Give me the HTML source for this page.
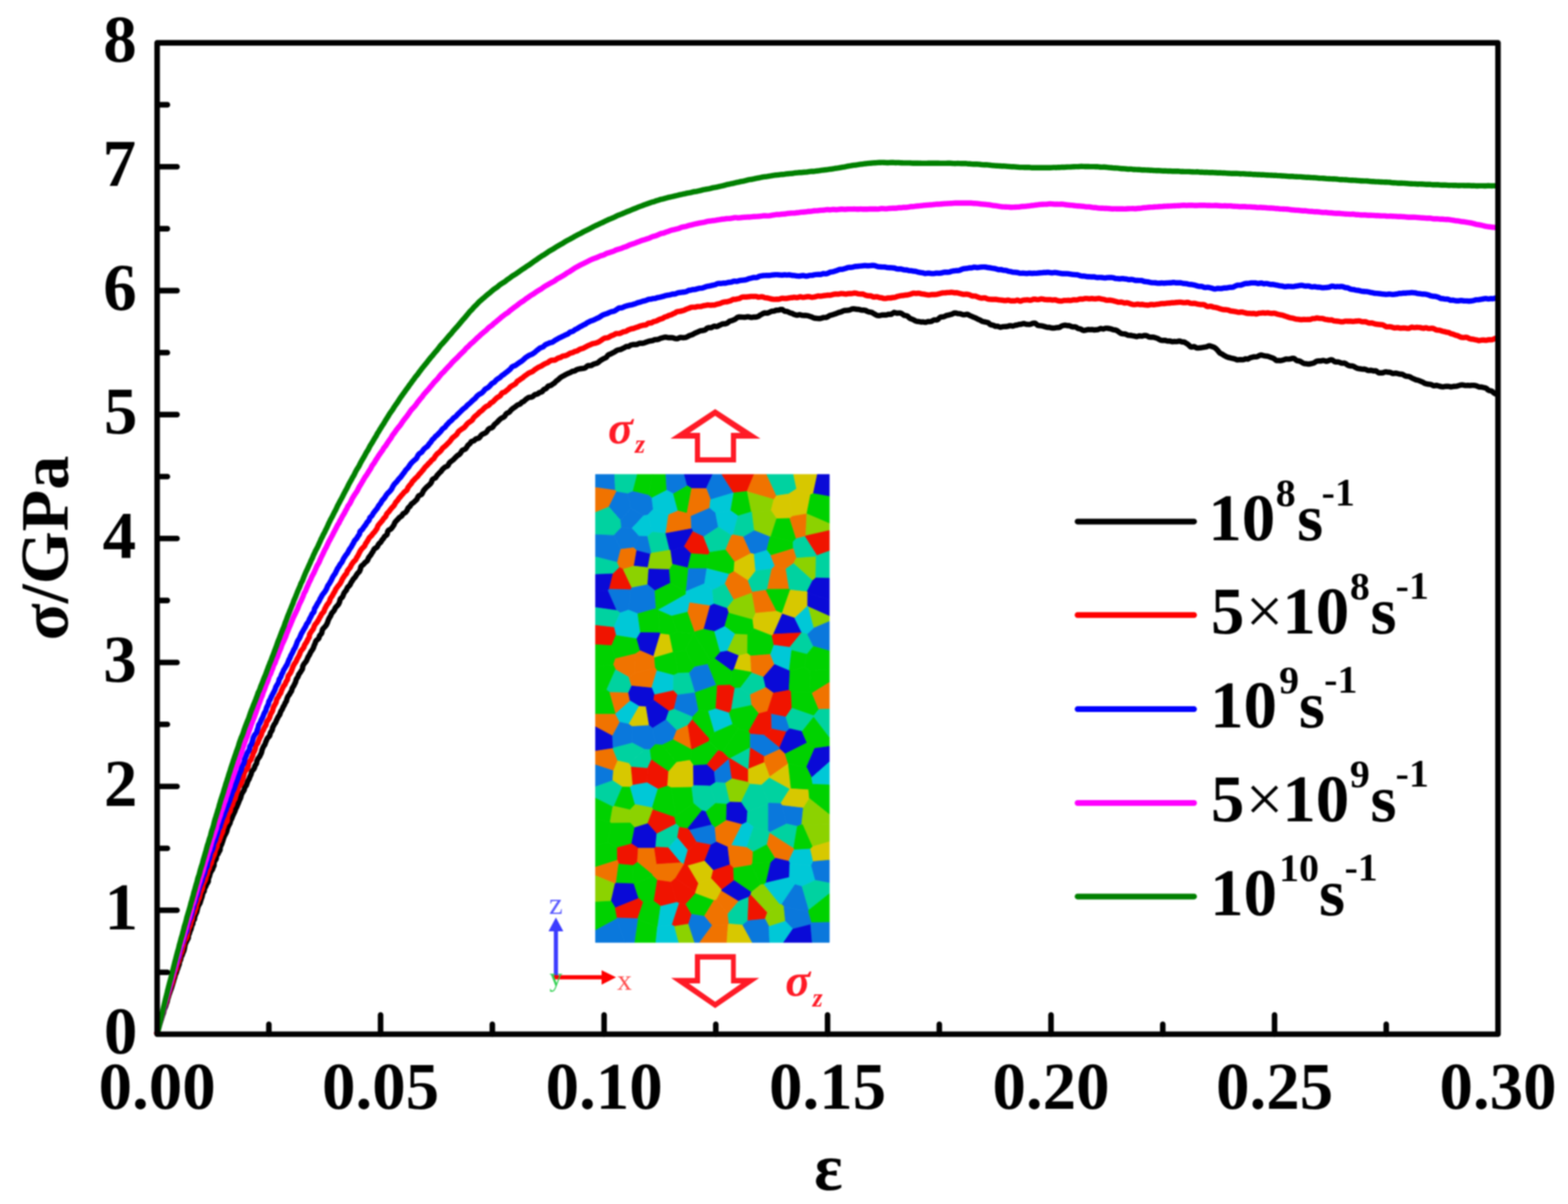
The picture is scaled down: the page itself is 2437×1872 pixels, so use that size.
<!DOCTYPE html>
<html><head><meta charset="utf-8"><title>Stress-strain curves</title>
<style>html,body{margin:0;padding:0;background:#fff;overflow:hidden}svg{display:block;filter:blur(0.9px)}</style>
</head><body>
<svg width="2437" height="1872" viewBox="0 0 2437 1872" font-family="'Liberation Serif', 'Times New Roman', serif">
<rect width="2437" height="1872" fill="#ffffff"/>
<g id="inset">
<polygon points="925.5,737.7 955.2,737.7 956.4,762.4 925.5,757.9" fill="#0a78dc" stroke="#0a78dc" stroke-width="0.8"/>
<polygon points="955.2,737.7 990.5,737.7 983.7,764.0 975.6,767.6 958.0,764.5 956.4,762.4" fill="#00d2a0" stroke="#00d2a0" stroke-width="0.8"/>
<polygon points="990.5,737.7 1014.0,737.7 1008.0,769.9 983.7,764.0" fill="#00d200" stroke="#00d200" stroke-width="0.8"/>
<polygon points="1014.0,737.7 1034.8,737.7 1036.3,762.2 1013.2,774.2 1008.0,769.9" fill="#00d200" stroke="#00d200" stroke-width="0.8"/>
<polygon points="1034.8,737.7 1063.6,737.7 1068.3,755.2 1046.6,767.8 1036.3,762.2" fill="#0a78dc" stroke="#0a78dc" stroke-width="0.8"/>
<polygon points="1063.6,737.7 1107.6,737.7 1097.6,759.6 1075.0,759.4 1068.3,755.2" fill="#0a0ad7" stroke="#0a0ad7" stroke-width="0.8"/>
<polygon points="1107.6,737.7 1122.0,737.7 1140.1,766.2 1104.3,776.9 1097.6,759.6" fill="#0a78dc" stroke="#0a78dc" stroke-width="0.8"/>
<polygon points="1122.0,737.7 1171.9,737.7 1161.1,763.9 1140.5,766.3 1140.1,766.2" fill="#f01400" stroke="#f01400" stroke-width="0.8"/>
<polygon points="1171.9,737.7 1191.7,737.7 1206.9,770.7 1202.8,776.5 1161.5,764.5 1161.1,763.9" fill="#f07300" stroke="#f07300" stroke-width="0.8"/>
<polygon points="1191.7,737.7 1233.3,737.7 1238.1,760.1 1225.6,768.1 1206.9,770.7" fill="#00d2a0" stroke="#00d2a0" stroke-width="0.8"/>
<polygon points="1233.3,737.7 1270.3,737.7 1264.0,767.4 1259.8,769.0 1238.1,760.1" fill="#d7c800" stroke="#d7c800" stroke-width="0.8"/>
<polygon points="1270.3,737.7 1289.0,737.7 1289.0,771.9 1264.0,767.4" fill="#0a0ad7" stroke="#0a0ad7" stroke-width="0.8"/>
<polygon points="925.5,796.7 925.5,757.9 956.4,762.4 958.0,764.5 946.3,788.2" fill="#f07300" stroke="#f07300" stroke-width="0.8"/>
<polygon points="946.3,788.2 958.0,764.5 975.6,767.6 980.4,790.3 964.7,809.3" fill="#0a78dc" stroke="#0a78dc" stroke-width="0.8"/>
<polygon points="980.4,790.3 975.6,767.6 983.7,764.0 1008.0,769.9 1013.2,774.2 1015.3,791.8 1006.9,800.7 1000.4,801.8" fill="#0a78dc" stroke="#0a78dc" stroke-width="0.8"/>
<polygon points="1015.3,791.8 1013.2,774.2 1036.3,762.2 1046.6,767.8 1053.7,794.2 1039.2,800.3" fill="#00c8d7" stroke="#00c8d7" stroke-width="0.8"/>
<polygon points="1053.7,794.2 1046.6,767.8 1068.3,755.2 1075.0,759.4 1067.7,798.1" fill="#00d200" stroke="#00d200" stroke-width="0.8"/>
<polygon points="1067.7,798.1 1075.0,759.4 1097.6,759.6 1104.3,776.9 1102.8,790.1 1073.9,802.6" fill="#f07300" stroke="#f07300" stroke-width="0.8"/>
<polygon points="1102.8,790.1 1104.3,776.9 1140.1,766.2 1140.5,766.3 1135.6,794.1 1112.3,798.1" fill="#00c8d7" stroke="#00c8d7" stroke-width="0.8"/>
<polygon points="1135.6,794.1 1140.5,766.3 1161.1,763.9 1161.5,764.5 1167.9,795.9 1147.1,802.2" fill="#00d200" stroke="#00d200" stroke-width="0.8"/>
<polygon points="1167.9,795.9 1161.5,764.5 1202.8,776.5 1198.4,794.0 1169.0,796.7" fill="#8cd200" stroke="#8cd200" stroke-width="0.8"/>
<polygon points="1198.4,794.0 1202.8,776.5 1206.9,770.7 1225.6,768.1 1231.8,802.7 1227.5,805.9 1207.0,806.6" fill="#d7c800" stroke="#d7c800" stroke-width="0.8"/>
<polygon points="1231.8,802.7 1225.6,768.1 1238.1,760.1 1259.8,769.0 1253.9,798.9" fill="#d7c800" stroke="#d7c800" stroke-width="0.8"/>
<polygon points="1289.0,771.9 1289.0,814.0 1253.9,798.9 1253.9,798.9 1259.8,769.0 1264.0,767.4" fill="#00d200" stroke="#00d200" stroke-width="0.8"/>
<polygon points="925.5,831.2 925.5,796.7 946.3,788.2 964.7,809.3 965.9,819.8 954.1,832.4" fill="#00d2a0" stroke="#00d2a0" stroke-width="0.8"/>
<polygon points="965.9,819.8 964.7,809.3 980.4,790.3 1000.4,801.8 982.0,821.6" fill="#0a78dc" stroke="#0a78dc" stroke-width="0.8"/>
<polygon points="982.0,821.6 1000.4,801.8 1006.9,800.7 1014.1,827.3 1006.6,834.0 993.1,833.7" fill="#00c8d7" stroke="#00c8d7" stroke-width="0.8"/>
<polygon points="1014.1,827.3 1006.9,800.7 1015.3,791.8 1039.2,800.3 1034.7,829.3 1034.6,829.4" fill="#00c8d7" stroke="#00c8d7" stroke-width="0.8"/>
<polygon points="1034.7,829.3 1039.2,800.3 1053.7,794.2 1067.7,798.1 1073.9,802.6 1074.8,821.9" fill="#f07300" stroke="#f07300" stroke-width="0.8"/>
<polygon points="1074.8,821.9 1073.9,802.6 1102.8,790.1 1112.3,798.1 1116.4,819.5 1093.7,834.6 1076.8,826.4" fill="#0a78dc" stroke="#0a78dc" stroke-width="0.8"/>
<polygon points="1116.4,819.5 1112.3,798.1 1135.6,794.1 1147.1,802.2 1139.4,831.5 1137.0,832.5" fill="#00c8d7" stroke="#00c8d7" stroke-width="0.8"/>
<polygon points="1139.4,831.5 1147.1,802.2 1167.9,795.9 1169.0,796.7 1172.5,824.9 1155.6,834.7" fill="#00d2a0" stroke="#00d2a0" stroke-width="0.8"/>
<polygon points="1172.5,824.9 1169.0,796.7 1198.4,794.0 1207.0,806.6 1198.2,833.9 1196.9,834.8" fill="#8cd200" stroke="#8cd200" stroke-width="0.8"/>
<polygon points="1198.2,833.9 1207.0,806.6 1227.5,805.9 1237.5,837.4 1232.7,842.3" fill="#00d200" stroke="#00d200" stroke-width="0.8"/>
<polygon points="1237.5,837.4 1227.5,805.9 1231.8,802.7 1253.9,798.9 1253.9,798.9 1252.4,833.1 1251.5,834.0" fill="#f07300" stroke="#f07300" stroke-width="0.8"/>
<polygon points="1289.0,814.0 1289.0,824.8 1252.4,833.1 1253.9,798.9" fill="#8cd200" stroke="#8cd200" stroke-width="0.8"/>
<polygon points="925.5,865.8 925.5,831.2 954.1,832.4 964.9,854.0 959.6,874.4" fill="#0a78dc" stroke="#0a78dc" stroke-width="0.8"/>
<polygon points="954.1,832.4 965.9,819.8 982.0,821.6 993.1,833.7 984.7,851.6 964.9,854.0" fill="#0a78dc" stroke="#0a78dc" stroke-width="0.8"/>
<polygon points="984.7,851.6 993.1,833.7 1006.6,834.0 1012.6,860.0 1011.0,861.6 989.5,856.1" fill="#0a78dc" stroke="#0a78dc" stroke-width="0.8"/>
<polygon points="1012.6,860.0 1006.6,834.0 1014.1,827.3 1034.6,829.4 1041.0,855.3" fill="#00d2a0" stroke="#00d2a0" stroke-width="0.8"/>
<polygon points="1041.0,855.3 1034.6,829.4 1034.7,829.3 1074.8,821.9 1076.8,826.4 1063.2,850.1 1042.5,856.4" fill="#0a0ad7" stroke="#0a0ad7" stroke-width="0.8"/>
<polygon points="1063.2,850.1 1076.8,826.4 1093.7,834.6 1103.2,858.7 1100.7,862.5 1074.2,860.8" fill="#f01400" stroke="#f01400" stroke-width="0.8"/>
<polygon points="1093.7,834.6 1116.4,819.5 1137.0,832.5 1127.7,855.0 1103.2,858.7" fill="#00d2a0" stroke="#00d2a0" stroke-width="0.8"/>
<polygon points="1127.7,855.0 1137.0,832.5 1139.4,831.5 1155.6,834.7 1167.1,860.4 1141.7,873.8" fill="#f07300" stroke="#f07300" stroke-width="0.8"/>
<polygon points="1167.1,860.4 1155.6,834.7 1172.5,824.9 1196.9,834.8 1191.7,855.6 1172.1,861.6" fill="#0a78dc" stroke="#0a78dc" stroke-width="0.8"/>
<polygon points="1191.7,855.6 1196.9,834.8 1198.2,833.9 1232.7,842.3 1232.9,853.1 1197.9,863.7" fill="#00d200" stroke="#00d200" stroke-width="0.8"/>
<polygon points="1237.5,867.8 1232.9,853.1 1232.7,842.3 1237.5,837.4 1251.5,834.0 1270.2,863.5 1268.3,865.7" fill="#00d2a0" stroke="#00d2a0" stroke-width="0.8"/>
<polygon points="1289.0,824.8 1289.0,856.7 1270.2,863.5 1251.5,834.0 1252.4,833.1" fill="#f01400" stroke="#f01400" stroke-width="0.8"/>
<polygon points="925.5,893.2 925.5,865.8 959.6,874.4 962.7,882.2 952.8,892.1" fill="#00d2a0" stroke="#00d2a0" stroke-width="0.8"/>
<polygon points="959.6,874.4 964.9,854.0 984.7,851.6 989.5,856.1 985.4,880.1 968.6,885.2 962.7,882.2" fill="#f07300" stroke="#f07300" stroke-width="0.8"/>
<polygon points="985.4,880.1 989.5,856.1 1011.0,861.6 1007.0,882.4" fill="#0a0ad7" stroke="#0a0ad7" stroke-width="0.8"/>
<polygon points="1007.0,882.4 1011.0,861.6 1012.6,860.0 1041.0,855.3 1042.5,856.4 1045.4,877.3 1040.4,885.4 1008.3,884.6" fill="#8cd200" stroke="#8cd200" stroke-width="0.8"/>
<polygon points="1045.4,877.3 1042.5,856.4 1063.2,850.1 1074.2,860.8 1069.1,882.9" fill="#0a0ad7" stroke="#0a0ad7" stroke-width="0.8"/>
<polygon points="1069.1,882.9 1074.2,860.8 1100.7,862.5 1098.7,884.0 1098.6,884.1 1070.1,884.0" fill="#00d200" stroke="#00d200" stroke-width="0.8"/>
<polygon points="1098.7,884.0 1100.7,862.5 1103.2,858.7 1127.7,855.0 1141.7,873.8 1140.7,888.5 1133.3,892.8" fill="#00d200" stroke="#00d200" stroke-width="0.8"/>
<polygon points="1140.7,888.5 1141.7,873.8 1167.1,860.4 1172.1,861.6 1174.4,887.7 1162.7,902.8" fill="#d7c800" stroke="#d7c800" stroke-width="0.8"/>
<polygon points="1174.4,887.7 1172.1,861.6 1191.7,855.6 1197.9,863.7 1204.3,879.8 1199.6,884.6" fill="#00c8d7" stroke="#00c8d7" stroke-width="0.8"/>
<polygon points="1204.3,879.8 1197.9,863.7 1232.9,853.1 1237.5,867.8 1233.4,876.1 1221.5,884.5" fill="#f07300" stroke="#f07300" stroke-width="0.8"/>
<polygon points="1233.4,876.1 1237.5,867.8 1268.3,865.7 1267.8,898.6 1262.9,902.7" fill="#8cd200" stroke="#8cd200" stroke-width="0.8"/>
<polygon points="1289.0,856.7 1289.0,899.0 1267.8,898.6 1268.3,865.7 1270.2,863.5" fill="#00d2a0" stroke="#00d2a0" stroke-width="0.8"/>
<polygon points="925.5,918.9 925.5,893.2 952.8,892.1 946.9,916.1 945.1,917.8" fill="#0a0ad7" stroke="#0a0ad7" stroke-width="0.8"/>
<polygon points="946.9,916.1 952.8,892.1 962.7,882.2 968.6,885.2 982.1,913.8 980.3,916.9" fill="#f01400" stroke="#f01400" stroke-width="0.8"/>
<polygon points="968.6,885.2 985.4,880.1 1007.0,882.4 1008.3,884.6 1006.6,909.1 982.1,913.8" fill="#8cd200" stroke="#8cd200" stroke-width="0.8"/>
<polygon points="1006.6,909.1 1008.3,884.6 1040.4,885.4 1042.1,906.4 1017.9,918.4" fill="#0a0ad7" stroke="#0a0ad7" stroke-width="0.8"/>
<polygon points="1042.1,906.4 1040.4,885.4 1045.4,877.3 1069.1,882.9 1070.1,884.0 1066.3,919.6 1066.1,919.8" fill="#00d200" stroke="#00d200" stroke-width="0.8"/>
<polygon points="1066.3,919.6 1070.1,884.0 1098.6,884.1 1095.0,907.5" fill="#0a78dc" stroke="#0a78dc" stroke-width="0.8"/>
<polygon points="1095.0,907.5 1098.6,884.1 1098.7,884.0 1133.3,892.8 1126.6,908.1 1107.4,917.4" fill="#00c8d7" stroke="#00c8d7" stroke-width="0.8"/>
<polygon points="1126.6,908.1 1133.3,892.8 1140.7,888.5 1162.7,902.8 1169.6,920.4 1168.8,921.9 1140.1,932.6" fill="#f07300" stroke="#f07300" stroke-width="0.8"/>
<polygon points="1162.7,902.8 1174.4,887.7 1199.6,884.6 1192.5,916.2 1190.5,917.5 1169.6,920.4" fill="#00d2a0" stroke="#00d2a0" stroke-width="0.8"/>
<polygon points="1192.5,916.2 1199.6,884.6 1204.3,879.8 1221.5,884.5 1226.7,916.0" fill="#f07300" stroke="#f07300" stroke-width="0.8"/>
<polygon points="1226.7,916.0 1221.5,884.5 1233.4,876.1 1262.9,902.7 1254.2,920.0 1228.2,917.3" fill="#00d2a0" stroke="#00d2a0" stroke-width="0.8"/>
<polygon points="1289.0,899.0 1289.0,932.2 1255.2,921.8 1254.2,920.0 1262.9,902.7 1267.8,898.6" fill="#0a0ad7" stroke="#0a0ad7" stroke-width="0.8"/>
<polygon points="925.5,944.6 925.5,918.9 945.1,917.8 958.9,949.2" fill="#0a0ad7" stroke="#0a0ad7" stroke-width="0.8"/>
<polygon points="945.1,917.8 946.9,916.1 980.3,916.9 976.8,948.5 964.0,952.9 958.9,949.2" fill="#0a78dc" stroke="#0a78dc" stroke-width="0.8"/>
<polygon points="976.8,948.5 980.3,916.9 982.1,913.8 1006.6,909.1 1017.9,918.4 1019.6,946.2 991.3,954.3" fill="#0a78dc" stroke="#0a78dc" stroke-width="0.8"/>
<polygon points="1019.6,946.2 1017.9,918.4 1042.1,906.4 1066.1,919.8 1066.1,924.2 1023.0,948.4" fill="#00d200" stroke="#00d200" stroke-width="0.8"/>
<polygon points="1023.0,948.4 1066.1,924.2 1072.0,937.1 1069.0,951.5 1043.7,957.8 1023.3,948.9" fill="#00c8d7" stroke="#00c8d7" stroke-width="0.8"/>
<polygon points="1066.1,924.2 1066.1,919.8 1066.3,919.6 1095.0,907.5 1107.4,917.4 1109.5,938.9 1103.8,941.9 1072.0,937.1" fill="#00c8d7" stroke="#00c8d7" stroke-width="0.8"/>
<polygon points="1109.5,938.9 1107.4,917.4 1126.6,908.1 1140.1,932.6 1129.9,945.9" fill="#00d2a0" stroke="#00d2a0" stroke-width="0.8"/>
<polygon points="1129.9,945.9 1140.1,932.6 1168.8,921.9 1174.4,953.4 1170.0,963.6 1132.2,953.1" fill="#8cd200" stroke="#8cd200" stroke-width="0.8"/>
<polygon points="1174.4,953.4 1168.8,921.9 1169.6,920.4 1190.5,917.5 1207.2,950.3" fill="#f07300" stroke="#f07300" stroke-width="0.8"/>
<polygon points="1190.5,917.5 1192.5,916.2 1226.7,916.0 1228.2,917.3 1215.4,953.8 1207.2,950.3" fill="#00d200" stroke="#00d200" stroke-width="0.8"/>
<polygon points="1215.4,953.8 1228.2,917.3 1254.2,920.0 1255.2,921.8 1255.1,942.2 1235.1,960.9 1215.9,954.6" fill="#d7c800" stroke="#d7c800" stroke-width="0.8"/>
<polygon points="1289.0,932.2 1289.0,958.1 1256.4,943.5 1255.1,942.2 1255.2,921.8" fill="#0a0ad7" stroke="#0a0ad7" stroke-width="0.8"/>
<polygon points="925.5,972.3 925.5,944.6 958.9,949.2 964.0,952.9 954.1,975.4" fill="#00d2a0" stroke="#00d2a0" stroke-width="0.8"/>
<polygon points="954.1,975.4 964.0,952.9 976.8,948.5 991.3,954.3 995.4,983.5 989.7,993.1 957.2,987.9" fill="#00c8d7" stroke="#00c8d7" stroke-width="0.8"/>
<polygon points="995.4,983.5 991.3,954.3 1019.6,946.2 1023.0,948.4 1023.3,948.9 1025.2,983.9" fill="#00d200" stroke="#00d200" stroke-width="0.8"/>
<polygon points="1025.2,983.9 1023.3,948.9 1043.7,957.8 1052.0,982.2 1040.7,987.2 1026.4,985.4" fill="#00d200" stroke="#00d200" stroke-width="0.8"/>
<polygon points="1043.7,957.8 1069.0,951.5 1079.9,982.2 1078.0,984.6 1077.6,984.9 1052.0,982.2" fill="#00d200" stroke="#00d200" stroke-width="0.8"/>
<polygon points="1069.0,951.5 1072.0,937.1 1103.8,941.9 1093.9,978.3 1079.9,982.2" fill="#f07300" stroke="#f07300" stroke-width="0.8"/>
<polygon points="1093.9,978.3 1103.8,941.9 1109.5,938.9 1129.9,945.9 1132.2,953.1 1126.3,974.0 1110.6,981.8" fill="#0a0ad7" stroke="#0a0ad7" stroke-width="0.8"/>
<polygon points="1126.3,974.0 1132.2,953.1 1170.0,963.6 1171.8,977.5 1162.0,987.0 1142.5,985.9" fill="#00d200" stroke="#00d200" stroke-width="0.8"/>
<polygon points="1171.8,977.5 1170.0,963.6 1174.4,953.4 1207.2,950.3 1215.4,953.8 1215.9,954.6 1202.0,986.1 1199.8,988.4" fill="#d7c800" stroke="#d7c800" stroke-width="0.8"/>
<polygon points="1202.0,986.1 1215.9,954.6 1235.1,960.9 1246.2,983.5 1245.7,983.8" fill="#0a0ad7" stroke="#0a0ad7" stroke-width="0.8"/>
<polygon points="1246.2,983.5 1235.1,960.9 1255.1,942.2 1256.4,943.5 1265.2,976.3 1255.0,986.2" fill="#00c8d7" stroke="#00c8d7" stroke-width="0.8"/>
<polygon points="1289.0,958.1 1289.0,966.2 1265.2,976.3 1256.4,943.5" fill="#8cd200" stroke="#8cd200" stroke-width="0.8"/>
<polygon points="925.5,1002.3 925.5,972.3 954.1,975.4 957.2,987.9 950.7,1003.8" fill="#f01400" stroke="#f01400" stroke-width="0.8"/>
<polygon points="950.7,1003.8 957.2,987.9 989.7,993.1 995.1,1011.7 987.4,1016.7 956.5,1024.2" fill="#00d200" stroke="#00d200" stroke-width="0.8"/>
<polygon points="995.1,1011.7 989.7,993.1 995.4,983.5 1025.2,983.9 1026.4,985.4 1015.8,1020.6" fill="#0a0ad7" stroke="#0a0ad7" stroke-width="0.8"/>
<polygon points="1015.8,1020.6 1026.4,985.4 1040.7,987.2 1046.2,1014.0 1017.2,1022.6" fill="#d7c800" stroke="#d7c800" stroke-width="0.8"/>
<polygon points="1046.2,1014.0 1040.7,987.2 1052.0,982.2 1077.6,984.9 1065.6,1010.6 1048.3,1014.6" fill="#00d200" stroke="#00d200" stroke-width="0.8"/>
<polygon points="1078.0,984.6 1079.9,982.2 1093.9,978.3 1110.6,981.8 1119.5,1013.9 1110.8,1024.1 1104.5,1027.3" fill="#00d200" stroke="#00d200" stroke-width="0.8"/>
<polygon points="1119.5,1013.9 1110.6,981.8 1126.3,974.0 1142.5,985.9 1130.4,1012.2" fill="#00c8d7" stroke="#00c8d7" stroke-width="0.8"/>
<polygon points="1130.4,1012.2 1142.5,985.9 1162.0,987.0 1161.8,1016.2 1148.2,1019.5" fill="#8cd200" stroke="#8cd200" stroke-width="0.8"/>
<polygon points="1161.8,1016.2 1162.0,987.0 1171.8,977.5 1199.8,988.4 1202.9,1003.1 1197.5,1017.4 1166.5,1019.8" fill="#00d200" stroke="#00d200" stroke-width="0.8"/>
<polygon points="1202.9,1003.1 1199.8,988.4 1202.0,986.1 1245.7,983.8 1227.4,1006.4" fill="#f01400" stroke="#f01400" stroke-width="0.8"/>
<polygon points="1230.4,1011.2 1227.4,1006.4 1245.7,983.8 1246.2,983.5 1255.0,986.2 1264.3,1004.9 1254.2,1017.2" fill="#00d2a0" stroke="#00d2a0" stroke-width="0.8"/>
<polygon points="1289.0,966.2 1289.0,1012.1 1264.3,1004.9 1255.0,986.2 1265.2,976.3" fill="#0a78dc" stroke="#0a78dc" stroke-width="0.8"/>
<polygon points="925.5,1036.3 925.5,1002.3 950.7,1003.8 956.5,1024.2 953.4,1033.9" fill="#00d200" stroke="#00d200" stroke-width="0.8"/>
<polygon points="953.4,1033.9 956.5,1024.2 987.4,1016.7 986.2,1046.4 977.6,1053.1 956.7,1041.2" fill="#f07300" stroke="#f07300" stroke-width="0.8"/>
<polygon points="986.2,1046.4 987.4,1016.7 995.1,1011.7 1015.8,1020.6 1017.2,1022.6 1018.5,1038.8" fill="#f07300" stroke="#f07300" stroke-width="0.8"/>
<polygon points="1018.5,1038.8 1017.2,1022.6 1046.2,1014.0 1048.3,1014.6 1053.9,1046.7 1046.9,1049.9 1020.9,1043.0" fill="#00d200" stroke="#00d200" stroke-width="0.8"/>
<polygon points="1053.9,1046.7 1048.3,1014.6 1065.6,1010.6 1079.3,1037.1 1071.5,1046.0" fill="#00d200" stroke="#00d200" stroke-width="0.8"/>
<polygon points="1065.6,1010.6 1077.6,984.9 1078.0,984.6 1104.5,1027.3 1100.3,1032.7 1079.3,1037.1" fill="#00d200" stroke="#00d200" stroke-width="0.8"/>
<polygon points="1110.8,1024.1 1119.5,1013.9 1130.4,1012.2 1148.2,1019.5 1140.9,1040.3 1137.5,1043.4" fill="#0a0ad7" stroke="#0a0ad7" stroke-width="0.8"/>
<polygon points="1140.9,1040.3 1148.2,1019.5 1161.8,1016.2 1166.5,1019.8 1167.9,1045.0" fill="#d7c800" stroke="#d7c800" stroke-width="0.8"/>
<polygon points="1167.9,1045.0 1166.5,1019.8 1197.5,1017.4 1203.8,1033.0 1186.6,1052.8 1168.4,1046.2" fill="#f07300" stroke="#f07300" stroke-width="0.8"/>
<polygon points="1203.8,1033.0 1197.5,1017.4 1202.9,1003.1 1227.4,1006.4 1230.4,1011.2 1226.6,1042.8" fill="#00c8d7" stroke="#00c8d7" stroke-width="0.8"/>
<polygon points="1226.6,1042.8 1230.4,1011.2 1254.2,1017.2 1249.5,1037.1 1227.8,1043.9" fill="#00d200" stroke="#00d200" stroke-width="0.8"/>
<polygon points="1289.0,1012.1 1289.0,1040.7 1258.7,1042.9 1249.5,1037.1 1254.2,1017.2 1264.3,1004.9" fill="#00d200" stroke="#00d200" stroke-width="0.8"/>
<polygon points="925.5,1076.0 925.5,1036.3 953.4,1033.9 956.7,1041.2 942.8,1072.8" fill="#00d200" stroke="#00d200" stroke-width="0.8"/>
<polygon points="942.8,1072.8 956.7,1041.2 977.6,1053.1 981.7,1066.5 976.8,1077.3 947.8,1076.5" fill="#00d2a0" stroke="#00d2a0" stroke-width="0.8"/>
<polygon points="981.7,1066.5 977.6,1053.1 986.2,1046.4 1018.5,1038.8 1020.9,1043.0 1012.8,1069.6" fill="#f07300" stroke="#f07300" stroke-width="0.8"/>
<polygon points="1012.8,1069.6 1020.9,1043.0 1046.9,1049.9 1046.6,1073.8 1017.1,1080.3" fill="#00c8d7" stroke="#00c8d7" stroke-width="0.8"/>
<polygon points="1046.6,1073.8 1046.9,1049.9 1053.9,1046.7 1071.5,1046.0 1080.5,1076.8 1080.4,1077.0 1052.9,1080.5" fill="#00d2a0" stroke="#00d2a0" stroke-width="0.8"/>
<polygon points="1080.5,1076.8 1071.5,1046.0 1079.3,1037.1 1100.3,1032.7 1113.4,1065.1" fill="#0a78dc" stroke="#0a78dc" stroke-width="0.8"/>
<polygon points="1100.3,1032.7 1104.5,1027.3 1110.8,1024.1 1137.5,1043.4 1134.5,1064.9 1114.9,1065.9 1113.4,1065.1" fill="#00d200" stroke="#00d200" stroke-width="0.8"/>
<polygon points="1134.5,1064.9 1137.5,1043.4 1140.9,1040.3 1167.9,1045.0 1168.4,1046.2 1150.5,1069.7 1142.1,1070.1" fill="#00d200" stroke="#00d200" stroke-width="0.8"/>
<polygon points="1150.5,1069.7 1168.4,1046.2 1186.6,1052.8 1190.3,1068.9 1166.2,1079.9" fill="#00d2a0" stroke="#00d2a0" stroke-width="0.8"/>
<polygon points="1190.3,1068.9 1186.6,1052.8 1203.8,1033.0 1226.6,1042.8 1227.8,1043.9 1226.4,1073.1 1202.0,1077.5" fill="#0a0ad7" stroke="#0a0ad7" stroke-width="0.8"/>
<polygon points="1226.4,1073.1 1227.8,1043.9 1249.5,1037.1 1258.7,1042.9 1260.2,1076.6 1229.7,1076.1" fill="#00d200" stroke="#00d200" stroke-width="0.8"/>
<polygon points="1289.0,1040.7 1289.0,1061.1 1262.2,1077.7 1260.2,1076.6 1258.7,1042.9" fill="#00d200" stroke="#00d200" stroke-width="0.8"/>
<polygon points="925.5,1110.4 925.5,1076.0 942.8,1072.8 947.8,1076.5 957.0,1109.6 956.8,1110.3" fill="#00d200" stroke="#00d200" stroke-width="0.8"/>
<polygon points="957.0,1109.6 947.8,1076.5 976.8,1077.3 979.4,1089.8" fill="#f07300" stroke="#f07300" stroke-width="0.8"/>
<polygon points="979.4,1089.8 976.8,1077.3 981.7,1066.5 1012.8,1069.6 1017.1,1080.3 1016.0,1088.7 1004.3,1099.1 993.4,1098.1" fill="#0a0ad7" stroke="#0a0ad7" stroke-width="0.8"/>
<polygon points="1016.0,1088.7 1017.1,1080.3 1046.6,1073.8 1052.9,1080.5 1047.6,1102.6 1039.7,1105.6" fill="#f01400" stroke="#f01400" stroke-width="0.8"/>
<polygon points="1047.6,1102.6 1052.9,1080.5 1080.4,1077.0 1085.8,1104.5 1076.3,1114.7" fill="#0a78dc" stroke="#0a78dc" stroke-width="0.8"/>
<polygon points="1085.8,1104.5 1080.4,1077.0 1080.5,1076.8 1113.4,1065.1 1114.9,1065.9 1112.5,1102.0 1101.1,1105.7" fill="#00d200" stroke="#00d200" stroke-width="0.8"/>
<polygon points="1112.5,1102.0 1114.9,1065.9 1134.5,1064.9 1142.1,1070.1 1136.7,1103.3 1133.2,1108.5" fill="#f01400" stroke="#f01400" stroke-width="0.8"/>
<polygon points="1136.7,1103.3 1142.1,1070.1 1150.5,1069.7 1166.2,1079.9 1168.4,1096.6" fill="#00d2a0" stroke="#00d2a0" stroke-width="0.8"/>
<polygon points="1168.4,1096.6 1166.2,1079.9 1190.3,1068.9 1202.0,1077.5 1192.8,1106.1 1179.1,1109.6" fill="#f07300" stroke="#f07300" stroke-width="0.8"/>
<polygon points="1192.8,1106.1 1202.0,1077.5 1226.4,1073.1 1229.7,1076.1 1230.8,1101.0 1221.4,1114.8 1198.9,1110.2" fill="#f01400" stroke="#f01400" stroke-width="0.8"/>
<polygon points="1230.8,1101.0 1229.7,1076.1 1260.2,1076.6 1262.2,1077.7 1272.7,1102.9 1264.8,1112.9" fill="#00d200" stroke="#00d200" stroke-width="0.8"/>
<polygon points="1289.0,1061.1 1289.0,1102.5 1272.7,1102.9 1262.2,1077.7" fill="#f07300" stroke="#f07300" stroke-width="0.8"/>
<polygon points="925.5,1130.0 925.5,1110.4 956.8,1110.3 963.4,1122.8 951.9,1144.2" fill="#f07300" stroke="#f07300" stroke-width="0.8"/>
<polygon points="956.8,1110.3 957.0,1109.6 979.4,1089.8 993.4,1098.1 977.4,1125.9 963.4,1122.8" fill="#00c8d7" stroke="#00c8d7" stroke-width="0.8"/>
<polygon points="977.4,1125.9 993.4,1098.1 1004.3,1099.1 1009.1,1127.9 982.3,1129.6" fill="#d7c800" stroke="#d7c800" stroke-width="0.8"/>
<polygon points="1009.1,1127.9 1004.3,1099.1 1016.0,1088.7 1039.7,1105.6 1035.1,1119.0 1014.2,1132.2" fill="#0a0ad7" stroke="#0a0ad7" stroke-width="0.8"/>
<polygon points="1035.1,1119.0 1039.7,1105.6 1047.6,1102.6 1076.3,1114.7 1075.8,1119.0 1069.2,1127.5 1051.8,1135.7" fill="#00d2a0" stroke="#00d2a0" stroke-width="0.8"/>
<polygon points="1075.8,1119.0 1076.3,1114.7 1085.8,1104.5 1101.1,1105.7 1110.7,1138.6 1102.5,1148.9" fill="#00d200" stroke="#00d200" stroke-width="0.8"/>
<polygon points="1110.7,1138.6 1101.1,1105.7 1112.5,1102.0 1133.2,1108.5 1138.9,1126.0" fill="#00c8d7" stroke="#00c8d7" stroke-width="0.8"/>
<polygon points="1138.9,1126.0 1133.2,1108.5 1136.7,1103.3 1168.4,1096.6 1179.1,1109.6 1163.5,1137.4 1147.6,1132.9" fill="#00d200" stroke="#00d200" stroke-width="0.8"/>
<polygon points="1163.5,1137.4 1179.1,1109.6 1192.8,1106.1 1198.9,1110.2 1199.5,1133.3 1188.3,1143.0 1165.9,1141.3" fill="#f01400" stroke="#f01400" stroke-width="0.8"/>
<polygon points="1199.5,1133.3 1198.9,1110.2 1221.4,1114.8 1227.3,1132.9 1222.2,1137.9" fill="#0a78dc" stroke="#0a78dc" stroke-width="0.8"/>
<polygon points="1227.3,1132.9 1221.4,1114.8 1230.8,1101.0 1264.8,1112.9 1264.5,1114.9 1246.6,1137.3" fill="#00d2a0" stroke="#00d2a0" stroke-width="0.8"/>
<polygon points="1289.0,1102.5 1289.0,1147.1 1264.5,1114.9 1264.8,1112.9 1272.7,1102.9" fill="#00d2a0" stroke="#00d2a0" stroke-width="0.8"/>
<polygon points="925.5,1167.8 925.5,1130.0 951.9,1144.2 953.0,1163.0 952.5,1163.7" fill="#0a0ad7" stroke="#0a0ad7" stroke-width="0.8"/>
<polygon points="953.0,1163.0 951.9,1144.2 963.4,1122.8 977.4,1125.9 982.3,1129.6 982.9,1155.2" fill="#0a78dc" stroke="#0a78dc" stroke-width="0.8"/>
<polygon points="982.9,1155.2 982.3,1129.6 1009.1,1127.9 1014.2,1132.2 1018.5,1157.4 1010.4,1165.4 1001.9,1165.2" fill="#0a78dc" stroke="#0a78dc" stroke-width="0.8"/>
<polygon points="1018.5,1157.4 1014.2,1132.2 1035.1,1119.0 1051.8,1135.7 1046.3,1150.0 1029.1,1158.3" fill="#0a78dc" stroke="#0a78dc" stroke-width="0.8"/>
<polygon points="1046.3,1150.0 1051.8,1135.7 1069.2,1127.5 1075.0,1165.4" fill="#f07300" stroke="#f07300" stroke-width="0.8"/>
<polygon points="1075.0,1165.4 1069.2,1127.5 1075.8,1119.0 1102.5,1148.9 1102.2,1152.4 1075.3,1165.8" fill="#f01400" stroke="#f01400" stroke-width="0.8"/>
<polygon points="1102.2,1152.4 1102.5,1148.9 1110.7,1138.6 1138.9,1126.0 1147.6,1132.9 1122.8,1169.0 1116.4,1166.8" fill="#00d200" stroke="#00d200" stroke-width="0.8"/>
<polygon points="1122.8,1169.0 1147.6,1132.9 1163.5,1137.4 1165.9,1141.3 1166.1,1162.6 1134.7,1179.3 1133.2,1179.6" fill="#00d200" stroke="#00d200" stroke-width="0.8"/>
<polygon points="1166.1,1162.6 1165.9,1141.3 1188.3,1143.0 1211.8,1161.9 1212.2,1164.9 1187.9,1176.2 1166.2,1162.7" fill="#0a78dc" stroke="#0a78dc" stroke-width="0.8"/>
<polygon points="1188.3,1143.0 1199.5,1133.3 1222.2,1137.9 1211.8,1161.9" fill="#f01400" stroke="#f01400" stroke-width="0.8"/>
<polygon points="1220.2,1172.3 1212.2,1164.9 1211.8,1161.9 1222.2,1137.9 1227.3,1132.9 1246.6,1137.3 1254.3,1154.9" fill="#0a0ad7" stroke="#0a0ad7" stroke-width="0.8"/>
<polygon points="1289.0,1147.1 1289.0,1160.4 1266.2,1163.6 1254.3,1154.9 1246.6,1137.3 1264.5,1114.9" fill="#00d200" stroke="#00d200" stroke-width="0.8"/>
<polygon points="925.5,1189.2 925.5,1167.8 952.5,1163.7 960.1,1182.8 953.4,1198.4" fill="#f07300" stroke="#f07300" stroke-width="0.8"/>
<polygon points="960.1,1182.8 952.5,1163.7 953.0,1163.0 982.9,1155.2 1001.9,1165.2 977.3,1186.9" fill="#00d2a0" stroke="#00d2a0" stroke-width="0.8"/>
<polygon points="977.3,1186.9 1001.9,1165.2 1010.4,1165.4 1012.5,1181.3 1006.4,1194.6 981.0,1192.5" fill="#00d2a0" stroke="#00d2a0" stroke-width="0.8"/>
<polygon points="1012.5,1181.3 1010.4,1165.4 1018.5,1157.4 1029.1,1158.3 1051.6,1185.2 1039.1,1199.7" fill="#00d200" stroke="#00d200" stroke-width="0.8"/>
<polygon points="1029.1,1158.3 1046.3,1150.0 1075.0,1165.4 1075.3,1165.8 1072.1,1182.1 1051.6,1185.2" fill="#00d200" stroke="#00d200" stroke-width="0.8"/>
<polygon points="1072.1,1182.1 1075.3,1165.8 1102.2,1152.4 1116.4,1166.8 1098.5,1188.9 1077.7,1190.3" fill="#00d200" stroke="#00d200" stroke-width="0.8"/>
<polygon points="1098.5,1188.9 1116.4,1166.8 1122.8,1169.0 1133.2,1179.6 1133.1,1180.0 1110.3,1199.9" fill="#f01400" stroke="#f01400" stroke-width="0.8"/>
<polygon points="1134.7,1179.3 1166.1,1162.6 1166.2,1162.7 1163.6,1195.5 1163.0,1196.7" fill="#00d2a0" stroke="#00d2a0" stroke-width="0.8"/>
<polygon points="1163.6,1195.5 1166.2,1162.7 1187.9,1176.2 1187.8,1185.6" fill="#f01400" stroke="#f01400" stroke-width="0.8"/>
<polygon points="1187.8,1185.6 1187.9,1176.2 1212.2,1164.9 1220.2,1172.3 1225.1,1187.4 1196.2,1207.8" fill="#f07300" stroke="#f07300" stroke-width="0.8"/>
<polygon points="1225.1,1187.4 1220.2,1172.3 1254.3,1154.9 1266.2,1163.6 1253.4,1192.9 1225.3,1187.5" fill="#00d200" stroke="#00d200" stroke-width="0.8"/>
<polygon points="1289.0,1160.4 1289.0,1184.7 1261.4,1209.1 1253.4,1192.9 1266.2,1163.6" fill="#0a0ad7" stroke="#0a0ad7" stroke-width="0.8"/>
<polygon points="925.5,1223.2 925.5,1189.2 953.4,1198.4 952.3,1213.7" fill="#0a78dc" stroke="#0a78dc" stroke-width="0.8"/>
<polygon points="952.3,1213.7 953.4,1198.4 960.1,1182.8 977.3,1186.9 981.0,1192.5 983.6,1220.8 979.5,1223.8 967.2,1223.6" fill="#d7c800" stroke="#d7c800" stroke-width="0.8"/>
<polygon points="983.6,1220.8 981.0,1192.5 1006.4,1194.6 1005.6,1216.9" fill="#f01400" stroke="#f01400" stroke-width="0.8"/>
<polygon points="1005.6,1216.9 1006.4,1194.6 1012.5,1181.3 1039.1,1199.7 1037.5,1222.1 1022.6,1226.8" fill="#f01400" stroke="#f01400" stroke-width="0.8"/>
<polygon points="1037.5,1222.1 1039.1,1199.7 1051.6,1185.2 1072.1,1182.1 1077.7,1190.3 1078.0,1221.2 1075.2,1224.1 1043.2,1224.7" fill="#d7c800" stroke="#d7c800" stroke-width="0.8"/>
<polygon points="1078.0,1221.2 1077.7,1190.3 1098.5,1188.9 1110.3,1199.9 1112.1,1216.4 1103.8,1222.1" fill="#0a0ad7" stroke="#0a0ad7" stroke-width="0.8"/>
<polygon points="1112.1,1216.4 1110.3,1199.9 1133.1,1180.0 1137.6,1210.7 1127.6,1217.4" fill="#0a78dc" stroke="#0a78dc" stroke-width="0.8"/>
<polygon points="1137.6,1210.7 1133.1,1180.0 1133.2,1179.6 1134.7,1179.3 1163.0,1196.7 1163.0,1216.2" fill="#f01400" stroke="#f01400" stroke-width="0.8"/>
<polygon points="1163.0,1216.2 1163.0,1196.7 1163.6,1195.5 1187.8,1185.6 1196.2,1207.8 1195.7,1209.6 1183.5,1220.6 1165.6,1219.0" fill="#d7c800" stroke="#d7c800" stroke-width="0.8"/>
<polygon points="1195.7,1209.6 1196.2,1207.8 1225.1,1187.4 1225.3,1187.5 1229.5,1226.3 1227.3,1227.1" fill="#d7c800" stroke="#d7c800" stroke-width="0.8"/>
<polygon points="1229.5,1226.3 1225.3,1187.5 1253.4,1192.9 1261.4,1209.1 1263.3,1219.3 1256.8,1228.0" fill="#00d200" stroke="#00d200" stroke-width="0.8"/>
<polygon points="1289.0,1184.7 1289.0,1220.3 1263.3,1219.3 1261.4,1209.1" fill="#00c8d7" stroke="#00c8d7" stroke-width="0.8"/>
<polygon points="925.5,1240.9 925.5,1223.2 952.3,1213.7 967.2,1223.6 954.3,1253.4 952.4,1254.5" fill="#00d2a0" stroke="#00d2a0" stroke-width="0.8"/>
<polygon points="954.3,1253.4 967.2,1223.6 979.5,1223.8 987.2,1250.8 979.3,1259.2" fill="#00d200" stroke="#00d200" stroke-width="0.8"/>
<polygon points="987.2,1250.8 979.5,1223.8 983.6,1220.8 1005.6,1216.9 1022.6,1226.8 1013.6,1256.0" fill="#00c8d7" stroke="#00c8d7" stroke-width="0.8"/>
<polygon points="1013.6,1256.0 1022.6,1226.8 1037.5,1222.1 1043.2,1224.7 1050.3,1267.7 1048.7,1270.7 1014.8,1259.0" fill="#00d200" stroke="#00d200" stroke-width="0.8"/>
<polygon points="1050.3,1267.7 1043.2,1224.7 1075.2,1224.1 1078.3,1249.4" fill="#00d200" stroke="#00d200" stroke-width="0.8"/>
<polygon points="1078.3,1249.4 1075.2,1224.1 1078.0,1221.2 1103.8,1222.1 1112.0,1249.0 1097.2,1262.0 1091.0,1260.2" fill="#00d2a0" stroke="#00d2a0" stroke-width="0.8"/>
<polygon points="1112.0,1249.0 1103.8,1222.1 1112.1,1216.4 1127.6,1217.4 1134.7,1246.9 1129.6,1250.3" fill="#00d2a0" stroke="#00d2a0" stroke-width="0.8"/>
<polygon points="1134.7,1246.9 1127.6,1217.4 1137.6,1210.7 1163.0,1216.2 1165.6,1219.0 1151.8,1247.5" fill="#8cd200" stroke="#8cd200" stroke-width="0.8"/>
<polygon points="1151.8,1247.5 1165.6,1219.0 1183.5,1220.6 1194.8,1248.6 1194.2,1249.4 1161.8,1262.3" fill="#00d2a0" stroke="#00d2a0" stroke-width="0.8"/>
<polygon points="1194.8,1248.6 1183.5,1220.6 1195.7,1209.6 1227.3,1227.1 1213.3,1249.3" fill="#00d2a0" stroke="#00d2a0" stroke-width="0.8"/>
<polygon points="1213.3,1249.3 1227.3,1227.1 1229.5,1226.3 1256.8,1228.0 1258.0,1241.6 1248.5,1256.3 1215.8,1252.4" fill="#d7c800" stroke="#d7c800" stroke-width="0.8"/>
<polygon points="1289.0,1220.3 1289.0,1266.4 1258.0,1241.6 1256.8,1228.0 1263.3,1219.3" fill="#00d200" stroke="#00d200" stroke-width="0.8"/>
<polygon points="925.5,1272.9 925.5,1240.9 952.4,1254.5 948.3,1278.2" fill="#00d200" stroke="#00d200" stroke-width="0.8"/>
<polygon points="948.3,1278.2 952.4,1254.5 954.3,1253.4 979.3,1259.2 979.6,1279.5 949.2,1279.9" fill="#8cd200" stroke="#8cd200" stroke-width="0.8"/>
<polygon points="979.6,1279.5 979.3,1259.2 987.2,1250.8 1013.6,1256.0 1014.8,1259.0 1006.6,1280.4 986.5,1286.8" fill="#8cd200" stroke="#8cd200" stroke-width="0.8"/>
<polygon points="1006.6,1280.4 1014.8,1259.0 1048.7,1270.7 1050.9,1281.0 1020.8,1296.5" fill="#f01400" stroke="#f01400" stroke-width="0.8"/>
<polygon points="1050.9,1281.0 1048.7,1270.7 1050.3,1267.7 1078.3,1249.4 1091.0,1260.2 1068.5,1288.3 1055.8,1286.2" fill="#00d200" stroke="#00d200" stroke-width="0.8"/>
<polygon points="1068.5,1288.3 1091.0,1260.2 1097.2,1262.0 1106.6,1282.4 1072.0,1290.7" fill="#0a0ad7" stroke="#0a0ad7" stroke-width="0.8"/>
<polygon points="1106.6,1282.4 1097.2,1262.0 1112.0,1249.0 1129.6,1250.3 1128.9,1275.5 1111.3,1286.9" fill="#00d200" stroke="#00d200" stroke-width="0.8"/>
<polygon points="1128.9,1275.5 1129.6,1250.3 1134.7,1246.9 1151.8,1247.5 1161.8,1262.3 1160.7,1278.3 1153.2,1281.9" fill="#0a0ad7" stroke="#0a0ad7" stroke-width="0.8"/>
<polygon points="1160.7,1278.3 1161.8,1262.3 1194.2,1249.4 1194.1,1292.1 1171.3,1285.9" fill="#00d2a0" stroke="#00d2a0" stroke-width="0.8"/>
<polygon points="1194.1,1292.1 1194.2,1249.4 1194.8,1248.6 1213.3,1249.3 1215.8,1252.4 1222.4,1281.0 1196.3,1294.1" fill="#0a78dc" stroke="#0a78dc" stroke-width="0.8"/>
<polygon points="1222.4,1281.0 1215.8,1252.4 1248.5,1256.3 1245.9,1282.1 1239.2,1284.8" fill="#0a78dc" stroke="#0a78dc" stroke-width="0.8"/>
<polygon points="1289.0,1266.4 1289.0,1281.6 1248.5,1283.0 1245.9,1282.1 1248.5,1256.3 1258.0,1241.6" fill="#8cd200" stroke="#8cd200" stroke-width="0.8"/>
<polygon points="925.5,1314.1 925.5,1272.9 948.3,1278.2 949.2,1279.9 945.0,1309.8" fill="#00d200" stroke="#00d200" stroke-width="0.8"/>
<polygon points="945.0,1309.8 949.2,1279.9 979.6,1279.5 986.5,1286.8 981.6,1311.9 959.4,1317.9" fill="#00d200" stroke="#00d200" stroke-width="0.8"/>
<polygon points="981.6,1311.9 986.5,1286.8 1006.6,1280.4 1020.8,1296.5 1019.0,1317.0 1017.1,1318.8 992.0,1318.8" fill="#0a0ad7" stroke="#0a0ad7" stroke-width="0.8"/>
<polygon points="1019.0,1317.0 1020.8,1296.5 1050.9,1281.0 1055.8,1286.2 1052.8,1302.5 1039.4,1318.1" fill="#00d2a0" stroke="#00d2a0" stroke-width="0.8"/>
<polygon points="1052.8,1302.5 1055.8,1286.2 1068.5,1288.3 1072.0,1290.7 1083.2,1309.3 1069.1,1322.2" fill="#f01400" stroke="#f01400" stroke-width="0.8"/>
<polygon points="1083.2,1309.3 1072.0,1290.7 1106.6,1282.4 1111.3,1286.9 1113.4,1309.0 1104.9,1313.6" fill="#0a78dc" stroke="#0a78dc" stroke-width="0.8"/>
<polygon points="1113.4,1309.0 1111.3,1286.9 1128.9,1275.5 1153.2,1281.9 1136.9,1314.4 1131.3,1317.1" fill="#f07300" stroke="#f07300" stroke-width="0.8"/>
<polygon points="1136.9,1314.4 1153.2,1281.9 1160.7,1278.3 1171.3,1285.9 1160.6,1317.6" fill="#00c8d7" stroke="#00c8d7" stroke-width="0.8"/>
<polygon points="1160.6,1317.6 1171.3,1285.9 1194.1,1292.1 1196.3,1294.1 1196.5,1295.5 1192.2,1313.0 1170.4,1324.5" fill="#00d2a0" stroke="#00d2a0" stroke-width="0.8"/>
<polygon points="1196.5,1295.5 1196.3,1294.1 1222.4,1281.0 1239.2,1284.8 1233.4,1319.2" fill="#00d2a0" stroke="#00d2a0" stroke-width="0.8"/>
<polygon points="1234.0,1321.4 1233.4,1319.2 1239.2,1284.8 1245.9,1282.1 1248.5,1283.0 1263.2,1316.3 1259.6,1320.0" fill="#00d200" stroke="#00d200" stroke-width="0.8"/>
<polygon points="1289.0,1281.6 1289.0,1308.8 1263.2,1316.3 1248.5,1283.0" fill="#8cd200" stroke="#8cd200" stroke-width="0.8"/>
<polygon points="925.5,1348.3 925.5,1314.1 945.0,1309.8 959.4,1317.9 959.5,1337.4" fill="#00d200" stroke="#00d200" stroke-width="0.8"/>
<polygon points="959.5,1337.4 959.4,1317.9 981.6,1311.9 992.0,1318.8 990.6,1340.6 984.0,1345.6 961.6,1343.4" fill="#f01400" stroke="#f01400" stroke-width="0.8"/>
<polygon points="990.6,1340.6 992.0,1318.8 1017.1,1318.8 1020.8,1343.8 1014.2,1360.0" fill="#f07300" stroke="#f07300" stroke-width="0.8"/>
<polygon points="1020.8,1343.8 1017.1,1318.8 1019.0,1317.0 1039.4,1318.1 1058.8,1341.4" fill="#f01400" stroke="#f01400" stroke-width="0.8"/>
<polygon points="1039.4,1318.1 1052.8,1302.5 1069.1,1322.2 1062.9,1343.6 1058.8,1341.4" fill="#00c8d7" stroke="#00c8d7" stroke-width="0.8"/>
<polygon points="1062.9,1343.6 1069.1,1322.2 1083.2,1309.3 1104.9,1313.6 1095.1,1338.8 1069.5,1346.1 1063.1,1343.9" fill="#f01400" stroke="#f01400" stroke-width="0.8"/>
<polygon points="1095.1,1338.8 1104.9,1313.6 1113.4,1309.0 1131.3,1317.1 1134.7,1344.4 1108.5,1353.3" fill="#0a0ad7" stroke="#0a0ad7" stroke-width="0.8"/>
<polygon points="1134.7,1344.4 1131.3,1317.1 1136.9,1314.4 1160.6,1317.6 1170.4,1324.5 1169.7,1341.5 1167.8,1345.1 1140.0,1349.8" fill="#f07300" stroke="#f07300" stroke-width="0.8"/>
<polygon points="1169.7,1341.5 1170.4,1324.5 1192.2,1313.0 1205.1,1334.2 1198.0,1340.8" fill="#00d200" stroke="#00d200" stroke-width="0.8"/>
<polygon points="1192.2,1313.0 1196.5,1295.5 1233.4,1319.2 1234.0,1321.4 1225.7,1338.9 1205.1,1334.2" fill="#f07300" stroke="#f07300" stroke-width="0.8"/>
<polygon points="1227.4,1343.1 1225.7,1338.9 1234.0,1321.4 1259.6,1320.0 1264.0,1339.5 1261.0,1345.4" fill="#00c8d7" stroke="#00c8d7" stroke-width="0.8"/>
<polygon points="1289.0,1308.8 1289.0,1337.3 1264.0,1339.5 1259.6,1320.0 1263.2,1316.3" fill="#d7c800" stroke="#d7c800" stroke-width="0.8"/>
<polygon points="925.5,1361.4 925.5,1348.3 959.5,1337.4 961.6,1343.4 957.5,1373.0 956.0,1374.0" fill="#f07300" stroke="#f07300" stroke-width="0.8"/>
<polygon points="957.5,1373.0 961.6,1343.4 984.0,1345.6 983.3,1374.0" fill="#00d200" stroke="#00d200" stroke-width="0.8"/>
<polygon points="983.3,1374.0 984.0,1345.6 990.6,1340.6 1014.2,1360.0 1014.3,1361.4 985.7,1374.9" fill="#00d200" stroke="#00d200" stroke-width="0.8"/>
<polygon points="1014.3,1361.4 1014.2,1360.0 1020.8,1343.8 1058.8,1341.4 1062.9,1343.6 1063.1,1343.9 1049.9,1365.4 1042.7,1371.5 1021.6,1368.5" fill="#f07300" stroke="#f07300" stroke-width="0.8"/>
<polygon points="1049.9,1365.4 1063.1,1343.9 1069.5,1346.1 1085.7,1373.5 1081.0,1387.1" fill="#f01400" stroke="#f01400" stroke-width="0.8"/>
<polygon points="1085.7,1373.5 1069.5,1346.1 1095.1,1338.8 1108.5,1353.3 1105.4,1366.0" fill="#d7c800" stroke="#d7c800" stroke-width="0.8"/>
<polygon points="1105.4,1366.0 1108.5,1353.3 1134.7,1344.4 1140.0,1349.8 1140.8,1368.9 1121.6,1383.6" fill="#f01400" stroke="#f01400" stroke-width="0.8"/>
<polygon points="1140.8,1368.9 1140.0,1349.8 1167.8,1345.1 1182.4,1375.4 1167.7,1387.3" fill="#00d200" stroke="#00d200" stroke-width="0.8"/>
<polygon points="1182.4,1375.4 1167.8,1345.1 1169.7,1341.5 1198.0,1340.8 1190.5,1372.8 1187.5,1375.0" fill="#00d200" stroke="#00d200" stroke-width="0.8"/>
<polygon points="1190.5,1372.8 1198.0,1340.8 1205.1,1334.2 1225.7,1338.9 1227.4,1343.1 1226.8,1364.2" fill="#0a0ad7" stroke="#0a0ad7" stroke-width="0.8"/>
<polygon points="1226.8,1364.2 1227.4,1343.1 1261.0,1345.4 1267.3,1368.7 1246.6,1378.4 1235.6,1375.3" fill="#00c8d7" stroke="#00c8d7" stroke-width="0.8"/>
<polygon points="1289.0,1337.3 1289.0,1372.9 1267.3,1368.7 1261.0,1345.4 1264.0,1339.5" fill="#0a78dc" stroke="#0a78dc" stroke-width="0.8"/>
<polygon points="925.5,1402.4 925.5,1361.4 956.0,1374.0 949.8,1401.1" fill="#8cd200" stroke="#8cd200" stroke-width="0.8"/>
<polygon points="956.2,1411.6 949.8,1401.1 956.0,1374.0 957.5,1373.0 983.3,1374.0 985.7,1374.9 992.7,1396.8" fill="#0a0ad7" stroke="#0a0ad7" stroke-width="0.8"/>
<polygon points="992.7,1396.8 985.7,1374.9 1014.3,1361.4 1021.6,1368.5 1016.3,1401.3 999.7,1403.0" fill="#00d200" stroke="#00d200" stroke-width="0.8"/>
<polygon points="1016.3,1401.3 1021.6,1368.5 1042.7,1371.5 1051.8,1402.9 1026.9,1409.1" fill="#f01400" stroke="#f01400" stroke-width="0.8"/>
<polygon points="1051.8,1402.9 1042.7,1371.5 1049.9,1365.4 1081.0,1387.1 1080.9,1389.3 1065.9,1405.8 1055.5,1404.6" fill="#f01400" stroke="#f01400" stroke-width="0.8"/>
<polygon points="1080.9,1389.3 1081.0,1387.1 1085.7,1373.5 1105.4,1366.0 1121.6,1383.6 1121.4,1384.6 1113.4,1399.2 1109.5,1400.1" fill="#d7c800" stroke="#d7c800" stroke-width="0.8"/>
<polygon points="1113.4,1399.2 1121.4,1384.6 1148.4,1400.9 1131.3,1420.9" fill="#f07300" stroke="#f07300" stroke-width="0.8"/>
<polygon points="1121.4,1384.6 1121.6,1383.6 1140.8,1368.9 1167.7,1387.3 1166.7,1391.3 1163.8,1394.8 1148.4,1400.9" fill="#0a0ad7" stroke="#0a0ad7" stroke-width="0.8"/>
<polygon points="1166.7,1391.3 1167.7,1387.3 1182.4,1375.4 1187.5,1375.0 1212.3,1406.1 1192.5,1419.3" fill="#8cd200" stroke="#8cd200" stroke-width="0.8"/>
<polygon points="1212.3,1406.1 1187.5,1375.0 1190.5,1372.8 1226.8,1364.2 1235.6,1375.3 1214.8,1406.3" fill="#00c8d7" stroke="#00c8d7" stroke-width="0.8"/>
<polygon points="1214.8,1406.3 1235.6,1375.3 1246.6,1378.4 1257.2,1414.8 1256.6,1417.6 1218.5,1410.1" fill="#0a78dc" stroke="#0a78dc" stroke-width="0.8"/>
<polygon points="1289.0,1372.9 1289.0,1389.5 1257.2,1414.8 1246.6,1378.4 1267.3,1368.7" fill="#00d2a0" stroke="#00d2a0" stroke-width="0.8"/>
<polygon points="925.5,1446.6 925.5,1402.4 949.8,1401.1 956.2,1411.6 959.1,1427.2 958.4,1428.6" fill="#00d200" stroke="#00d200" stroke-width="0.8"/>
<polygon points="959.1,1427.2 956.2,1411.6 992.7,1396.8 999.7,1403.0 991.1,1428.3" fill="#f01400" stroke="#f01400" stroke-width="0.8"/>
<polygon points="991.1,1428.3 999.7,1403.0 1016.3,1401.3 1026.9,1409.1 1022.3,1440.5 1021.8,1441.0 991.9,1429.2" fill="#00d200" stroke="#00d200" stroke-width="0.8"/>
<polygon points="1022.3,1440.5 1026.9,1409.1 1051.8,1402.9 1055.5,1404.6 1044.4,1438.3" fill="#00c8d7" stroke="#00c8d7" stroke-width="0.8"/>
<polygon points="1044.4,1438.3 1055.5,1404.6 1065.9,1405.8 1075.0,1421.4 1070.2,1436.7 1048.4,1440.3" fill="#f01400" stroke="#f01400" stroke-width="0.8"/>
<polygon points="1075.0,1421.4 1065.9,1405.8 1080.9,1389.3 1109.5,1400.1 1094.6,1424.6" fill="#00d200" stroke="#00d200" stroke-width="0.8"/>
<polygon points="1106.6,1439.2 1094.6,1424.6 1109.5,1400.1 1113.4,1399.2 1131.3,1420.9 1133.1,1436.4 1131.7,1437.7" fill="#f07300" stroke="#f07300" stroke-width="0.8"/>
<polygon points="1133.1,1436.4 1131.3,1420.9 1148.4,1400.9 1163.8,1394.8 1162.2,1431.5 1154.3,1438.3" fill="#00d2a0" stroke="#00d2a0" stroke-width="0.8"/>
<polygon points="1162.2,1431.5 1163.8,1394.8 1166.7,1391.3 1192.5,1419.3 1189.1,1429.0" fill="#f01400" stroke="#f01400" stroke-width="0.8"/>
<polygon points="1195.1,1440.6 1189.1,1429.0 1192.5,1419.3 1212.3,1406.1 1214.8,1406.3 1218.5,1410.1 1220.7,1432.3" fill="#8cd200" stroke="#8cd200" stroke-width="0.8"/>
<polygon points="1232.1,1444.6 1220.7,1432.3 1218.5,1410.1 1256.6,1417.6 1261.7,1434.6 1260.0,1437.4" fill="#0a78dc" stroke="#0a78dc" stroke-width="0.8"/>
<polygon points="1289.0,1389.5 1289.0,1434.0 1261.7,1434.6 1256.6,1417.6 1257.2,1414.8" fill="#00d200" stroke="#00d200" stroke-width="0.8"/>
<polygon points="971.1,1465.3 925.5,1465.3 925.5,1446.6 958.4,1428.6" fill="#0a78dc" stroke="#0a78dc" stroke-width="0.8"/>
<polygon points="986.7,1465.3 971.1,1465.3 958.4,1428.6 959.1,1427.2 991.1,1428.3 991.9,1429.2" fill="#0a78dc" stroke="#0a78dc" stroke-width="0.8"/>
<polygon points="1019.3,1465.3 986.7,1465.3 991.9,1429.2 1021.8,1441.0" fill="#00d200" stroke="#00d200" stroke-width="0.8"/>
<polygon points="1055.0,1465.3 1019.3,1465.3 1021.8,1441.0 1022.3,1440.5 1044.4,1438.3 1048.4,1440.3" fill="#00c8d7" stroke="#00c8d7" stroke-width="0.8"/>
<polygon points="1079.6,1465.3 1055.0,1465.3 1048.4,1440.3 1070.2,1436.7" fill="#8cd200" stroke="#8cd200" stroke-width="0.8"/>
<polygon points="1087.6,1465.3 1079.6,1465.3 1070.2,1436.7 1075.0,1421.4 1094.6,1424.6 1106.6,1439.2" fill="#0a78dc" stroke="#0a78dc" stroke-width="0.8"/>
<polygon points="1129.7,1465.3 1087.6,1465.3 1106.6,1439.2 1131.7,1437.7" fill="#f07300" stroke="#f07300" stroke-width="0.8"/>
<polygon points="1169.2,1465.3 1129.7,1465.3 1131.7,1437.7 1133.1,1436.4 1154.3,1438.3" fill="#d7c800" stroke="#d7c800" stroke-width="0.8"/>
<polygon points="1196.3,1465.3 1169.2,1465.3 1154.3,1438.3 1162.2,1431.5 1189.1,1429.0 1195.1,1440.6" fill="#0a78dc" stroke="#0a78dc" stroke-width="0.8"/>
<polygon points="1217.8,1465.3 1196.3,1465.3 1195.1,1440.6 1220.7,1432.3 1232.1,1444.6" fill="#00c8d7" stroke="#00c8d7" stroke-width="0.8"/>
<polygon points="1262.3,1465.3 1217.8,1465.3 1232.1,1444.6 1260.0,1437.4" fill="#0a0ad7" stroke="#0a0ad7" stroke-width="0.8"/>
<polygon points="1289.0,1434.0 1289.0,1465.3 1262.3,1465.3 1260.0,1437.4 1261.7,1434.6" fill="#0a78dc" stroke="#0a78dc" stroke-width="0.8"/>
</g>
<path d="M1111.5,636 L1182,682 L1144,682 L1144,719 L1080,719 L1080,682 L1042,682 Z M1111.5,646.5 L1151,673 L1136,673 L1136,711 L1088,711 L1088,673 L1072,673 Z" fill="#ff1a26" fill-rule="evenodd"/>
<path d="M1080,1483.5 L1143.6,1483.5 L1143.6,1520.5 L1180,1520.5 L1111.5,1567.4 L1043,1520.5 L1080,1520.5 Z M1088,1492 L1136.2,1492 L1136.2,1529 L1152,1529 L1111.5,1557.5 L1070.7,1529 L1088,1529 Z" fill="#ff1a26" fill-rule="evenodd"/>
<text x="945.0" y="688.5" font-size="72" font-weight="bold" font-style="italic" fill="#ff1a26" >σ</text>
<text x="987.0" y="704.0" font-size="40" font-weight="bold" font-style="italic" fill="#ff1a26" >z</text>
<text x="1220.6" y="1548.0" font-size="72" font-weight="bold" font-style="italic" fill="#ff1a26" >σ</text>
<text x="1263.0" y="1564.5" font-size="40" font-weight="bold" font-style="italic" fill="#ff1a26" >z</text>
<line x1="864" y1="1522" x2="864" y2="1446" stroke="#3c3cff" stroke-width="6.5"/>
<polygon points="852.5,1448 875.5,1448 864,1426.5" fill="#3c3cff"/>
<line x1="861" y1="1519.5" x2="937" y2="1519.5" stroke="#ff0000" stroke-width="6.7"/>
<polygon points="935,1508.5 935,1531 957.5,1519.5" fill="#ff0000"/>
<text x="853.3" y="1420.5" font-size="48" font-weight="normal" font-style="normal" fill="#5a5aff" >z</text>
<text x="959.0" y="1538.6" font-size="46" font-weight="normal" font-style="normal" fill="#ff5050" >x</text>
<text x="854.0" y="1533.0" font-size="40" font-weight="normal" font-style="normal" fill="#30d050" >y</text>
<path d="M244.0,1606.0 L244.5,1604.6 L244.9,1603.1 L245.4,1601.7 L245.8,1600.3 L246.3,1598.8 L246.8,1597.4 L247.2,1596.0 L247.7,1594.5 L248.1,1593.1 L248.6,1591.7 L249.0,1590.2 L249.5,1588.8 L249.9,1587.3 L250.4,1585.9 L250.9,1584.5 L251.3,1583.0 L251.7,1581.6 L252.2,1580.2 L252.6,1578.7 L253.1,1577.3 L253.7,1575.9 L254.1,1574.5 L254.5,1573.0 L254.7,1571.5 L255.1,1570.1 L255.7,1568.6 L256.2,1567.3 L256.9,1565.9 L257.4,1564.5 L257.9,1563.0 L258.3,1561.6 L258.8,1560.2 L259.3,1558.8 L259.8,1557.3 L260.1,1555.9 L260.4,1554.4 L260.7,1552.9 L261.2,1551.5 L261.7,1550.1 L262.1,1548.6 L262.5,1547.2 L263.0,1545.8 L263.5,1544.3 L264.0,1542.9 L264.5,1541.5 L265.0,1540.1 L265.6,1538.7 L266.1,1537.3 L266.6,1535.9 L267.0,1534.4 L267.4,1533.0 L267.9,1531.6 L268.3,1530.1 L268.8,1528.7 L269.2,1527.3 L269.7,1525.8 L270.0,1524.4 L270.4,1522.9 L270.9,1521.5 L271.4,1520.1 L271.8,1518.6 L272.1,1517.2 L272.6,1515.7 L273.1,1514.3 L273.8,1513.0 L274.3,1511.6 L274.7,1510.1 L275.1,1508.7 L275.7,1507.3 L276.3,1505.9 L276.7,1504.5 L277.1,1503.0 L277.7,1501.6 L278.3,1500.2 L278.7,1498.8 L278.8,1497.3 L279.0,1495.7 L279.6,1494.4 L280.3,1493.0 L280.8,1491.6 L281.1,1490.1 L281.3,1488.6 L281.9,1487.2 L282.7,1485.9 L283.3,1484.5 L283.7,1483.1 L284.2,1481.7 L284.9,1480.3 L285.5,1479.0 L286.0,1477.5 L286.3,1476.1 L286.7,1474.6 L286.9,1473.1 L287.2,1471.6 L287.4,1470.1 L287.8,1468.7 L288.3,1467.3 L288.9,1465.9 L289.6,1464.5 L290.2,1463.1 L291.0,1461.8 L291.6,1460.5 L292.4,1459.1 L292.8,1457.7 L292.8,1456.1 L292.9,1454.6 L293.3,1453.2 L294.2,1451.9 L294.6,1450.4 L295.0,1449.0 L295.5,1447.6 L296.1,1446.2 L296.8,1444.8 L297.1,1443.4 L297.5,1441.9 L297.7,1440.4 L298.3,1439.0 L298.9,1437.7 L299.7,1436.3 L299.8,1434.8 L299.8,1433.2 L300.3,1431.8 L301.3,1430.6 L302.2,1429.3 L302.4,1427.8 L302.5,1426.2 L302.9,1424.8 L303.3,1423.4 L304.0,1422.0 L304.5,1420.6 L305.3,1419.3 L305.8,1417.9 L306.2,1416.4 L306.5,1414.9 L306.8,1413.5 L307.2,1412.0 L307.6,1410.6 L308.1,1409.2 L308.6,1407.8 L309.4,1406.5 L310.3,1405.2 L311.0,1403.8 L311.4,1402.4 L311.8,1400.9 L312.2,1399.5 L312.7,1398.1 L313.2,1396.7 L313.7,1395.3 L314.1,1393.8 L314.5,1392.4 L314.7,1390.9 L315.1,1389.4 L315.7,1388.1 L316.5,1386.8 L317.4,1385.5 L317.5,1383.9 L317.7,1382.4 L318.0,1380.9 L319.0,1379.7 L319.7,1378.4 L320.3,1377.0 L320.8,1375.6 L321.5,1374.2 L322.4,1373.0 L323.2,1371.7 L323.8,1370.3 L323.8,1368.7 L323.9,1367.2 L324.2,1365.7 L324.8,1364.3 L325.4,1362.9 L325.8,1361.5 L326.2,1360.0 L326.5,1358.6 L327.1,1357.2 L327.6,1355.8 L328.4,1354.5 L329.3,1353.2 L330.2,1351.9 L330.6,1350.5 L331.1,1349.1 L331.7,1347.7 L332.5,1346.4 L332.7,1344.9 L332.7,1343.3 L332.7,1341.7 L333.2,1340.3 L333.7,1338.9 L334.6,1337.6 L335.5,1336.3 L336.1,1335.0 L336.4,1333.5 L336.2,1331.8 L336.7,1330.4 L337.4,1329.1 L338.7,1328.0 L339.2,1326.6 L340.0,1325.2 L340.6,1323.9 L341.5,1322.6 L342.1,1321.2 L342.1,1319.6 L342.3,1318.1 L342.5,1316.6 L343.2,1315.3 L343.8,1313.9 L344.6,1312.6 L345.0,1311.1 L345.5,1309.7 L346.0,1308.3 L346.4,1306.9 L346.9,1305.4 L347.3,1304.0 L347.8,1302.6 L348.3,1301.1 L348.9,1299.8 L349.6,1298.5 L350.3,1297.1 L351.1,1295.8 L351.7,1294.4 L352.3,1293.1 L352.7,1291.6 L353.1,1290.2 L353.3,1288.6 L353.9,1287.2 L354.4,1285.8 L355.1,1284.5 L355.6,1283.1 L356.4,1281.8 L357.2,1280.5 L357.7,1279.1 L358.0,1277.6 L358.4,1276.1 L359.1,1274.8 L359.8,1273.5 L360.4,1272.1 L361.0,1270.7 L361.4,1269.2 L362.0,1267.9 L362.7,1266.5 L363.3,1265.1 L364.0,1263.8 L364.6,1262.4 L365.3,1261.1 L365.6,1259.6 L366.1,1258.2 L366.8,1256.9 L367.5,1255.5 L368.2,1254.2 L368.7,1252.8 L369.3,1251.4 L369.9,1250.0 L370.5,1248.6 L371.1,1247.2 L371.5,1245.8 L372.1,1244.4 L372.8,1243.1 L373.5,1241.7 L374.0,1240.3 L374.4,1238.8 L374.8,1237.4 L375.1,1235.9 L375.7,1234.5 L376.4,1233.2 L377.2,1231.9 L378.1,1230.6 L378.9,1229.3 L379.6,1228.0 L379.9,1226.5 L380.2,1225.0 L381.0,1223.7 L381.8,1222.4 L382.9,1221.2 L383.3,1219.8 L383.9,1218.4 L384.3,1216.9 L384.8,1215.5 L385.4,1214.1 L386.2,1212.8 L387.0,1211.5 L387.6,1210.1 L388.0,1208.7 L388.6,1207.3 L389.3,1205.9 L389.9,1204.6 L390.4,1203.1 L390.7,1201.6 L391.1,1200.1 L391.9,1198.9 L392.8,1197.6 L394.0,1196.5 L394.7,1195.2 L395.5,1193.9 L395.8,1192.4 L396.3,1190.9 L397.0,1189.6 L397.9,1188.4 L398.7,1187.0 L399.0,1185.5 L399.2,1184.0 L399.6,1182.5 L400.3,1181.1 L400.9,1179.8 L401.9,1178.6 L402.7,1177.3 L403.7,1176.1 L404.3,1174.7 L404.9,1173.3 L405.6,1172.0 L406.2,1170.6 L406.7,1169.2 L406.9,1167.6 L407.3,1166.1 L407.8,1164.7 L408.4,1163.3 L408.9,1161.9 L409.7,1160.6 L410.5,1159.3 L411.5,1158.1 L412.0,1156.7 L412.5,1155.3 L412.9,1153.8 L413.6,1152.4 L414.2,1151.1 L414.7,1149.7 L415.4,1148.3 L416.3,1147.1 L417.4,1145.9 L418.5,1144.8 L419.3,1143.5 L419.6,1142.0 L420.0,1140.5 L420.4,1139.0 L421.3,1137.8 L422.2,1136.5 L422.9,1135.2 L423.4,1133.8 L423.5,1132.1 L424.1,1130.8 L424.6,1129.4 L425.5,1128.1 L426.0,1126.7 L426.9,1125.4 L427.8,1124.2 L428.6,1122.9 L429.1,1121.5 L429.6,1120.1 L430.3,1118.7 L431.0,1117.4 L431.6,1116.0 L432.2,1114.7 L433.1,1113.5 L434.0,1112.2 L434.9,1111.0 L435.2,1109.5 L435.8,1108.1 L436.2,1106.6 L437.0,1105.3 L437.8,1104.0 L438.6,1102.8 L439.2,1101.4 L439.7,1100.0 L440.4,1098.6 L441.2,1097.4 L442.0,1096.1 L442.6,1094.7 L443.0,1093.3 L443.9,1092.1 L444.7,1090.8 L445.4,1089.4 L445.6,1087.9 L446.1,1086.4 L446.6,1085.0 L447.1,1083.6 L447.9,1082.3 L448.8,1081.1 L449.8,1079.9 L450.4,1078.6 L451.2,1077.3 L451.9,1076.0 L452.9,1074.8 L453.3,1073.3 L453.8,1071.9 L454.0,1070.4 L454.8,1069.1 L455.6,1067.8 L456.5,1066.6 L457.1,1065.3 L457.7,1063.9 L458.4,1062.6 L459.1,1061.2 L459.6,1059.8 L459.9,1058.3 L460.3,1056.8 L460.9,1055.5 L461.7,1054.2 L462.6,1053.0 L463.3,1051.6 L463.8,1050.3 L464.2,1048.8 L465.2,1047.6 L466.0,1046.3 L467.0,1045.2 L467.6,1043.8 L468.4,1042.6 L469.3,1041.3 L470.0,1040.1 L470.3,1038.5 L470.4,1036.9 L470.7,1035.4 L471.5,1034.1 L472.2,1032.8 L473.1,1031.6 L474.0,1030.4 L475.1,1029.2 L475.9,1028.0 L476.6,1026.7 L477.2,1025.3 L477.8,1023.9 L478.4,1022.6 L479.0,1021.2 L479.8,1020.0 L480.6,1018.7 L481.3,1017.4 L481.9,1016.0 L482.6,1014.7 L483.2,1013.3 L484.2,1012.1 L484.9,1010.9 L485.9,1009.7 L486.5,1008.3 L487.3,1007.0 L487.6,1005.5 L488.1,1004.1 L488.6,1002.7 L489.4,1001.4 L489.9,1000.0 L490.3,998.5 L490.8,997.1 L491.7,995.9 L492.9,994.8 L494.2,993.8 L495.3,992.7 L495.9,991.3 L496.2,989.8 L496.7,988.4 L497.7,987.2 L498.8,986.1 L499.8,984.9 L500.2,983.5 L500.5,981.9 L500.8,980.3 L501.3,978.9 L502.0,977.6 L503.1,976.5 L504.2,975.4 L505.3,974.3 L506.2,973.1 L507.1,971.9 L507.8,970.6 L508.5,969.2 L509.1,967.8 L509.5,966.3 L510.0,964.9 L510.6,963.5 L511.2,962.1 L511.9,960.8 L512.7,959.5 L513.5,958.2 L514.2,956.9 L514.7,955.4 L515.4,954.1 L516.1,952.8 L517.2,951.7 L518.3,950.5 L519.2,949.3 L519.9,948.0 L520.5,946.6 L521.1,945.2 L522.0,944.0 L523.1,942.8 L524.3,941.8 L525.2,940.6 L526.2,939.5 L526.8,938.0 L527.5,936.7 L527.9,935.2 L528.3,933.7 L528.7,932.1 L529.4,930.8 L530.6,929.8 L531.8,928.7 L532.6,927.4 L533.2,926.1 L533.7,924.6 L534.3,923.2 L534.9,921.8 L535.8,920.5 L536.8,919.4 L537.8,918.2 L538.7,917.0 L539.0,915.4 L539.8,914.1 L540.5,912.8 L541.8,911.8 L542.8,910.7 L543.9,909.6 L544.6,908.2 L545.2,906.8 L545.8,905.4 L546.7,904.2 L547.6,903.0 L548.3,901.6 L549.1,900.4 L550.1,899.2 L551.3,898.2 L552.2,897.0 L553.0,895.7 L553.7,894.4 L554.6,893.1 L555.4,891.9 L556.4,890.8 L557.6,889.7 L558.6,888.6 L559.3,887.2 L559.8,885.8 L560.3,884.3 L560.6,882.6 L561.0,881.1 L561.9,879.9 L563.2,878.9 L564.5,878.0 L565.5,876.9 L566.4,875.7 L567.4,874.6 L568.7,873.6 L570.0,872.7 L571.0,871.6 L571.7,870.3 L572.1,868.8 L572.9,867.4 L573.5,866.1 L574.6,865.0 L575.5,863.8 L576.5,862.7 L577.2,861.3 L577.9,860.0 L578.8,858.8 L579.7,857.6 L580.3,856.2 L580.9,854.8 L581.7,853.6 L582.9,852.6 L584.4,851.9 L585.7,851.0 L586.6,849.8 L587.3,848.4 L587.9,847.0 L588.7,845.8 L589.7,844.7 L591.0,843.8 L592.0,842.7 L592.8,841.5 L593.4,840.0 L594.4,838.9 L595.4,837.8 L596.4,836.7 L597.0,835.3 L597.8,834.0 L599.0,833.1 L600.4,832.3 L601.5,831.2 L602.0,829.8 L602.2,828.1 L602.5,826.4 L603.3,825.1 L604.5,824.1 L606.0,823.4 L607.3,822.6 L608.4,821.6 L609.3,820.4 L610.2,819.2 L611.0,818.0 L611.9,816.7 L612.6,815.4 L613.1,813.9 L613.7,812.5 L614.6,811.3 L615.7,810.2 L616.6,809.1 L617.8,808.1 L618.7,807.0 L619.7,805.8 L620.7,804.7 L621.9,803.8 L623.3,803.0 L624.5,802.1 L625.3,800.8 L626.0,799.4 L627.1,798.4 L628.6,797.7 L630.0,796.9 L631.0,795.8 L631.9,794.6 L632.8,793.4 L633.4,791.9 L633.9,790.4 L634.8,789.2 L636.0,788.2 L637.2,787.3 L637.9,785.9 L638.8,784.7 L639.7,783.4 L641.0,782.6 L642.2,781.7 L643.4,780.7 L644.5,779.6 L645.6,778.6 L646.8,777.6 L647.8,776.5 L648.5,775.1 L649.1,773.6 L649.8,772.2 L650.7,771.0 L652.2,770.2 L653.7,769.5 L655.1,768.8 L656.0,767.5 L656.7,766.2 L657.3,764.6 L658.1,763.3 L658.9,762.0 L659.9,760.9 L661.0,759.7 L661.9,758.6 L663.0,757.5 L664.1,756.4 L665.4,755.5 L666.5,754.5 L667.6,753.4 L668.7,752.4 L669.6,751.2 L670.5,749.9 L671.0,748.3 L671.5,746.7 L672.3,745.4 L673.6,744.5 L675.1,743.8 L676.6,743.1 L677.6,742.0 L678.4,740.6 L679.2,739.3 L680.2,738.2 L681.3,737.1 L682.3,735.9 L683.4,734.9 L684.5,733.8 L685.6,732.8 L686.4,731.4 L687.4,730.3 L688.3,729.1 L689.5,728.2 L690.6,727.1 L691.8,726.2 L693.3,725.5 L694.9,725.0 L696.1,724.0 L696.9,722.7 L697.5,721.2 L698.3,719.9 L699.3,718.8 L700.5,717.8 L701.7,716.9 L702.9,716.0 L704.1,715.1 L705.2,714.1 L706.3,713.0 L707.2,711.8 L708.4,710.9 L709.3,709.7 L710.5,708.8 L711.6,707.8 L713.1,707.3 L714.2,706.2 L715.3,705.2 L716.0,703.9 L716.9,702.6 L717.7,701.3 L718.6,700.1 L719.9,699.4 L721.5,698.9 L722.9,698.3 L724.1,697.4 L724.9,696.1 L725.8,694.9 L726.5,693.5 L727.4,692.2 L728.4,691.2 L729.6,690.4 L730.7,689.4 L731.5,688.1 L732.3,686.8 L733.6,686.1 L735.1,685.7 L736.7,685.2 L737.7,684.2 L738.8,683.2 L739.9,682.3 L741.5,682.0 L742.9,681.5 L744.4,681.1 L745.4,680.1 L746.3,679.0 L747.1,677.6 L748.1,676.5 L749.1,675.6 L750.5,674.9 L751.8,674.3 L753.2,673.8 L754.5,673.1 L755.7,672.3 L756.6,671.1 L757.5,669.9 L758.3,668.5 L759.2,667.4 L760.4,666.5 L761.8,665.8 L763.4,665.4 L764.8,664.7 L766.0,663.8 L766.8,662.5 L767.7,661.2 L768.6,659.9 L769.8,658.9 L771.0,658.0 L772.3,657.0 L773.3,655.8 L774.4,654.7 L775.4,653.5 L776.6,652.5 L777.7,651.4 L779.0,650.5 L780.4,649.6 L781.9,649.0 L783.3,648.2 L784.5,647.1 L785.3,645.7 L786.1,644.2 L787.2,643.0 L788.5,642.2 L790.1,641.6 L791.5,640.8 L792.6,639.7 L793.5,638.4 L794.5,637.2 L795.7,636.2 L796.9,635.2 L798.2,634.4 L799.4,633.5 L800.6,632.7 L801.8,631.7 L802.9,630.8 L804.1,629.9 L805.4,629.2 L806.9,628.8 L808.3,628.2 L809.4,627.3 L810.3,626.1 L811.5,625.2 L812.8,624.7 L814.1,624.0 L815.2,623.1 L816.1,621.9 L817.3,621.1 L818.4,620.1 L819.6,619.5 L820.7,618.5 L822.1,618.0 L823.4,617.6 L825.0,617.5 L826.5,617.3 L827.8,616.7 L828.9,615.8 L829.9,614.6 L831.0,613.8 L832.3,613.1 L833.9,613.1 L835.2,612.6 L836.5,612.0 L837.5,610.8 L838.8,610.2 L840.3,609.8 L841.8,609.5 L843.0,608.6 L843.8,607.2 L844.8,606.0 L846.0,605.1 L847.5,604.8 L848.9,604.0 L849.9,602.9 L850.9,601.6 L851.9,600.5 L853.4,599.9 L855.1,599.6 L856.6,599.0 L857.9,598.1 L859.1,597.1 L860.5,596.3 L861.9,595.4 L862.9,594.1 L864.1,592.9 L865.4,591.8 L866.8,591.0 L868.0,589.9 L869.2,588.8 L870.4,587.7 L871.7,586.7 L873.1,585.8 L874.5,585.1 L875.9,584.3 L877.2,583.6 L878.5,582.8 L879.8,582.1 L881.2,581.5 L882.5,580.8 L883.8,580.2 L885.2,579.7 L886.5,579.2 L887.7,578.4 L889.0,577.7 L890.3,577.2 L891.7,577.1 L893.1,576.7 L894.4,576.1 L895.5,575.1 L896.8,574.6 L898.1,574.1 L899.5,573.8 L900.9,573.5 L902.2,573.2 L903.7,573.2 L905.1,572.9 L906.5,572.8 L907.9,572.5 L909.3,572.1 L910.5,571.3 L911.6,570.0 L912.8,569.1 L914.0,568.4 L915.6,568.5 L917.2,568.5 L918.7,568.4 L920.1,567.8 L921.3,566.8 L922.7,566.2 L924.1,565.7 L925.6,565.3 L927.2,564.9 L928.6,564.2 L930.0,563.5 L931.1,562.3 L932.4,561.2 L933.6,560.2 L935.0,559.5 L936.4,558.7 L937.8,557.8 L939.3,557.2 L940.8,556.5 L942.2,555.8 L943.3,554.5 L944.3,553.0 L945.5,551.8 L946.9,551.0 L948.5,550.6 L950.0,549.9 L951.4,549.1 L952.8,548.4 L954.3,547.7 L955.7,546.9 L957.0,545.9 L958.3,545.1 L959.7,544.4 L961.3,544.0 L962.8,543.7 L964.4,543.5 L965.8,542.8 L967.2,542.2 L968.5,541.4 L969.9,540.9 L971.2,540.1 L972.5,539.2 L973.8,538.7 L975.3,538.6 L976.9,538.7 L978.2,538.0 L979.5,537.2 L980.8,536.3 L982.2,536.1 L983.6,535.8 L985.1,535.7 L986.5,535.6 L988.0,535.7 L989.5,535.6 L990.9,535.2 L992.2,534.4 L993.6,533.9 L995.0,533.6 L996.5,533.7 L998.0,533.8 L999.4,533.6 L1000.9,533.4 L1002.2,532.7 L1003.6,532.2 L1005.0,531.7 L1006.5,531.4 L1007.8,530.7 L1009.3,530.4 L1010.7,530.0 L1012.3,530.0 L1013.8,529.7 L1015.2,529.2 L1016.5,528.6 L1018.0,528.1 L1019.5,527.9 L1021.0,528.0 L1022.5,527.8 L1023.9,527.4 L1025.2,526.6 L1026.6,526.0 L1028.0,525.6 L1029.4,525.3 L1030.9,524.9 L1032.3,524.5 L1033.7,524.2 L1035.2,524.2 L1036.7,524.7 L1038.1,524.9 L1039.6,525.1 L1041.0,524.9 L1042.5,525.0 L1043.9,524.9 L1045.4,525.1 L1046.8,525.5 L1048.2,526.0 L1049.6,526.4 L1051.1,526.6 L1052.5,526.6 L1054.0,526.2 L1055.4,525.4 L1056.8,524.8 L1058.2,524.7 L1059.7,524.9 L1061.2,525.0 L1062.7,525.0 L1064.2,524.9 L1065.7,524.6 L1067.1,524.2 L1068.5,523.4 L1069.9,522.7 L1071.2,521.9 L1072.6,521.4 L1074.1,521.0 L1075.5,520.4 L1077.0,519.9 L1078.3,519.0 L1079.7,518.3 L1081.1,517.6 L1082.6,517.0 L1084.0,516.4 L1085.4,515.7 L1086.9,515.1 L1088.3,514.4 L1089.8,514.1 L1091.5,514.0 L1093.1,513.7 L1094.6,513.4 L1096.0,512.7 L1097.3,512.0 L1098.5,510.7 L1099.8,509.9 L1101.3,509.4 L1102.9,509.5 L1104.4,509.5 L1105.9,509.3 L1107.2,508.6 L1108.5,507.7 L1109.9,507.3 L1111.4,507.3 L1113.0,507.8 L1114.4,507.6 L1115.8,507.2 L1117.1,506.3 L1118.5,505.8 L1119.8,505.1 L1121.1,504.5 L1122.5,503.8 L1124.0,503.7 L1125.5,503.5 L1127.1,503.5 L1128.6,503.0 L1130.1,502.6 L1131.3,501.6 L1132.6,500.6 L1133.8,499.5 L1135.3,499.0 L1136.8,498.7 L1138.3,498.2 L1139.7,497.6 L1141.2,497.0 L1142.5,496.3 L1143.8,495.5 L1145.0,494.4 L1146.3,493.4 L1147.8,492.9 L1149.3,492.8 L1150.9,493.0 L1152.4,492.9 L1153.9,493.1 L1155.3,493.1 L1156.8,493.4 L1158.1,493.1 L1159.5,493.0 L1160.9,492.6 L1162.3,492.5 L1163.7,492.6 L1165.1,493.0 L1166.5,493.4 L1168.0,493.5 L1169.4,493.3 L1170.8,493.0 L1172.2,492.9 L1173.7,493.1 L1175.1,492.8 L1176.6,492.7 L1177.9,492.2 L1179.3,491.6 L1180.5,490.5 L1181.8,489.8 L1183.1,489.0 L1184.5,488.4 L1185.7,487.4 L1187.2,486.9 L1188.6,486.5 L1190.3,486.9 L1191.8,486.8 L1193.3,486.7 L1194.6,486.0 L1196.0,485.6 L1197.3,484.9 L1198.6,484.3 L1200.0,483.9 L1201.5,483.8 L1203.0,483.6 L1204.4,483.2 L1205.7,482.5 L1207.2,482.3 L1208.7,482.3 L1210.1,482.1 L1211.5,481.8 L1212.9,481.2 L1214.3,481.2 L1215.8,481.3 L1217.1,482.2 L1218.3,483.0 L1219.5,483.9 L1221.0,484.1 L1222.6,484.2 L1224.1,484.5 L1225.6,485.2 L1226.9,486.1 L1228.4,486.6 L1229.9,487.0 L1231.4,487.4 L1232.7,488.2 L1234.1,488.7 L1235.5,489.2 L1236.9,489.6 L1238.2,490.0 L1239.7,490.0 L1241.1,489.6 L1242.5,489.2 L1243.9,489.5 L1245.4,489.8 L1246.8,490.4 L1248.2,490.4 L1249.6,490.5 L1251.0,490.3 L1252.4,490.5 L1253.9,490.7 L1255.3,490.9 L1256.8,491.3 L1258.2,491.7 L1259.7,492.2 L1261.2,492.6 L1262.5,493.2 L1263.9,493.9 L1265.2,494.5 L1266.6,494.8 L1268.1,494.8 L1269.5,495.0 L1270.9,495.1 L1272.4,495.4 L1273.8,495.2 L1275.3,495.2 L1276.7,494.6 L1278.1,494.3 L1279.5,493.7 L1281.0,493.6 L1282.5,493.6 L1284.1,493.5 L1285.5,493.0 L1286.9,492.2 L1288.2,491.5 L1289.5,490.7 L1290.9,490.1 L1292.4,489.8 L1293.9,489.4 L1295.4,489.0 L1296.8,488.4 L1298.3,488.0 L1299.7,487.5 L1301.1,486.9 L1302.5,486.3 L1303.9,485.7 L1305.5,485.5 L1306.9,485.0 L1308.4,484.5 L1309.7,483.8 L1311.1,483.2 L1312.5,482.8 L1314.1,482.7 L1315.6,482.6 L1317.1,482.5 L1318.5,482.4 L1320.0,482.1 L1321.4,481.6 L1322.8,481.0 L1324.2,480.4 L1325.6,480.3 L1327.1,480.3 L1328.6,480.4 L1330.0,480.7 L1331.5,480.8 L1332.9,481.0 L1334.4,480.9 L1335.8,481.4 L1337.2,481.7 L1338.6,482.1 L1340.2,482.2 L1341.7,482.3 L1343.3,482.2 L1344.8,482.6 L1346.3,483.1 L1347.6,484.1 L1349.1,484.6 L1350.5,485.1 L1352.2,485.2 L1353.7,485.5 L1355.2,485.9 L1356.5,486.7 L1357.8,487.6 L1359.2,488.2 L1360.5,489.2 L1361.9,489.8 L1363.3,490.5 L1364.9,490.6 L1366.4,490.8 L1367.9,490.5 L1369.4,490.2 L1370.8,489.8 L1372.2,489.8 L1373.7,489.6 L1375.2,489.8 L1376.7,489.7 L1378.2,489.6 L1379.6,489.0 L1381.0,488.6 L1382.5,488.7 L1384.1,488.8 L1385.5,488.6 L1386.8,487.4 L1388.2,486.7 L1389.6,485.8 L1391.1,486.2 L1392.6,486.5 L1394.1,487.1 L1395.6,486.9 L1397.0,486.6 L1398.5,486.6 L1400.0,486.9 L1401.4,487.6 L1402.7,488.5 L1404.0,489.5 L1405.4,490.3 L1407.1,490.7 L1408.9,490.9 L1410.6,491.6 L1411.9,492.8 L1413.1,494.1 L1414.5,495.1 L1416.0,495.8 L1417.6,496.3 L1419.1,496.9 L1420.5,497.6 L1421.8,498.4 L1423.2,499.1 L1424.6,499.5 L1426.0,499.8 L1427.5,499.9 L1428.9,500.2 L1430.3,500.4 L1431.8,500.7 L1433.2,500.6 L1434.6,500.5 L1436.1,500.8 L1437.5,501.0 L1439.0,501.1 L1440.4,500.5 L1441.8,500.2 L1443.3,499.9 L1444.8,500.1 L1446.3,499.9 L1447.8,499.6 L1449.1,498.8 L1450.4,498.0 L1451.8,497.4 L1453.4,497.4 L1455.1,497.5 L1456.6,497.3 L1458.0,496.5 L1459.1,495.3 L1460.3,494.1 L1461.6,493.2 L1463.1,492.9 L1464.7,492.7 L1466.3,492.6 L1467.7,492.1 L1469.1,491.5 L1470.4,490.8 L1471.9,490.3 L1473.3,490.0 L1474.8,489.8 L1476.3,489.4 L1477.7,488.9 L1479.1,488.6 L1480.5,488.0 L1481.8,487.3 L1483.2,486.7 L1484.7,486.6 L1486.2,486.9 L1487.7,487.3 L1489.1,487.6 L1490.6,487.6 L1492.0,487.8 L1493.4,488.1 L1494.7,488.6 L1496.1,489.1 L1497.4,489.4 L1498.9,489.4 L1500.4,489.2 L1502.0,488.8 L1503.6,488.8 L1505.0,489.3 L1506.3,490.1 L1507.7,490.9 L1509.1,491.4 L1510.5,492.0 L1511.9,492.6 L1513.3,493.3 L1514.8,493.7 L1516.3,494.3 L1517.6,495.1 L1519.0,495.8 L1520.4,496.6 L1522.0,497.0 L1523.3,497.8 L1524.7,498.5 L1526.0,499.5 L1527.6,499.9 L1529.1,500.3 L1530.8,500.5 L1532.3,500.9 L1533.9,501.2 L1535.4,501.6 L1536.7,502.4 L1537.9,503.6 L1539.2,504.6 L1540.6,505.2 L1542.1,505.3 L1543.6,505.7 L1545.0,506.2 L1546.3,507.2 L1547.8,507.3 L1549.3,507.4 L1550.8,507.2 L1552.2,507.9 L1553.6,508.5 L1555.0,508.8 L1556.5,508.5 L1558.0,508.1 L1559.4,507.9 L1560.9,507.9 L1562.3,507.8 L1563.8,507.8 L1565.2,507.5 L1566.7,507.3 L1568.1,506.7 L1569.5,506.5 L1571.0,506.4 L1572.5,506.8 L1574.1,507.0 L1575.5,506.6 L1576.9,506.1 L1578.3,505.5 L1579.8,505.6 L1581.2,505.2 L1582.6,504.8 L1584.0,504.4 L1585.5,504.2 L1586.9,504.2 L1588.3,503.8 L1589.8,503.3 L1591.2,503.0 L1592.7,503.5 L1594.2,503.9 L1595.6,504.3 L1597.1,504.4 L1598.5,504.4 L1600.0,504.5 L1601.4,504.2 L1602.9,503.8 L1604.3,503.1 L1605.8,502.6 L1607.4,502.4 L1608.9,502.7 L1610.2,503.7 L1611.6,504.8 L1612.9,505.8 L1614.3,506.2 L1615.8,506.4 L1617.3,506.4 L1618.8,506.6 L1620.3,506.9 L1621.8,507.3 L1623.2,507.8 L1624.8,508.0 L1626.1,508.6 L1627.6,508.8 L1629.1,509.1 L1630.6,508.9 L1632.0,509.3 L1633.5,509.6 L1634.9,510.0 L1636.4,510.0 L1637.9,510.1 L1639.4,509.9 L1640.8,509.6 L1642.3,509.4 L1643.9,509.3 L1645.5,509.3 L1646.9,508.9 L1648.3,508.0 L1649.6,507.1 L1651.0,506.5 L1652.4,506.2 L1653.9,505.9 L1655.3,505.6 L1656.8,505.9 L1658.2,506.2 L1659.7,506.5 L1661.2,506.2 L1662.7,506.6 L1664.1,507.1 L1665.4,507.9 L1666.9,508.2 L1668.5,508.3 L1670.2,508.1 L1671.8,508.4 L1673.2,509.1 L1674.4,510.2 L1675.9,510.8 L1677.4,511.1 L1678.9,511.4 L1680.3,511.9 L1681.6,512.9 L1683.0,513.5 L1684.5,513.8 L1686.0,513.5 L1687.5,513.4 L1689.0,512.8 L1690.4,512.5 L1691.8,512.3 L1693.3,512.5 L1694.7,512.6 L1696.2,512.4 L1697.6,512.5 L1699.1,512.7 L1700.7,513.1 L1702.1,512.8 L1703.6,512.9 L1705.1,512.6 L1706.6,512.6 L1707.9,511.7 L1709.4,511.3 L1710.8,510.7 L1712.3,511.1 L1713.8,511.3 L1715.3,511.5 L1716.7,510.9 L1718.1,510.4 L1719.6,510.4 L1721.1,510.4 L1722.5,510.7 L1724.0,510.8 L1725.4,511.1 L1726.9,511.5 L1728.3,512.0 L1729.7,512.5 L1731.2,512.9 L1732.8,513.0 L1734.4,513.3 L1735.8,513.9 L1737.1,514.9 L1738.5,515.8 L1739.7,516.8 L1741.1,517.7 L1742.5,518.5 L1744.1,518.9 L1745.8,519.1 L1747.5,519.1 L1749.0,519.4 L1750.4,520.0 L1751.9,520.6 L1753.2,521.3 L1754.7,521.4 L1756.2,521.5 L1757.7,521.3 L1759.0,521.8 L1760.4,522.0 L1761.8,522.3 L1763.3,522.5 L1764.7,523.0 L1766.2,523.3 L1767.6,523.2 L1769.1,522.6 L1770.5,522.2 L1771.9,522.3 L1773.4,522.6 L1774.9,522.6 L1776.3,522.2 L1777.8,521.8 L1779.2,521.7 L1780.7,521.7 L1782.1,521.9 L1783.5,522.6 L1784.9,523.5 L1786.2,524.0 L1787.7,524.2 L1789.2,524.1 L1790.7,524.2 L1792.3,524.2 L1793.8,524.5 L1795.2,525.0 L1796.7,525.4 L1798.1,525.9 L1799.6,526.4 L1800.9,527.4 L1802.2,528.1 L1803.6,528.8 L1805.1,529.2 L1806.6,529.4 L1808.2,529.3 L1809.7,529.3 L1811.2,529.3 L1812.6,529.8 L1814.0,530.2 L1815.4,530.4 L1816.8,530.3 L1818.2,530.3 L1819.6,530.5 L1821.0,531.1 L1822.5,531.2 L1823.9,531.1 L1825.3,530.9 L1826.8,531.1 L1828.2,531.1 L1829.6,531.0 L1831.1,530.6 L1832.6,530.3 L1834.1,530.5 L1835.5,531.0 L1836.9,531.6 L1838.5,531.7 L1840.0,531.8 L1841.5,532.3 L1842.8,533.2 L1844.1,534.1 L1845.5,534.8 L1846.7,535.8 L1848.0,536.8 L1849.1,538.1 L1850.4,539.2 L1851.9,539.6 L1853.6,539.4 L1855.4,538.9 L1856.8,539.2 L1858.2,539.9 L1859.5,540.9 L1861.0,541.1 L1862.5,541.1 L1864.0,540.9 L1865.4,540.8 L1866.9,540.6 L1868.3,540.4 L1869.8,540.2 L1871.3,539.9 L1872.7,539.7 L1874.2,539.4 L1875.5,539.1 L1876.9,538.5 L1878.2,537.9 L1879.7,537.7 L1881.1,537.9 L1882.6,538.4 L1884.1,538.9 L1885.6,539.5 L1887.2,540.2 L1888.7,541.1 L1890.1,542.3 L1891.4,543.6 L1892.7,544.9 L1893.8,546.4 L1895.0,547.9 L1896.3,549.1 L1897.9,549.8 L1899.4,550.7 L1900.8,551.5 L1902.2,552.5 L1903.6,553.2 L1905.0,554.0 L1906.4,554.7 L1907.9,555.2 L1909.3,555.8 L1910.9,556.0 L1912.3,556.5 L1913.7,556.8 L1915.1,557.2 L1916.5,557.5 L1917.9,557.7 L1919.3,558.1 L1920.7,558.7 L1922.1,559.3 L1923.5,559.5 L1925.0,559.4 L1926.4,559.2 L1927.8,559.3 L1929.2,559.3 L1930.7,559.4 L1932.1,559.3 L1933.5,558.9 L1934.9,558.2 L1936.3,557.9 L1937.8,558.1 L1939.3,558.4 L1940.6,557.8 L1941.9,556.9 L1943.3,556.2 L1944.7,555.9 L1946.1,555.5 L1947.5,555.1 L1948.9,554.8 L1950.4,554.9 L1952.0,554.9 L1953.4,554.7 L1954.8,554.1 L1956.1,553.5 L1957.4,552.7 L1958.9,552.2 L1960.3,552.0 L1961.8,552.4 L1963.3,552.8 L1964.7,553.1 L1966.1,553.4 L1967.5,553.6 L1968.9,553.7 L1970.4,553.9 L1971.8,554.4 L1973.2,555.0 L1974.8,555.5 L1976.2,556.1 L1977.8,556.6 L1979.2,557.2 L1980.6,558.0 L1981.8,559.0 L1983.1,560.2 L1984.5,560.6 L1986.1,560.6 L1987.5,560.5 L1989.0,560.7 L1990.4,560.6 L1991.9,560.4 L1993.3,560.0 L1994.7,559.7 L1996.0,559.1 L1997.4,558.6 L1998.8,558.2 L2000.4,558.4 L2001.9,558.4 L2003.4,558.4 L2004.8,558.1 L2006.2,557.9 L2007.7,557.4 L2009.2,557.1 L2010.8,557.2 L2012.2,558.0 L2013.5,559.1 L2014.7,560.2 L2016.1,560.8 L2017.7,561.0 L2019.3,561.3 L2020.8,561.8 L2022.1,562.6 L2023.5,563.4 L2024.8,564.3 L2026.3,564.9 L2027.8,565.4 L2029.3,565.5 L2030.8,565.7 L2032.3,566.0 L2033.7,565.9 L2035.2,566.1 L2036.7,565.6 L2038.1,565.4 L2039.6,564.9 L2041.1,564.7 L2042.5,564.1 L2043.8,563.2 L2045.1,562.3 L2046.5,561.7 L2048.0,561.4 L2049.5,561.2 L2051.1,561.3 L2052.7,561.2 L2054.1,561.1 L2055.6,560.6 L2057.0,560.5 L2058.5,560.8 L2060.0,561.4 L2061.4,561.8 L2062.8,561.6 L2064.3,561.1 L2065.8,560.2 L2067.4,559.7 L2068.9,559.4 L2070.4,559.7 L2071.8,560.5 L2073.1,561.5 L2074.5,562.4 L2075.9,562.8 L2077.4,562.8 L2079.0,562.7 L2080.5,562.9 L2081.9,563.4 L2083.3,564.0 L2084.7,564.5 L2086.3,564.7 L2087.9,564.6 L2089.5,564.5 L2090.9,565.1 L2092.2,565.9 L2093.5,567.0 L2094.9,567.7 L2096.3,568.4 L2097.8,568.8 L2099.3,569.0 L2100.9,568.9 L2102.5,569.1 L2103.9,569.6 L2105.3,570.5 L2106.6,571.3 L2108.0,572.0 L2109.4,572.6 L2110.9,573.0 L2112.4,573.3 L2114.0,573.4 L2115.5,573.8 L2117.0,573.9 L2118.5,574.1 L2120.2,573.8 L2121.7,574.1 L2123.1,574.6 L2124.5,575.3 L2125.9,575.9 L2127.4,576.1 L2128.9,576.0 L2130.5,575.7 L2132.0,576.0 L2133.4,576.4 L2134.8,576.8 L2136.3,576.6 L2137.8,576.5 L2139.2,577.0 L2140.6,578.2 L2142.0,579.3 L2143.4,579.8 L2144.9,579.7 L2146.4,579.7 L2147.9,579.8 L2149.4,579.6 L2150.9,579.0 L2152.4,578.3 L2153.8,578.1 L2155.3,578.3 L2156.8,578.7 L2158.2,578.9 L2159.7,578.8 L2161.2,579.2 L2162.6,579.8 L2164.0,580.6 L2165.5,580.7 L2167.0,580.5 L2168.5,580.3 L2170.0,580.3 L2171.4,580.6 L2172.9,581.0 L2174.3,581.4 L2175.8,581.7 L2177.3,581.8 L2178.9,581.9 L2180.3,582.3 L2181.7,583.1 L2183.0,584.0 L2184.4,584.6 L2185.9,585.0 L2187.6,585.1 L2189.2,585.3 L2190.7,585.7 L2192.2,586.4 L2193.5,587.3 L2194.9,588.0 L2196.4,588.7 L2197.9,589.2 L2199.3,589.9 L2200.8,590.6 L2202.3,590.9 L2203.9,591.3 L2205.5,591.7 L2206.9,592.4 L2208.3,593.0 L2209.8,593.6 L2211.2,594.2 L2212.6,595.0 L2213.9,595.8 L2215.3,596.4 L2216.8,596.8 L2218.4,597.0 L2219.8,597.4 L2221.3,597.5 L2222.8,597.7 L2224.3,597.9 L2225.7,598.7 L2227.1,599.3 L2228.5,599.9 L2230.0,599.6 L2231.5,599.3 L2233.0,599.2 L2234.4,599.7 L2235.9,600.0 L2237.3,600.5 L2238.8,600.7 L2240.2,601.3 L2241.7,601.4 L2243.1,601.5 L2244.6,601.2 L2246.1,600.9 L2247.5,600.8 L2249.0,600.8 L2250.4,600.7 L2251.9,600.9 L2253.4,601.2 L2254.9,601.6 L2256.3,601.3 L2257.8,601.1 L2259.2,600.7 L2260.6,600.8 L2262.1,600.6 L2263.5,600.6 L2265.0,600.2 L2266.4,599.9 L2267.8,599.4 L2269.3,598.9 L2270.7,598.6 L2272.2,598.5 L2273.6,598.7 L2275.1,598.9 L2276.5,599.3 L2278.0,599.4 L2279.4,599.4 L2280.9,599.2 L2282.3,599.3 L2283.7,599.4 L2285.2,599.5 L2286.6,599.2 L2288.1,599.1 L2289.5,599.1 L2291.0,599.2 L2292.4,599.4 L2293.8,599.6 L2295.2,600.2 L2296.6,600.7 L2297.9,601.5 L2299.3,601.8 L2300.8,601.9 L2302.4,601.7 L2303.8,602.1 L2305.3,602.4 L2306.7,602.9 L2308.3,602.9 L2309.6,603.6 L2311.0,604.4 L2312.1,605.8 L2313.3,606.7 L2314.8,607.3 L2316.5,607.4 L2318.1,607.9 L2319.5,608.8 L2320.7,610.0 L2322.0,611.1 L2323.5,612.0 L2325.1,612.8 L2326.1,613.0" fill="none" stroke="#000000" stroke-width="8.4" stroke-linejoin="round" stroke-linecap="round"/>
<path d="M243.5,1606.5 L243.9,1605.1 L244.3,1603.6 L244.8,1602.2 L245.2,1600.8 L245.6,1599.3 L246.1,1597.9 L246.5,1596.5 L246.9,1595.0 L247.3,1593.6 L247.8,1592.1 L248.2,1590.7 L248.6,1589.3 L249.0,1587.8 L249.5,1586.4 L249.9,1585.0 L250.3,1583.5 L250.7,1582.1 L251.2,1580.6 L251.6,1579.2 L252.1,1577.8 L252.5,1576.4 L252.9,1574.9 L253.4,1573.5 L253.8,1572.0 L254.3,1570.6 L254.7,1569.2 L254.9,1567.7 L255.3,1566.2 L255.7,1564.8 L256.3,1563.4 L256.9,1562.0 L257.4,1560.6 L257.8,1559.2 L258.2,1557.7 L258.6,1556.3 L259.0,1554.8 L259.4,1553.4 L259.8,1551.9 L260.3,1550.5 L260.8,1549.1 L261.2,1547.7 L261.5,1546.2 L261.9,1544.7 L262.3,1543.3 L262.9,1541.9 L263.4,1540.5 L263.8,1539.0 L264.2,1537.6 L264.7,1536.2 L265.1,1534.7 L265.5,1533.3 L266.0,1531.9 L266.6,1530.5 L267.2,1529.1 L267.7,1527.7 L268.2,1526.3 L268.4,1524.8 L268.6,1523.3 L269.0,1521.8 L269.4,1520.4 L269.9,1518.9 L270.4,1517.5 L270.8,1516.1 L271.1,1514.6 L271.3,1513.1 L271.6,1511.6 L272.1,1510.2 L272.9,1508.9 L273.6,1507.5 L274.2,1506.1 L274.5,1504.6 L274.8,1503.2 L275.1,1501.7 L275.5,1500.2 L275.9,1498.8 L276.5,1497.4 L277.2,1496.1 L277.8,1494.7 L278.1,1493.2 L278.4,1491.7 L278.8,1490.3 L279.3,1488.9 L279.7,1487.4 L280.0,1485.9 L280.3,1484.5 L280.9,1483.1 L281.5,1481.7 L282.2,1480.3 L282.6,1478.9 L283.1,1477.5 L283.3,1476.0 L283.7,1474.5 L284.0,1473.0 L284.5,1471.6 L284.9,1470.2 L285.3,1468.7 L285.6,1467.2 L285.9,1465.8 L286.3,1464.3 L286.8,1462.9 L287.6,1461.6 L288.5,1460.3 L289.4,1459.0 L290.1,1457.6 L290.6,1456.2 L290.8,1454.7 L291.0,1453.2 L291.4,1451.8 L291.6,1450.3 L292.1,1448.8 L292.2,1447.3 L292.7,1445.9 L293.0,1444.4 L293.6,1443.0 L294.2,1441.6 L294.9,1440.3 L295.6,1438.9 L296.0,1437.5 L296.3,1436.0 L296.5,1434.5 L297.0,1433.1 L297.6,1431.7 L298.3,1430.3 L298.6,1428.9 L298.8,1427.3 L299.0,1425.8 L299.3,1424.3 L299.7,1422.9 L300.4,1421.5 L301.3,1420.2 L302.0,1418.9 L302.6,1417.5 L302.8,1416.0 L303.4,1414.6 L303.9,1413.2 L304.7,1411.9 L304.9,1410.4 L305.1,1408.9 L305.2,1407.3 L305.7,1405.9 L306.3,1404.5 L306.7,1403.1 L307.2,1401.7 L307.5,1400.2 L308.3,1398.9 L308.9,1397.5 L309.7,1396.2 L310.0,1394.7 L310.5,1393.2 L310.6,1391.7 L311.0,1390.3 L311.4,1388.8 L311.9,1387.4 L312.5,1386.0 L313.2,1384.6 L313.8,1383.3 L314.4,1381.9 L314.8,1380.5 L314.9,1378.9 L315.1,1377.4 L315.4,1375.9 L315.9,1374.5 L316.5,1373.1 L317.3,1371.8 L317.9,1370.4 L318.7,1369.1 L319.3,1367.7 L319.7,1366.3 L320.1,1364.8 L320.4,1363.3 L320.8,1361.9 L321.4,1360.5 L322.0,1359.1 L322.5,1357.7 L322.8,1356.2 L323.0,1354.7 L323.5,1353.3 L324.2,1351.9 L325.0,1350.6 L325.4,1349.2 L325.7,1347.7 L326.0,1346.2 L326.7,1344.9 L327.6,1343.6 L328.3,1342.3 L328.8,1340.8 L329.0,1339.3 L329.2,1337.8 L329.5,1336.3 L330.3,1335.0 L330.9,1333.6 L331.4,1332.2 L332.0,1330.8 L332.7,1329.5 L333.3,1328.1 L333.7,1326.7 L333.9,1325.1 L334.3,1323.7 L334.6,1322.2 L335.3,1320.9 L335.7,1319.4 L336.6,1318.1 L337.1,1316.7 L337.6,1315.3 L337.7,1313.7 L337.8,1312.2 L338.2,1310.7 L339.1,1309.5 L340.1,1308.2 L340.7,1306.9 L341.2,1305.4 L341.6,1304.0 L342.3,1302.6 L342.7,1301.2 L343.2,1299.8 L343.7,1298.4 L344.4,1297.0 L345.1,1295.7 L345.6,1294.3 L346.2,1292.9 L346.4,1291.4 L346.6,1289.9 L346.8,1288.4 L347.6,1287.0 L348.1,1285.6 L348.6,1284.2 L348.9,1282.7 L349.6,1281.4 L350.4,1280.1 L351.4,1278.9 L352.5,1277.6 L353.1,1276.3 L353.3,1274.8 L353.1,1273.1 L353.3,1271.6 L353.5,1270.0 L354.0,1268.6 L354.4,1267.1 L354.9,1265.8 L355.6,1264.4 L356.5,1263.1 L357.3,1261.9 L357.9,1260.5 L358.3,1259.0 L358.4,1257.5 L358.6,1255.9 L359.2,1254.5 L360.1,1253.3 L361.0,1252.0 L361.6,1250.7 L362.0,1249.2 L362.3,1247.7 L362.6,1246.2 L363.3,1244.9 L364.1,1243.6 L365.1,1242.4 L365.6,1240.9 L365.8,1239.4 L366.0,1237.9 L366.5,1236.5 L367.0,1235.1 L367.7,1233.7 L368.1,1232.3 L368.7,1230.9 L369.1,1229.4 L369.6,1228.0 L369.9,1226.6 L370.5,1225.2 L371.1,1223.8 L371.9,1222.5 L372.9,1221.3 L373.8,1220.1 L374.6,1218.8 L375.2,1217.4 L375.5,1215.9 L376.0,1214.5 L376.6,1213.1 L377.2,1211.7 L377.7,1210.3 L378.1,1208.9 L378.5,1207.4 L378.9,1205.9 L379.1,1204.4 L379.5,1202.9 L380.0,1201.5 L380.5,1200.1 L381.2,1198.8 L382.1,1197.5 L383.3,1196.4 L384.2,1195.2 L385.1,1193.9 L385.4,1192.4 L385.9,1191.0 L386.1,1189.5 L386.4,1188.0 L386.5,1186.4 L387.0,1185.0 L387.9,1183.8 L389.1,1182.6 L390.1,1181.4 L390.5,1180.0 L391.0,1178.5 L391.5,1177.1 L392.3,1175.8 L392.8,1174.4 L393.1,1172.9 L393.5,1171.5 L394.1,1170.1 L395.0,1168.8 L395.6,1167.5 L396.1,1166.1 L396.6,1164.7 L397.0,1163.2 L397.3,1161.7 L397.5,1160.2 L398.0,1158.7 L398.9,1157.5 L399.9,1156.3 L400.8,1155.1 L401.2,1153.6 L401.7,1152.2 L402.2,1150.8 L402.7,1149.4 L403.4,1148.0 L404.0,1146.7 L404.8,1145.4 L405.4,1144.0 L406.1,1142.7 L406.5,1141.2 L406.8,1139.7 L407.3,1138.3 L408.0,1137.0 L408.9,1135.8 L409.6,1134.4 L410.1,1133.0 L410.7,1131.6 L411.4,1130.3 L412.3,1129.1 L413.1,1127.8 L413.7,1126.4 L413.8,1124.8 L414.2,1123.3 L414.7,1121.9 L415.7,1120.8 L416.6,1119.5 L417.5,1118.3 L418.2,1117.0 L418.9,1115.7 L419.4,1114.2 L419.8,1112.8 L420.2,1111.3 L420.9,1110.0 L421.5,1108.6 L422.5,1107.4 L423.1,1106.1 L423.7,1104.7 L424.0,1103.1 L424.4,1101.7 L424.8,1100.2 L425.4,1098.9 L426.1,1097.5 L426.8,1096.2 L427.6,1094.9 L428.3,1093.6 L429.0,1092.3 L429.4,1090.8 L429.7,1089.3 L429.9,1087.8 L430.6,1086.4 L431.5,1085.2 L432.4,1084.0 L433.1,1082.7 L433.6,1081.2 L434.5,1080.0 L435.3,1078.7 L436.3,1077.5 L436.7,1076.1 L437.2,1074.7 L437.6,1073.2 L438.3,1071.9 L438.9,1070.5 L439.6,1069.2 L440.2,1067.8 L441.0,1066.5 L442.0,1065.3 L443.0,1064.2 L443.5,1062.8 L444.0,1061.4 L444.6,1060.0 L445.5,1058.7 L446.3,1057.5 L446.9,1056.1 L447.2,1054.6 L447.5,1053.0 L447.8,1051.5 L448.5,1050.2 L449.4,1049.0 L450.4,1047.8 L451.3,1046.6 L451.9,1045.2 L452.6,1043.9 L453.1,1042.5 L453.7,1041.1 L454.2,1039.7 L454.7,1038.3 L455.2,1036.8 L455.8,1035.5 L456.5,1034.1 L457.3,1032.8 L458.0,1031.5 L458.9,1030.3 L459.8,1029.1 L460.5,1027.8 L461.0,1026.4 L461.6,1025.0 L462.3,1023.7 L463.1,1022.4 L463.9,1021.1 L464.5,1019.7 L465.2,1018.4 L465.8,1017.0 L466.3,1015.6 L466.8,1014.2 L467.4,1012.8 L468.3,1011.6 L469.2,1010.4 L470.3,1009.2 L471.1,1008.0 L472.1,1006.8 L472.5,1005.4 L473.1,1003.9 L473.6,1002.5 L474.4,1001.3 L475.3,1000.1 L476.1,998.8 L476.9,997.5 L477.6,996.2 L478.0,994.7 L478.9,993.5 L479.6,992.2 L480.5,991.0 L480.7,989.4 L481.0,987.8 L481.2,986.2 L482.0,984.9 L482.8,983.7 L483.6,982.4 L484.4,981.1 L485.4,980.0 L486.3,978.8 L487.1,977.5 L487.6,976.0 L488.1,974.6 L488.6,973.2 L489.3,971.8 L490.1,970.6 L491.1,969.4 L492.2,968.3 L493.0,967.1 L493.8,965.8 L494.6,964.5 L495.4,963.2 L496.0,961.9 L496.7,960.6 L497.4,959.2 L498.3,958.0 L498.9,956.6 L499.6,955.3 L500.4,954.0 L501.6,953.0 L502.5,951.8 L503.5,950.6 L503.9,949.1 L504.5,947.7 L505.0,946.3 L505.8,945.0 L506.5,943.7 L507.1,942.3 L507.9,941.0 L508.7,939.8 L509.7,938.6 L510.6,937.4 L511.5,936.2 L512.2,934.9 L512.6,933.4 L513.1,931.9 L513.6,930.5 L514.4,929.2 L515.3,928.0 L516.2,926.8 L516.9,925.5 L517.6,924.1 L518.4,922.8 L519.1,921.5 L519.9,920.3 L520.6,918.9 L521.3,917.6 L521.8,916.2 L522.7,914.9 L523.6,913.7 L524.5,912.5 L525.4,911.3 L526.3,910.1 L527.4,909.0 L528.3,907.8 L529.1,906.5 L529.8,905.2 L530.5,903.9 L531.2,902.5 L531.7,901.1 L532.5,899.8 L533.3,898.5 L534.2,897.3 L534.9,896.0 L535.8,894.8 L536.7,893.6 L537.9,892.5 L538.7,891.2 L539.2,889.8 L539.6,888.3 L540.4,887.0 L541.3,885.8 L542.3,884.6 L543.2,883.4 L544.2,882.3 L544.9,881.0 L545.5,879.6 L546.2,878.2 L547.0,877.0 L547.9,875.7 L548.8,874.5 L549.6,873.3 L550.8,872.3 L551.9,871.2 L552.9,870.0 L553.6,868.7 L554.2,867.3 L555.0,866.0 L555.9,864.8 L556.6,863.5 L557.3,862.1 L557.9,860.7 L558.6,859.4 L559.2,858.0 L560.0,856.7 L560.7,855.4 L561.7,854.2 L562.6,853.0 L563.7,851.9 L564.8,850.9 L565.9,849.8 L566.9,848.6 L567.5,847.2 L568.0,845.8 L568.8,844.5 L569.7,843.3 L570.6,842.1 L571.3,840.7 L572.1,839.5 L572.8,838.1 L573.6,836.8 L574.4,835.5 L575.5,834.5 L576.7,833.5 L577.8,832.4 L578.6,831.2 L579.4,829.9 L580.5,828.8 L581.6,827.7 L582.5,826.6 L583.4,825.3 L584.2,824.1 L585.1,822.9 L586.0,821.6 L586.5,820.2 L587.0,818.7 L587.6,817.3 L588.5,816.1 L589.4,814.9 L590.5,813.8 L591.4,812.6 L592.4,811.5 L593.4,810.3 L594.4,809.2 L595.2,807.9 L596.0,806.6 L596.9,805.5 L598.1,804.5 L599.2,803.4 L599.9,802.0 L600.4,800.5 L601.0,799.1 L602.0,797.9 L603.1,796.9 L604.2,795.8 L605.1,794.7 L605.9,793.4 L606.9,792.2 L607.8,791.0 L608.8,789.9 L609.8,788.7 L610.9,787.7 L611.9,786.6 L612.9,785.4 L613.5,784.0 L614.2,782.7 L614.9,781.3 L615.9,780.2 L616.9,779.1 L618.0,778.0 L618.8,776.7 L619.6,775.4 L620.5,774.2 L621.6,773.2 L622.6,772.0 L623.4,770.8 L624.4,769.7 L625.5,768.6 L626.5,767.5 L627.4,766.3 L628.3,765.1 L629.6,764.2 L630.9,763.3 L632.1,762.4 L632.9,761.1 L633.5,759.6 L634.1,758.1 L634.9,756.9 L635.8,755.7 L636.8,754.5 L637.8,753.4 L638.9,752.3 L639.7,751.0 L640.4,749.7 L641.3,748.4 L642.3,747.3 L643.4,746.3 L644.4,745.2 L645.4,744.0 L646.5,743.0 L647.6,742.0 L648.8,741.0 L649.8,739.9 L650.6,738.6 L651.5,737.4 L652.5,736.3 L653.6,735.3 L654.6,734.1 L655.6,732.9 L656.5,731.8 L657.5,730.7 L658.5,729.5 L659.3,728.2 L660.2,727.0 L661.2,725.9 L662.3,724.8 L663.4,723.8 L664.5,722.7 L665.4,721.5 L666.3,720.4 L667.5,719.4 L668.7,718.4 L669.6,717.2 L670.5,716.0 L671.6,715.0 L672.9,714.1 L674.1,713.2 L674.9,711.9 L675.7,710.6 L676.5,709.2 L677.4,708.1 L678.4,706.9 L679.3,705.7 L680.5,704.8 L681.7,703.9 L683.0,702.9 L684.0,701.9 L685.0,700.8 L686.0,699.6 L686.9,698.3 L687.7,697.0 L688.8,696.0 L690.0,695.1 L691.2,694.2 L692.3,693.1 L693.4,692.1 L694.5,691.1 L695.5,689.9 L696.6,688.9 L697.6,687.8 L698.7,686.8 L699.7,685.6 L700.6,684.4 L701.5,683.1 L702.4,681.9 L703.4,680.8 L704.6,679.8 L705.7,678.9 L706.9,677.9 L708.1,677.0 L709.3,676.0 L710.3,674.9 L711.0,673.5 L711.8,672.2 L712.8,670.9 L713.9,669.9 L715.1,669.0 L716.3,668.1 L717.6,667.2 L718.8,666.3 L720.2,665.6 L721.4,664.7 L722.4,663.6 L723.4,662.4 L724.3,661.2 L725.3,660.0 L726.3,658.9 L727.4,657.8 L728.6,656.9 L729.9,656.1 L731.1,655.2 L732.5,654.4 L733.6,653.4 L734.6,652.3 L735.3,650.8 L736.2,649.6 L737.2,648.4 L738.3,647.4 L739.4,646.4 L740.6,645.5 L741.8,644.5 L742.9,643.5 L743.9,642.3 L745.0,641.2 L746.1,640.2 L747.4,639.4 L748.6,638.5 L749.8,637.5 L750.8,636.4 L751.9,635.3 L752.9,634.2 L754.1,633.3 L755.3,632.3 L756.7,631.6 L758.1,630.9 L759.5,630.2 L760.6,629.2 L761.5,628.0 L762.5,626.8 L763.8,625.9 L765.2,625.3 L766.5,624.4 L767.6,623.3 L768.5,622.1 L769.6,621.1 L770.6,620.0 L771.8,619.0 L773.0,618.0 L774.3,617.3 L775.7,616.5 L777.0,615.7 L778.0,614.6 L778.8,613.2 L779.6,611.8 L780.8,610.7 L782.3,610.2 L783.8,609.7 L785.2,609.0 L786.3,607.9 L787.5,607.0 L788.7,606.0 L789.9,605.1 L791.0,604.0 L792.0,602.8 L793.0,601.7 L794.2,600.8 L795.6,600.0 L796.8,599.2 L798.2,598.5 L799.6,597.7 L800.9,596.9 L801.9,595.8 L802.9,594.5 L803.7,593.1 L805.0,592.2 L806.3,591.4 L807.7,590.7 L808.8,589.7 L810.1,588.9 L811.4,588.0 L812.6,587.2 L813.7,586.1 L814.8,585.1 L816.1,584.2 L817.3,583.3 L818.6,582.5 L819.8,581.6 L821.0,580.7 L822.3,579.9 L823.7,579.2 L825.2,578.7 L826.6,578.1 L827.9,577.5 L829.1,576.5 L830.2,575.5 L831.4,574.6 L832.6,573.8 L833.9,573.0 L835.1,572.1 L836.4,571.4 L837.7,570.6 L839.1,570.1 L840.4,569.5 L841.7,568.9 L842.9,568.1 L844.1,567.2 L845.4,566.5 L846.7,565.8 L848.0,565.2 L849.3,564.7 L850.6,564.2 L851.8,563.4 L853.0,562.6 L854.1,561.6 L855.4,561.0 L856.7,560.3 L858.1,560.2 L859.6,560.0 L861.1,560.0 L862.5,559.8 L863.7,559.1 L864.9,558.4 L866.1,557.5 L867.3,556.8 L868.6,556.3 L870.0,556.2 L871.4,555.8 L872.6,555.0 L873.7,554.1 L875.0,553.6 L876.4,553.4 L877.9,553.3 L879.3,552.9 L880.6,552.4 L881.9,551.8 L883.1,551.1 L884.3,550.3 L885.6,549.5 L886.9,548.9 L888.4,548.7 L889.7,548.3 L891.1,547.8 L892.3,547.0 L893.6,546.4 L895.1,546.2 L896.5,545.8 L897.9,545.2 L899.0,544.3 L900.3,543.7 L901.6,542.9 L903.0,542.5 L904.4,542.0 L905.9,541.7 L907.2,541.1 L908.5,540.4 L909.8,539.6 L911.1,539.0 L912.4,538.3 L913.7,537.6 L915.1,536.9 L916.5,536.5 L917.8,535.9 L919.1,535.2 L920.5,534.5 L922.0,534.3 L923.5,533.9 L925.0,533.7 L926.4,533.2 L927.8,532.8 L929.2,532.3 L930.5,531.6 L931.8,530.8 L933.1,530.0 L934.4,529.2 L935.6,528.3 L936.9,527.4 L938.1,526.6 L939.5,525.9 L940.9,525.5 L942.5,525.3 L944.0,525.1 L945.4,524.7 L946.8,524.0 L948.0,523.2 L949.3,522.5 L950.7,521.8 L952.1,521.4 L953.5,520.8 L954.8,520.2 L956.1,519.3 L957.5,518.7 L959.0,518.6 L960.6,518.6 L962.2,518.6 L963.6,518.3 L965.0,517.8 L966.3,517.1 L967.7,516.5 L969.0,515.8 L970.5,515.6 L972.0,515.4 L973.4,514.9 L974.7,514.1 L975.9,513.3 L977.3,512.8 L978.7,512.2 L980.0,511.7 L981.4,511.2 L982.9,511.0 L984.4,510.8 L985.8,510.3 L987.1,509.7 L988.5,509.2 L989.9,508.8 L991.4,508.4 L992.7,507.8 L994.1,507.2 L995.5,506.7 L996.9,506.4 L998.4,506.0 L999.8,505.6 L1001.3,505.5 L1002.9,505.4 L1004.3,505.0 L1005.6,504.1 L1006.8,502.9 L1008.2,502.4 L1009.7,502.3 L1011.3,502.3 L1012.8,501.9 L1014.1,501.1 L1015.4,500.2 L1016.9,499.8 L1018.4,499.5 L1019.9,499.1 L1021.4,498.6 L1022.7,497.7 L1024.1,497.1 L1025.4,496.3 L1027.0,496.0 L1028.5,495.6 L1030.0,495.1 L1031.3,494.1 L1032.6,493.2 L1034.1,492.7 L1035.6,492.3 L1037.1,491.8 L1038.4,491.0 L1039.9,490.4 L1041.4,490.0 L1042.8,489.4 L1044.3,488.9 L1045.7,488.1 L1047.2,487.6 L1048.5,486.9 L1049.9,486.2 L1051.2,485.2 L1052.6,484.6 L1054.2,484.3 L1055.8,484.2 L1057.4,484.0 L1058.8,483.5 L1060.3,483.3 L1061.8,482.8 L1063.3,482.5 L1064.6,481.7 L1066.0,481.1 L1067.4,480.3 L1068.8,480.0 L1070.2,479.4 L1071.7,479.0 L1073.0,478.3 L1074.4,477.8 L1075.9,477.6 L1077.4,477.6 L1079.0,477.6 L1080.4,477.6 L1081.9,477.2 L1083.3,476.9 L1084.7,476.6 L1086.2,476.6 L1087.7,476.6 L1089.2,476.6 L1090.6,476.1 L1092.0,475.7 L1093.5,475.3 L1094.9,475.3 L1096.4,474.9 L1097.8,474.6 L1099.3,474.2 L1100.7,474.1 L1102.2,474.3 L1103.7,474.5 L1105.2,474.5 L1106.7,474.3 L1108.2,474.4 L1109.6,474.3 L1111.1,474.1 L1112.5,473.5 L1114.0,473.1 L1115.4,472.7 L1116.9,472.5 L1118.3,472.2 L1119.8,471.6 L1121.2,471.0 L1122.6,470.4 L1124.0,470.0 L1125.5,469.6 L1127.0,469.4 L1128.5,469.3 L1130.1,469.2 L1131.6,468.8 L1133.0,468.3 L1134.5,468.0 L1136.0,467.4 L1137.3,466.6 L1138.7,465.8 L1140.2,465.4 L1141.8,465.5 L1143.4,465.4 L1144.9,465.0 L1146.3,464.6 L1147.9,464.4 L1149.3,464.1 L1150.7,463.3 L1152.1,462.6 L1153.5,461.9 L1155.0,461.8 L1156.5,461.6 L1158.1,461.8 L1159.6,461.8 L1161.1,461.7 L1162.5,461.5 L1164.0,461.3 L1165.5,461.2 L1166.9,461.0 L1168.4,460.9 L1169.9,460.9 L1171.3,461.0 L1172.8,460.9 L1174.3,460.9 L1175.7,461.1 L1177.2,461.5 L1178.6,462.0 L1180.1,461.9 L1181.7,461.7 L1183.3,461.4 L1184.8,461.5 L1186.3,461.9 L1187.7,462.5 L1189.2,462.9 L1190.7,463.1 L1192.2,463.2 L1193.6,463.5 L1195.1,463.9 L1196.5,464.2 L1198.0,464.6 L1199.4,465.0 L1200.9,465.2 L1202.4,465.4 L1203.9,465.4 L1205.4,465.4 L1206.8,465.3 L1208.3,465.3 L1209.8,465.3 L1211.3,465.0 L1212.7,464.6 L1214.2,464.1 L1215.6,463.8 L1217.1,463.9 L1218.7,464.0 L1220.2,464.1 L1221.7,464.0 L1223.2,464.0 L1224.6,463.7 L1226.1,463.4 L1227.6,463.1 L1229.1,462.9 L1230.5,462.7 L1232.0,462.7 L1233.5,462.3 L1235.0,462.3 L1236.5,462.5 L1238.0,462.7 L1239.5,462.6 L1240.9,462.2 L1242.4,461.7 L1243.9,461.5 L1245.4,461.7 L1246.9,462.2 L1248.3,462.4 L1249.8,462.2 L1251.3,461.9 L1252.8,461.6 L1254.3,461.3 L1255.8,461.2 L1257.2,461.2 L1258.7,461.5 L1260.2,461.9 L1261.7,462.2 L1263.2,462.1 L1264.7,461.9 L1266.2,461.7 L1267.6,461.3 L1269.1,460.9 L1270.5,460.4 L1272.0,460.3 L1273.5,460.4 L1275.0,460.5 L1276.5,460.4 L1278.0,460.1 L1279.5,459.8 L1281.0,459.7 L1282.4,459.5 L1283.9,459.4 L1285.4,459.0 L1286.9,459.0 L1288.4,459.0 L1289.9,459.0 L1291.4,458.8 L1292.9,458.4 L1294.3,458.0 L1295.8,457.6 L1297.2,457.3 L1298.7,457.1 L1300.3,457.3 L1301.8,457.4 L1303.3,457.3 L1304.7,457.0 L1306.2,456.7 L1307.7,456.5 L1309.2,456.6 L1310.7,456.6 L1312.2,457.0 L1313.7,457.1 L1315.2,457.3 L1316.7,456.9 L1318.1,456.6 L1319.6,456.5 L1321.1,456.5 L1322.6,456.5 L1324.0,456.3 L1325.5,456.1 L1327.0,455.8 L1328.5,455.7 L1330.0,455.9 L1331.5,456.2 L1333.0,456.6 L1334.4,456.9 L1335.9,457.1 L1337.4,457.1 L1339.0,457.2 L1340.5,457.1 L1342.0,457.6 L1343.4,458.1 L1344.8,458.9 L1346.2,459.3 L1347.7,459.7 L1349.3,459.8 L1350.8,460.0 L1352.4,459.9 L1353.8,460.2 L1355.3,460.7 L1356.7,461.5 L1358.1,461.9 L1359.7,461.8 L1361.3,461.4 L1362.9,461.4 L1364.3,461.8 L1365.7,462.3 L1367.2,462.7 L1368.7,462.8 L1370.2,463.0 L1371.6,463.4 L1373.1,463.9 L1374.5,464.1 L1376.0,464.1 L1377.5,463.8 L1379.0,463.5 L1380.4,463.3 L1381.9,463.4 L1383.4,463.3 L1384.9,463.3 L1386.3,462.8 L1387.9,462.7 L1389.4,462.5 L1390.9,462.4 L1392.3,461.9 L1393.7,461.3 L1395.2,460.8 L1396.7,460.5 L1398.2,460.2 L1399.7,459.9 L1401.2,459.7 L1402.8,459.5 L1404.3,459.3 L1405.8,459.0 L1407.3,458.8 L1408.8,458.7 L1410.3,458.6 L1411.8,458.2 L1413.3,457.9 L1414.7,457.5 L1416.2,457.0 L1417.6,456.5 L1419.1,456.0 L1420.6,455.9 L1422.1,456.1 L1423.5,456.2 L1425.0,456.2 L1426.5,456.0 L1428.0,456.0 L1429.5,456.2 L1431.0,456.6 L1432.5,457.0 L1434.0,457.1 L1435.5,457.3 L1436.9,457.5 L1438.4,457.9 L1439.9,458.2 L1441.4,458.4 L1442.8,458.6 L1444.3,458.6 L1445.8,458.4 L1447.3,458.1 L1448.8,457.9 L1450.2,458.0 L1451.7,458.0 L1453.2,458.0 L1454.7,457.9 L1456.2,457.7 L1457.7,457.3 L1459.1,456.9 L1460.6,456.4 L1462.0,456.1 L1463.5,455.7 L1465.0,455.5 L1466.5,455.4 L1468.1,455.4 L1469.6,455.3 L1471.1,455.0 L1472.6,454.9 L1474.0,454.9 L1475.5,454.9 L1477.0,454.6 L1478.5,454.5 L1480.0,454.6 L1481.5,454.9 L1482.9,455.2 L1484.4,455.1 L1485.9,455.2 L1487.5,455.1 L1488.9,455.6 L1490.4,456.0 L1491.8,456.4 L1493.3,456.7 L1494.8,457.1 L1496.2,457.5 L1497.7,457.7 L1499.3,457.6 L1500.9,457.4 L1502.4,457.5 L1503.9,457.6 L1505.4,458.0 L1506.9,458.4 L1508.3,459.1 L1509.7,459.8 L1511.1,460.2 L1512.7,460.3 L1514.2,460.4 L1515.8,460.4 L1517.2,460.8 L1518.6,461.4 L1520.0,462.1 L1521.5,462.6 L1523.0,463.0 L1524.4,463.3 L1525.9,463.5 L1527.5,463.4 L1529.1,463.1 L1530.6,463.1 L1532.0,463.5 L1533.5,464.2 L1534.9,464.7 L1536.4,465.1 L1537.9,465.3 L1539.4,465.4 L1540.9,465.5 L1542.4,465.4 L1543.9,465.6 L1545.4,465.4 L1546.9,465.5 L1548.4,465.5 L1549.8,465.9 L1551.3,466.0 L1552.8,466.4 L1554.3,466.4 L1555.8,466.6 L1557.3,466.7 L1558.7,466.9 L1560.2,467.3 L1561.7,467.3 L1563.2,467.4 L1564.7,466.9 L1566.2,466.7 L1567.7,466.8 L1569.1,467.3 L1570.6,467.7 L1572.1,467.7 L1573.6,467.6 L1575.1,467.7 L1576.6,467.9 L1578.0,467.7 L1579.5,467.0 L1581.0,466.7 L1582.5,466.9 L1584.0,467.8 L1585.5,468.2 L1587.0,468.1 L1588.4,467.3 L1589.9,466.8 L1591.4,466.5 L1592.9,466.5 L1594.3,466.4 L1595.8,466.3 L1597.3,466.2 L1598.8,466.5 L1600.4,466.8 L1601.9,466.8 L1603.3,466.4 L1604.8,465.8 L1606.2,465.2 L1607.7,465.1 L1609.2,465.2 L1610.7,465.7 L1612.2,465.9 L1613.7,465.9 L1615.2,465.5 L1616.7,465.2 L1618.1,464.8 L1619.6,464.9 L1621.1,465.1 L1622.6,465.6 L1624.1,465.8 L1625.6,465.9 L1627.0,466.0 L1628.5,465.9 L1630.0,466.0 L1631.5,465.9 L1633.0,466.0 L1634.5,466.3 L1636.0,466.5 L1637.5,466.4 L1639.0,466.2 L1640.5,466.3 L1641.9,466.8 L1643.4,467.3 L1644.8,467.7 L1646.3,467.8 L1647.8,468.1 L1649.3,468.1 L1650.8,467.8 L1652.3,467.5 L1653.8,467.1 L1655.3,467.1 L1656.8,467.1 L1658.2,467.1 L1659.7,467.0 L1661.2,467.0 L1662.7,467.2 L1664.2,467.1 L1665.7,466.9 L1667.1,466.4 L1668.6,466.3 L1670.1,466.2 L1671.6,466.4 L1673.1,466.4 L1674.6,466.2 L1676.1,465.6 L1677.5,465.1 L1679.0,464.9 L1680.5,465.0 L1682.0,465.1 L1683.5,464.8 L1685.0,464.5 L1686.4,464.2 L1687.9,464.1 L1689.4,464.1 L1690.9,464.3 L1692.4,464.5 L1693.9,464.6 L1695.4,464.3 L1696.9,464.2 L1698.4,464.3 L1699.8,464.6 L1701.3,464.6 L1702.8,464.7 L1704.3,464.4 L1705.8,464.4 L1707.3,463.9 L1708.8,464.2 L1710.3,464.4 L1711.8,464.9 L1713.3,465.1 L1714.7,465.4 L1716.2,465.6 L1717.6,466.2 L1719.1,466.6 L1720.6,466.9 L1722.1,466.8 L1723.6,466.6 L1725.2,466.6 L1726.6,467.0 L1728.1,467.1 L1729.6,467.5 L1731.1,467.9 L1732.5,468.3 L1734.0,468.7 L1735.5,469.0 L1736.9,469.5 L1738.4,469.9 L1739.9,469.9 L1741.4,469.7 L1743.0,469.6 L1744.4,470.1 L1745.9,470.6 L1747.3,471.1 L1748.9,471.0 L1750.4,470.8 L1751.9,470.7 L1753.4,471.1 L1754.8,471.5 L1756.3,472.2 L1757.7,472.6 L1759.2,473.1 L1760.6,473.4 L1762.1,473.6 L1763.6,473.6 L1765.2,473.4 L1766.7,473.1 L1768.2,472.9 L1769.7,473.2 L1771.1,473.5 L1772.6,473.6 L1774.1,473.3 L1775.6,473.3 L1777.1,473.6 L1778.5,474.0 L1780.0,474.1 L1781.5,474.2 L1783.0,474.3 L1784.5,474.5 L1786.0,474.2 L1787.4,473.7 L1788.9,473.4 L1790.4,473.4 L1791.9,473.7 L1793.4,473.8 L1794.9,473.6 L1796.4,473.4 L1797.8,473.1 L1799.3,473.0 L1800.8,472.8 L1802.3,472.6 L1803.7,472.2 L1805.2,472.1 L1806.7,472.0 L1808.2,472.1 L1809.7,472.0 L1811.2,471.9 L1812.7,471.7 L1814.1,471.4 L1815.6,471.4 L1817.1,471.2 L1818.6,471.2 L1820.1,470.9 L1821.6,470.8 L1823.1,470.8 L1824.5,470.6 L1826.0,470.5 L1827.5,470.3 L1829.0,470.2 L1830.5,470.1 L1832.0,470.0 L1833.4,469.9 L1834.9,469.9 L1836.4,470.1 L1837.9,470.3 L1839.4,470.6 L1840.9,470.6 L1842.4,470.6 L1843.9,470.3 L1845.4,470.2 L1846.8,470.3 L1848.3,470.7 L1849.7,471.4 L1851.2,471.7 L1852.7,471.9 L1854.2,471.7 L1855.7,471.7 L1857.2,471.7 L1858.7,472.2 L1860.1,472.5 L1861.6,472.9 L1863.1,473.1 L1864.6,473.4 L1866.1,473.5 L1867.6,473.6 L1869.1,473.5 L1870.7,473.6 L1872.1,474.0 L1873.5,474.9 L1874.8,475.9 L1876.2,476.5 L1877.8,476.6 L1879.4,476.3 L1881.0,476.1 L1882.5,476.3 L1883.9,476.8 L1885.3,477.4 L1886.8,477.7 L1888.3,477.9 L1889.8,478.1 L1891.3,478.5 L1892.8,478.9 L1894.2,479.4 L1895.7,479.9 L1897.1,480.4 L1898.6,480.8 L1900.1,481.2 L1901.6,481.3 L1903.1,481.5 L1904.6,481.5 L1906.2,481.6 L1907.7,481.8 L1909.2,482.1 L1910.6,482.8 L1912.0,483.3 L1913.5,483.6 L1915.0,483.7 L1916.5,484.0 L1918.0,484.2 L1919.5,484.5 L1921.0,484.7 L1922.4,485.0 L1923.9,485.4 L1925.4,485.6 L1926.9,485.5 L1928.5,485.1 L1930.0,485.1 L1931.4,485.4 L1932.9,485.8 L1934.3,486.1 L1935.8,486.5 L1937.3,487.0 L1938.7,487.2 L1940.2,487.2 L1941.7,487.2 L1943.2,487.4 L1944.7,487.5 L1946.2,487.5 L1947.7,487.3 L1949.1,487.4 L1950.6,487.8 L1952.1,488.2 L1953.6,487.9 L1955.1,487.4 L1956.6,487.0 L1958.0,486.9 L1959.5,486.9 L1961.0,486.6 L1962.5,486.5 L1964.0,486.4 L1965.4,486.9 L1966.9,486.8 L1968.4,486.6 L1969.9,486.4 L1971.4,486.5 L1972.9,486.9 L1974.3,487.1 L1975.8,487.2 L1977.3,487.2 L1978.8,487.1 L1980.4,487.0 L1981.8,487.3 L1983.3,487.8 L1984.7,488.3 L1986.2,488.7 L1987.7,489.0 L1989.2,489.3 L1990.7,489.6 L1992.2,489.9 L1993.7,490.2 L1995.2,490.7 L1996.6,491.3 L1998.1,491.8 L1999.6,492.2 L2001.1,492.7 L2002.5,493.3 L2004.0,493.7 L2005.5,494.1 L2007.0,494.3 L2008.5,494.7 L2010.0,494.9 L2011.4,495.4 L2012.9,495.8 L2014.3,496.2 L2015.8,496.4 L2017.3,496.4 L2018.8,496.7 L2020.3,496.8 L2021.8,497.0 L2023.2,497.0 L2024.7,496.8 L2026.2,496.8 L2027.7,496.7 L2029.2,496.9 L2030.7,496.9 L2032.2,496.8 L2033.7,496.8 L2035.2,496.9 L2036.7,496.6 L2038.1,496.1 L2039.5,495.5 L2041.0,495.4 L2042.5,495.4 L2044.0,495.1 L2045.4,494.7 L2046.9,494.4 L2048.4,494.6 L2049.9,494.9 L2051.4,495.1 L2052.9,495.1 L2054.4,495.1 L2055.8,495.4 L2057.3,495.8 L2058.7,496.3 L2060.2,496.6 L2061.7,496.8 L2063.2,497.0 L2064.6,497.4 L2066.2,497.6 L2067.7,497.5 L2069.3,497.4 L2070.7,497.8 L2072.1,498.4 L2073.6,498.9 L2075.1,499.1 L2076.6,499.2 L2078.0,499.3 L2079.5,499.5 L2081.0,499.7 L2082.5,500.0 L2083.9,500.3 L2085.4,500.4 L2086.9,500.4 L2088.4,500.0 L2089.9,499.6 L2091.3,499.4 L2092.8,499.4 L2094.3,499.5 L2095.8,499.5 L2097.2,499.4 L2098.7,499.5 L2100.2,499.5 L2101.7,499.8 L2103.2,499.9 L2104.7,499.7 L2106.1,499.5 L2107.6,499.2 L2109.1,499.3 L2110.6,499.0 L2112.1,499.0 L2113.6,499.1 L2115.0,499.7 L2116.5,500.1 L2118.0,500.3 L2119.4,500.2 L2120.9,500.2 L2122.4,500.3 L2123.9,500.8 L2125.3,501.4 L2126.7,502.0 L2128.2,502.3 L2129.7,502.3 L2131.2,502.2 L2132.8,502.3 L2134.2,502.7 L2135.7,503.2 L2137.1,503.6 L2138.6,504.0 L2140.1,504.2 L2141.6,504.3 L2143.2,504.5 L2144.7,504.7 L2146.2,504.8 L2147.8,504.9 L2149.2,505.2 L2150.7,505.8 L2152.0,506.6 L2153.4,507.5 L2154.8,508.0 L2156.3,508.1 L2157.9,508.1 L2159.4,508.0 L2160.9,508.1 L2162.4,508.4 L2163.8,508.8 L2165.3,509.4 L2166.7,509.7 L2168.2,509.8 L2169.7,509.6 L2171.2,509.4 L2172.7,509.5 L2174.2,509.7 L2175.6,510.1 L2177.1,510.2 L2178.6,510.1 L2180.1,510.0 L2181.5,510.0 L2183.0,510.0 L2184.5,510.1 L2186.0,510.3 L2187.5,510.6 L2189.0,510.6 L2190.4,510.3 L2191.9,509.6 L2193.3,508.9 L2194.8,508.7 L2196.3,509.1 L2197.8,509.4 L2199.3,509.4 L2200.7,509.1 L2202.2,508.9 L2203.7,509.1 L2205.2,509.1 L2206.7,509.3 L2208.1,509.4 L2209.6,510.0 L2211.1,510.2 L2212.5,510.5 L2214.0,509.9 L2215.5,509.8 L2217.0,509.8 L2218.5,510.3 L2219.9,510.6 L2221.4,510.8 L2222.9,510.6 L2224.5,510.5 L2226.0,510.5 L2227.5,510.7 L2228.9,511.3 L2230.3,512.0 L2231.7,512.8 L2233.1,513.2 L2234.6,513.4 L2236.2,513.4 L2237.7,513.7 L2239.2,514.0 L2240.6,514.6 L2242.1,515.0 L2243.6,515.3 L2245.1,515.6 L2246.6,516.0 L2248.1,516.5 L2249.6,516.7 L2251.1,516.9 L2252.6,517.5 L2254.0,518.2 L2255.4,518.9 L2256.9,519.2 L2258.4,519.6 L2259.8,520.2 L2261.3,520.8 L2262.7,521.3 L2264.2,521.6 L2265.7,522.1 L2267.1,522.7 L2268.5,523.4 L2270.0,524.0 L2271.4,524.5 L2272.9,524.7 L2274.5,524.9 L2276.1,524.7 L2277.7,524.5 L2279.3,524.5 L2280.7,524.9 L2282.1,525.5 L2283.5,526.4 L2284.9,526.8 L2286.4,527.2 L2287.9,527.2 L2289.4,527.5 L2290.8,527.7 L2292.3,528.1 L2293.8,528.3 L2295.2,528.6 L2296.7,529.0 L2298.1,529.5 L2299.6,529.5 L2301.1,529.2 L2302.6,528.8 L2304.1,528.6 L2305.5,528.7 L2307.0,528.8 L2308.5,529.1 L2310.0,529.0 L2311.5,528.8 L2312.9,528.4 L2314.4,528.3 L2315.9,528.3 L2317.4,528.4 L2318.9,528.2 L2320.4,527.7 L2321.8,527.1 L2323.2,526.4 L2324.7,526.0 L2325.9,525.5" fill="none" stroke="#ff0000" stroke-width="8.4" stroke-linejoin="round" stroke-linecap="round"/>
<path d="M244.0,1606.0 L244.4,1604.5 L244.8,1603.1 L245.2,1601.6 L245.6,1600.1 L246.0,1598.7 L246.4,1597.2 L246.8,1595.8 L247.2,1594.3 L247.6,1592.8 L248.0,1591.4 L248.4,1589.9 L248.8,1588.4 L249.1,1587.0 L249.5,1585.5 L250.0,1584.1 L250.4,1582.6 L250.8,1581.1 L251.2,1579.7 L251.7,1578.2 L252.1,1576.8 L252.5,1575.3 L252.9,1573.9 L253.3,1572.4 L253.7,1570.9 L254.1,1569.5 L254.6,1568.0 L254.9,1566.6 L255.3,1565.1 L255.7,1563.6 L256.1,1562.2 L256.5,1560.7 L256.9,1559.3 L257.4,1557.8 L257.7,1556.4 L258.1,1554.9 L258.3,1553.4 L258.8,1551.9 L259.1,1550.5 L259.6,1549.0 L260.1,1547.6 L260.5,1546.2 L260.9,1544.7 L261.3,1543.2 L261.7,1541.8 L262.3,1540.4 L262.8,1538.9 L263.2,1537.5 L263.6,1536.0 L263.9,1534.6 L264.3,1533.1 L264.6,1531.6 L265.1,1530.2 L265.5,1528.7 L265.9,1527.3 L266.1,1525.8 L266.5,1524.3 L266.9,1522.8 L267.4,1521.4 L267.8,1520.0 L268.2,1518.5 L268.6,1517.1 L269.0,1515.6 L269.4,1514.2 L269.7,1512.7 L270.3,1511.3 L270.8,1509.9 L271.2,1508.4 L271.5,1506.9 L271.9,1505.5 L272.4,1504.1 L273.0,1502.6 L273.5,1501.2 L273.7,1499.7 L274.2,1498.3 L274.6,1496.8 L275.2,1495.4 L275.4,1493.9 L275.8,1492.5 L276.2,1491.0 L276.9,1489.7 L277.6,1488.3 L278.1,1486.9 L278.4,1485.4 L278.6,1483.9 L278.7,1482.4 L279.0,1480.9 L279.5,1479.4 L280.0,1478.0 L280.3,1476.5 L280.7,1475.1 L281.2,1473.7 L281.8,1472.3 L282.1,1470.8 L282.3,1469.3 L282.7,1467.9 L283.4,1466.5 L284.2,1465.2 L284.7,1463.8 L285.0,1462.3 L285.3,1460.8 L285.7,1459.3 L286.1,1457.9 L286.6,1456.5 L286.9,1455.0 L287.4,1453.6 L287.9,1452.1 L288.6,1450.8 L289.3,1449.4 L290.1,1448.1 L290.4,1446.6 L290.4,1445.1 L290.2,1443.4 L290.5,1442.0 L290.9,1440.5 L291.5,1439.1 L291.9,1437.7 L292.6,1436.3 L293.0,1434.9 L293.2,1433.4 L293.5,1431.9 L294.0,1430.5 L294.9,1429.2 L295.6,1427.8 L296.3,1426.5 L296.5,1425.0 L297.0,1423.6 L297.4,1422.1 L298.1,1420.8 L298.4,1419.3 L298.7,1417.8 L298.7,1416.2 L299.1,1414.8 L299.6,1413.4 L300.4,1412.1 L300.8,1410.6 L301.1,1409.1 L301.3,1407.6 L301.7,1406.2 L302.1,1404.7 L302.7,1403.4 L303.5,1402.0 L304.1,1400.7 L304.3,1399.2 L304.3,1397.6 L304.5,1396.1 L305.1,1394.7 L305.9,1393.4 L306.5,1392.0 L307.0,1390.6 L307.4,1389.2 L307.7,1387.7 L308.0,1386.2 L308.2,1384.7 L308.7,1383.3 L309.2,1381.9 L309.6,1380.4 L310.1,1379.0 L310.6,1377.6 L311.2,1376.2 L311.8,1374.8 L312.3,1373.4 L312.8,1372.0 L313.5,1370.7 L314.0,1369.3 L314.4,1367.8 L314.5,1366.3 L314.9,1364.9 L315.4,1363.4 L316.2,1362.1 L316.8,1360.8 L317.4,1359.4 L317.9,1358.0 L318.3,1356.5 L318.7,1355.1 L318.9,1353.6 L319.3,1352.1 L319.9,1350.7 L320.5,1349.4 L321.4,1348.1 L321.9,1346.7 L322.3,1345.3 L322.3,1343.7 L322.6,1342.2 L323.0,1340.8 L323.5,1339.4 L323.9,1337.9 L324.5,1336.6 L325.0,1335.1 L325.6,1333.8 L325.9,1332.3 L326.3,1330.9 L326.5,1329.3 L326.7,1327.9 L327.1,1326.4 L327.8,1325.1 L328.6,1323.7 L329.3,1322.4 L330.0,1321.1 L330.5,1319.7 L331.0,1318.3 L331.4,1316.8 L331.5,1315.3 L331.8,1313.8 L332.0,1312.3 L332.6,1310.9 L333.1,1309.5 L333.9,1308.2 L334.5,1306.9 L335.1,1305.5 L335.4,1304.0 L335.7,1302.5 L336.2,1301.1 L336.6,1299.7 L337.2,1298.3 L337.7,1296.9 L338.1,1295.5 L338.6,1294.1 L338.8,1292.6 L339.2,1291.1 L339.5,1289.7 L340.3,1288.3 L341.0,1287.0 L341.8,1285.7 L342.3,1284.3 L342.5,1282.8 L342.9,1281.4 L343.4,1280.0 L344.0,1278.6 L344.4,1277.2 L344.8,1275.7 L345.2,1274.3 L345.8,1272.9 L346.4,1271.5 L347.0,1270.2 L347.6,1268.8 L348.2,1267.4 L348.6,1266.0 L349.0,1264.5 L349.4,1263.1 L350.0,1261.8 L350.8,1260.4 L351.5,1259.1 L351.8,1257.6 L352.0,1256.1 L352.6,1254.8 L353.4,1253.5 L354.2,1252.2 L354.6,1250.7 L355.0,1249.3 L355.6,1247.9 L356.2,1246.6 L356.8,1245.2 L357.2,1243.7 L357.7,1242.3 L358.0,1240.9 L358.5,1239.5 L359.0,1238.1 L359.7,1236.7 L360.0,1235.3 L360.4,1233.8 L360.7,1232.3 L361.3,1231.0 L362.2,1229.7 L363.0,1228.4 L363.6,1227.1 L364.1,1225.7 L364.6,1224.3 L365.0,1222.8 L365.5,1221.4 L366.0,1220.0 L366.5,1218.6 L367.1,1217.3 L367.7,1215.9 L368.1,1214.5 L368.6,1213.1 L369.2,1211.7 L369.8,1210.3 L370.2,1208.9 L370.6,1207.5 L371.0,1206.0 L371.5,1204.6 L372.0,1203.2 L372.6,1201.8 L373.3,1200.5 L373.9,1199.2 L374.5,1197.8 L375.0,1196.4 L375.3,1194.9 L375.6,1193.4 L376.1,1192.0 L376.8,1190.7 L377.7,1189.4 L378.3,1188.1 L379.0,1186.8 L379.4,1185.3 L379.8,1183.9 L380.0,1182.3 L380.2,1180.8 L380.8,1179.5 L381.4,1178.1 L381.9,1176.7 L382.5,1175.3 L383.1,1174.0 L383.5,1172.5 L384.1,1171.2 L384.8,1169.8 L385.7,1168.6 L386.5,1167.3 L387.2,1166.0 L387.7,1164.6 L388.0,1163.1 L388.2,1161.6 L388.7,1160.2 L389.5,1158.9 L390.4,1157.6 L391.0,1156.3 L391.5,1154.9 L391.9,1153.4 L392.4,1152.0 L392.8,1150.6 L393.1,1149.1 L393.5,1147.7 L394.0,1146.2 L394.6,1144.9 L395.3,1143.6 L396.1,1142.3 L397.1,1141.1 L398.1,1139.9 L398.9,1138.6 L399.3,1137.2 L399.6,1135.7 L400.0,1134.2 L400.6,1132.9 L401.1,1131.5 L401.4,1130.0 L401.7,1128.5 L402.1,1127.0 L403.0,1125.8 L403.9,1124.5 L404.6,1123.2 L405.1,1121.8 L405.6,1120.4 L406.2,1119.1 L406.9,1117.7 L407.7,1116.4 L408.3,1115.1 L408.9,1113.7 L409.4,1112.3 L409.9,1110.9 L410.5,1109.6 L411.1,1108.2 L411.9,1106.9 L412.7,1105.6 L413.3,1104.3 L413.6,1102.8 L414.0,1101.3 L414.5,1099.9 L415.2,1098.6 L415.9,1097.3 L416.5,1095.9 L417.2,1094.6 L417.4,1093.0 L417.7,1091.6 L418.2,1090.1 L419.0,1088.9 L419.9,1087.6 L420.4,1086.2 L421.0,1084.8 L421.5,1083.4 L422.3,1082.2 L423.0,1080.8 L423.6,1079.5 L424.4,1078.2 L425.0,1076.8 L425.8,1075.6 L426.4,1074.2 L427.1,1072.9 L427.6,1071.5 L428.1,1070.0 L428.5,1068.6 L429.2,1067.3 L430.0,1066.0 L430.7,1064.7 L431.5,1063.4 L432.3,1062.1 L432.9,1060.8 L433.3,1059.3 L433.6,1057.8 L434.0,1056.3 L434.8,1055.0 L435.7,1053.8 L436.4,1052.5 L436.9,1051.1 L437.3,1049.6 L437.9,1048.2 L438.6,1046.9 L439.4,1045.7 L440.0,1044.2 L440.4,1042.8 L441.0,1041.4 L441.9,1040.2 L442.7,1038.9 L443.5,1037.6 L444.1,1036.3 L445.0,1035.0 L445.8,1033.8 L446.5,1032.4 L447.0,1031.1 L447.6,1029.7 L448.1,1028.2 L448.7,1026.9 L449.2,1025.5 L450.1,1024.2 L450.7,1022.8 L451.3,1021.5 L451.7,1020.0 L452.4,1018.7 L453.1,1017.4 L453.9,1016.1 L454.5,1014.7 L455.2,1013.4 L455.8,1012.0 L456.3,1010.6 L457.1,1009.3 L458.0,1008.1 L458.7,1006.8 L459.2,1005.4 L459.8,1004.0 L460.4,1002.6 L461.0,1001.2 L461.4,999.7 L461.9,998.3 L462.5,996.9 L463.3,995.6 L464.1,994.4 L464.9,993.1 L465.7,991.8 L466.2,990.4 L466.9,989.0 L467.4,987.6 L468.0,986.3 L468.6,984.8 L469.4,983.6 L470.2,982.3 L470.9,981.0 L471.6,979.7 L472.4,978.3 L473.2,977.1 L474.0,975.8 L474.7,974.5 L475.4,973.1 L475.9,971.7 L476.6,970.4 L477.4,969.1 L478.5,968.0 L479.3,966.7 L480.0,965.4 L480.5,963.9 L481.1,962.5 L481.8,961.2 L482.5,959.9 L483.3,958.6 L483.9,957.2 L484.5,955.8 L485.2,954.5 L486.2,953.3 L487.3,952.2 L488.1,950.9 L488.3,949.3 L488.6,947.8 L489.0,946.3 L489.8,945.0 L490.7,943.7 L491.4,942.4 L492.1,941.1 L492.8,939.7 L493.5,938.4 L494.3,937.1 L495.2,935.9 L496.0,934.6 L496.7,933.2 L497.2,931.8 L497.8,930.4 L498.7,929.2 L499.4,927.9 L500.1,926.5 L500.9,925.2 L501.7,924.0 L502.7,922.7 L503.7,921.6 L504.6,920.4 L505.5,919.1 L506.3,917.8 L507.0,916.5 L507.7,915.1 L508.3,913.7 L508.8,912.3 L509.4,910.9 L510.2,909.6 L511.1,908.4 L512.0,907.2 L512.7,905.8 L513.5,904.5 L514.2,903.2 L515.0,901.9 L515.6,900.5 L516.2,899.1 L516.9,897.7 L517.6,896.4 L518.4,895.1 L519.3,893.9 L520.2,892.6 L521.1,891.4 L521.7,890.0 L522.3,888.6 L523.0,887.2 L523.7,885.9 L524.3,884.5 L525.1,883.2 L526.0,882.0 L526.9,880.7 L527.6,879.4 L528.3,878.0 L529.2,876.8 L530.2,875.6 L531.2,874.4 L531.9,873.1 L532.6,871.7 L533.2,870.3 L533.8,868.9 L534.6,867.6 L535.4,866.4 L536.3,865.1 L537.1,863.8 L538.0,862.6 L539.0,861.4 L539.9,860.2 L540.6,858.9 L541.4,857.6 L542.0,856.2 L542.9,854.9 L543.5,853.5 L544.5,852.4 L545.4,851.1 L546.2,849.9 L546.9,848.5 L547.6,847.2 L548.4,845.8 L549.2,844.6 L549.9,843.2 L550.5,841.8 L551.3,840.5 L552.3,839.3 L553.4,838.2 L554.4,837.1 L555.2,835.8 L555.9,834.4 L556.7,833.1 L557.7,832.0 L558.5,830.7 L559.0,829.2 L559.2,827.5 L559.8,826.1 L560.9,825.0 L562.2,824.1 L563.3,822.9 L564.1,821.7 L564.9,820.4 L565.8,819.1 L566.7,818.0 L567.7,816.8 L568.6,815.5 L569.3,814.2 L570.0,812.9 L571.0,811.7 L572.0,810.6 L573.1,809.5 L573.8,808.2 L574.3,806.6 L574.8,805.1 L575.7,803.9 L576.9,803.0 L578.0,801.9 L578.8,800.6 L579.5,799.2 L580.2,797.9 L581.2,796.7 L582.1,795.5 L583.1,794.3 L584.0,793.1 L585.0,792.0 L585.9,790.8 L586.8,789.5 L587.5,788.2 L588.2,786.8 L589.1,785.6 L590.0,784.4 L591.0,783.3 L591.9,782.1 L592.6,780.7 L593.3,779.3 L594.1,778.1 L595.1,776.9 L596.2,775.9 L597.1,774.7 L598.1,773.5 L598.9,772.2 L599.6,770.9 L600.4,769.6 L601.4,768.5 L602.3,767.3 L603.3,766.2 L604.5,765.2 L605.6,764.1 L606.6,763.0 L607.6,761.8 L608.5,760.7 L609.2,759.3 L609.8,757.9 L610.5,756.5 L611.3,755.2 L612.1,754.0 L612.9,752.7 L614.0,751.6 L615.0,750.5 L616.2,749.5 L617.1,748.3 L618.0,747.2 L618.9,745.9 L619.8,744.8 L620.9,743.7 L622.0,742.7 L623.0,741.5 L623.9,740.3 L624.7,739.1 L625.6,737.8 L626.6,736.7 L627.4,735.5 L628.4,734.4 L629.2,733.0 L630.0,731.8 L630.9,730.6 L631.9,729.5 L633.0,728.5 L634.0,727.4 L635.0,726.2 L635.8,724.9 L636.6,723.7 L637.4,722.4 L638.3,721.2 L639.3,720.1 L640.3,719.0 L641.4,717.9 L642.4,716.9 L643.6,715.9 L644.7,714.9 L646.0,714.0 L647.0,713.0 L647.9,711.7 L648.5,710.3 L649.2,708.9 L649.9,707.6 L650.8,706.4 L651.8,705.3 L653.1,704.5 L654.5,703.7 L655.7,702.8 L656.6,701.6 L657.3,700.3 L658.3,699.1 L659.2,698.0 L660.4,697.0 L661.5,696.0 L662.8,695.2 L664.0,694.3 L665.0,693.2 L665.9,692.0 L666.6,690.7 L667.6,689.5 L668.6,688.5 L669.6,687.4 L670.4,686.0 L671.2,684.7 L672.1,683.5 L673.2,682.6 L674.3,681.6 L675.3,680.5 L676.2,679.3 L677.2,678.2 L678.4,677.3 L679.6,676.4 L680.6,675.3 L681.6,674.2 L682.6,673.1 L683.7,672.1 L684.7,671.0 L685.7,669.8 L686.5,668.6 L687.4,667.4 L688.5,666.4 L689.8,665.5 L691.1,664.7 L692.1,663.7 L693.0,662.4 L693.8,661.2 L694.8,660.1 L695.9,659.1 L696.9,658.0 L697.8,656.8 L698.9,655.8 L700.2,654.9 L701.3,654.0 L702.4,653.0 L703.3,651.7 L704.3,650.7 L705.3,649.6 L706.6,648.8 L707.9,648.0 L709.0,646.9 L710.0,645.8 L710.9,644.6 L712.0,643.7 L713.0,642.6 L714.1,641.6 L715.2,640.5 L716.3,639.5 L717.3,638.4 L718.3,637.3 L719.4,636.3 L720.6,635.4 L721.8,634.5 L723.0,633.6 L724.1,632.6 L725.1,631.5 L726.1,630.3 L727.2,629.3 L728.4,628.4 L729.6,627.5 L730.7,626.5 L731.8,625.5 L732.8,624.4 L733.9,623.4 L735.0,622.4 L736.1,621.4 L737.3,620.5 L738.5,619.5 L739.4,618.4 L740.4,617.2 L741.3,616.0 L742.5,615.0 L743.6,614.0 L744.9,613.2 L746.2,612.4 L747.6,611.7 L748.9,610.9 L750.0,609.9 L751.0,608.9 L752.0,607.7 L752.9,606.5 L753.9,605.3 L755.1,604.4 L756.5,603.7 L757.9,603.0 L759.1,602.1 L760.2,601.1 L761.3,600.0 L762.3,598.8 L763.3,597.7 L764.3,596.5 L765.6,595.7 L767.0,595.0 L768.3,594.3 L769.3,593.1 L770.3,592.0 L771.3,590.8 L772.5,589.9 L773.7,589.0 L775.1,588.2 L776.4,587.5 L777.6,586.6 L778.6,585.4 L779.7,584.3 L780.9,583.4 L782.2,582.6 L783.5,581.8 L784.6,580.7 L785.8,579.8 L787.0,578.9 L788.3,578.0 L789.5,577.0 L790.6,576.1 L791.8,575.1 L792.9,574.1 L793.9,572.9 L794.8,571.6 L795.9,570.4 L797.2,569.7 L798.7,569.0 L800.2,568.6 L801.5,567.8 L802.8,567.0 L804.0,566.0 L805.2,565.1 L806.5,564.3 L807.7,563.4 L809.0,562.6 L810.3,561.8 L811.5,560.9 L812.7,560.0 L813.8,558.9 L815.0,558.0 L816.0,556.8 L817.2,555.9 L818.4,555.0 L819.8,554.3 L821.0,553.4 L822.3,552.6 L823.6,551.9 L825.1,551.4 L826.5,550.9 L827.8,550.1 L829.1,549.3 L830.3,548.5 L831.5,547.6 L832.6,546.5 L833.7,545.5 L834.9,544.6 L836.1,543.7 L837.3,542.7 L838.4,541.8 L839.6,540.9 L841.1,540.4 L842.5,539.9 L843.9,539.4 L845.0,538.5 L846.1,537.4 L847.2,536.4 L848.5,535.6 L849.8,535.0 L851.2,534.5 L852.6,533.9 L853.9,533.3 L855.3,532.8 L856.7,532.5 L858.2,532.1 L859.5,531.5 L860.7,530.6 L861.9,529.8 L863.0,528.9 L864.3,528.2 L865.6,527.5 L866.8,526.8 L868.1,526.0 L869.4,525.4 L870.7,524.8 L872.1,524.2 L873.3,523.5 L874.6,522.9 L876.0,522.2 L877.3,521.7 L878.6,520.9 L880.0,520.3 L881.4,519.8 L882.8,519.2 L883.9,518.2 L885.0,517.1 L886.3,516.3 L887.8,515.8 L889.3,515.5 L890.7,514.9 L891.9,514.0 L893.1,513.0 L894.4,512.2 L895.9,511.6 L897.2,510.9 L898.5,510.1 L899.7,509.2 L901.1,508.5 L902.4,507.7 L903.8,507.1 L905.1,506.2 L906.5,505.5 L907.8,504.8 L909.3,504.3 L910.5,503.4 L911.7,502.4 L913.1,501.6 L914.4,500.9 L915.8,500.3 L917.1,499.5 L918.6,499.0 L920.0,498.5 L921.5,498.1 L922.9,497.4 L924.3,496.8 L925.6,496.1 L927.0,495.5 L928.3,494.8 L929.8,494.3 L931.1,493.5 L932.4,492.8 L933.6,491.9 L934.9,491.1 L936.1,490.2 L937.5,489.5 L938.9,489.1 L940.3,488.5 L941.8,488.1 L943.2,487.6 L944.6,487.2 L945.9,486.4 L947.3,485.8 L948.6,485.2 L950.1,484.8 L951.5,484.4 L953.0,484.1 L954.4,483.7 L955.7,483.1 L957.0,482.3 L958.3,481.4 L959.6,480.6 L960.8,479.7 L962.1,478.9 L963.6,478.7 L965.2,478.7 L966.7,478.6 L968.0,477.9 L969.4,477.3 L970.7,476.6 L972.1,476.2 L973.5,475.8 L974.9,475.4 L976.4,475.0 L977.8,474.7 L979.2,474.4 L980.7,474.2 L982.1,473.8 L983.6,473.5 L984.9,472.9 L986.4,472.6 L987.7,472.1 L989.1,471.6 L990.5,470.9 L991.9,470.5 L993.3,470.1 L994.7,469.8 L996.1,469.4 L997.5,468.9 L998.9,468.4 L1000.3,468.0 L1001.8,467.8 L1003.2,467.4 L1004.6,466.9 L1005.9,466.3 L1007.3,465.7 L1008.7,465.4 L1010.2,465.1 L1011.6,465.1 L1013.1,464.7 L1014.5,464.4 L1015.9,464.1 L1017.4,464.1 L1018.9,463.8 L1020.3,463.3 L1021.7,462.8 L1023.1,462.5 L1024.6,462.3 L1026.0,462.0 L1027.4,461.6 L1028.8,461.3 L1030.2,460.9 L1031.7,460.6 L1033.0,460.0 L1034.4,459.6 L1035.9,459.3 L1037.3,459.0 L1038.8,458.8 L1040.2,458.6 L1041.7,458.4 L1043.1,457.9 L1044.5,457.5 L1045.9,457.2 L1047.4,457.2 L1048.9,457.1 L1050.3,456.7 L1051.7,456.1 L1053.1,455.5 L1054.5,455.2 L1056.0,455.0 L1057.5,454.7 L1058.9,454.6 L1060.4,454.3 L1061.9,454.4 L1063.3,454.0 L1064.8,453.8 L1066.2,453.5 L1067.7,453.0 L1069.0,452.2 L1070.4,451.5 L1071.8,451.3 L1073.3,451.2 L1074.8,450.8 L1076.2,450.4 L1077.7,450.1 L1079.2,450.2 L1080.7,450.0 L1082.1,449.6 L1083.6,449.1 L1085.0,448.7 L1086.5,448.3 L1087.9,448.1 L1089.5,448.1 L1091.0,447.9 L1092.4,447.6 L1093.9,447.1 L1095.3,446.5 L1096.7,446.0 L1098.1,445.5 L1099.6,445.2 L1101.1,445.0 L1102.6,444.7 L1104.1,444.4 L1105.5,444.0 L1107.0,443.6 L1108.5,443.3 L1109.9,443.0 L1111.4,442.7 L1112.8,442.1 L1114.2,441.4 L1115.6,440.9 L1117.1,440.8 L1118.7,440.8 L1120.2,440.8 L1121.7,440.6 L1123.1,440.4 L1124.6,440.3 L1126.1,440.3 L1127.6,440.2 L1129.0,439.9 L1130.5,439.5 L1131.9,439.2 L1133.4,439.0 L1134.9,438.9 L1136.4,438.7 L1137.8,438.3 L1139.2,437.6 L1140.7,437.2 L1142.1,437.1 L1143.7,437.4 L1145.2,437.5 L1146.7,437.2 L1148.1,436.6 L1149.6,436.2 L1151.1,436.0 L1152.6,435.9 L1154.1,435.6 L1155.6,435.5 L1157.1,435.3 L1158.6,435.2 L1160.1,434.8 L1161.5,434.3 L1162.9,433.7 L1164.4,433.1 L1165.8,432.8 L1167.3,432.5 L1168.8,432.1 L1170.3,431.7 L1171.8,431.4 L1173.3,431.5 L1174.9,431.6 L1176.4,431.4 L1177.8,430.8 L1179.2,430.0 L1180.6,429.5 L1182.1,429.1 L1183.6,428.9 L1185.1,428.6 L1186.6,428.5 L1188.1,428.4 L1189.6,428.4 L1191.1,428.3 L1192.6,428.4 L1194.1,428.3 L1195.6,428.3 L1197.1,428.1 L1198.5,427.9 L1200.0,427.7 L1201.5,427.5 L1203.0,427.4 L1204.4,427.2 L1205.9,427.1 L1207.4,427.1 L1208.9,427.2 L1210.4,427.4 L1211.8,427.5 L1213.3,427.6 L1214.8,427.7 L1216.3,427.7 L1217.8,427.5 L1219.3,427.3 L1220.8,427.4 L1222.3,427.6 L1223.8,427.6 L1225.3,427.4 L1226.8,427.3 L1228.2,427.6 L1229.7,427.9 L1231.2,428.2 L1232.7,428.3 L1234.1,428.4 L1235.6,428.5 L1237.1,428.8 L1238.6,429.0 L1240.1,429.1 L1241.6,429.2 L1243.0,429.2 L1244.5,429.0 L1246.0,428.6 L1247.5,428.4 L1249.0,428.5 L1250.5,428.9 L1252.0,429.2 L1253.5,429.3 L1255.0,429.1 L1256.4,428.7 L1257.9,428.3 L1259.4,428.1 L1260.9,428.1 L1262.4,428.0 L1263.8,427.8 L1265.3,427.3 L1266.8,427.1 L1268.2,426.9 L1269.7,426.9 L1271.2,426.8 L1272.7,426.8 L1274.3,426.8 L1275.8,426.7 L1277.2,426.3 L1278.7,425.7 L1280.1,425.4 L1281.7,425.6 L1283.3,425.7 L1284.8,425.5 L1286.2,425.0 L1287.7,424.4 L1289.1,423.7 L1290.5,423.1 L1292.0,422.8 L1293.6,422.6 L1295.1,422.3 L1296.6,422.0 L1298.0,421.4 L1299.5,421.0 L1301.0,420.5 L1302.4,419.9 L1303.8,419.3 L1305.3,418.9 L1306.9,418.8 L1308.5,418.8 L1310.0,418.5 L1311.5,418.1 L1312.9,417.6 L1314.4,417.2 L1315.8,416.7 L1317.3,416.2 L1318.8,415.9 L1320.3,415.8 L1321.8,415.8 L1323.3,415.6 L1324.8,415.4 L1326.3,415.1 L1327.7,414.6 L1329.2,414.3 L1330.7,414.2 L1332.2,414.2 L1333.7,414.0 L1335.2,413.8 L1336.6,413.6 L1338.1,413.6 L1339.6,413.4 L1341.1,413.3 L1342.6,413.0 L1344.1,412.9 L1345.5,413.0 L1347.0,413.2 L1348.5,413.3 L1350.0,413.2 L1351.5,413.1 L1353.0,413.0 L1354.5,412.8 L1356.0,412.7 L1357.5,412.7 L1358.9,412.9 L1360.4,413.3 L1361.9,413.8 L1363.3,414.2 L1364.8,414.6 L1366.3,414.8 L1367.7,414.9 L1369.2,415.0 L1370.7,415.1 L1372.2,415.1 L1373.7,415.1 L1375.2,415.2 L1376.7,415.5 L1378.2,415.8 L1379.6,416.0 L1381.1,416.1 L1382.6,416.2 L1384.1,416.2 L1385.6,416.4 L1387.1,416.5 L1388.6,416.7 L1390.1,416.8 L1391.6,417.3 L1393.0,417.8 L1394.5,418.1 L1396.0,418.2 L1397.5,418.2 L1399.0,418.2 L1400.5,418.3 L1402.0,418.7 L1403.5,419.1 L1404.9,419.5 L1406.4,419.6 L1407.9,419.8 L1409.5,419.8 L1410.9,420.2 L1412.4,420.6 L1413.9,420.9 L1415.4,420.9 L1416.9,421.0 L1418.4,421.3 L1419.8,421.6 L1421.3,421.7 L1422.8,421.9 L1424.3,422.3 L1425.7,422.7 L1427.2,423.1 L1428.7,423.4 L1430.1,423.8 L1431.6,423.9 L1433.1,424.1 L1434.6,424.4 L1436.1,424.8 L1437.5,425.2 L1439.0,425.1 L1440.6,424.8 L1442.1,424.6 L1443.6,424.7 L1445.0,424.8 L1446.5,425.1 L1448.0,425.3 L1449.5,425.4 L1451.0,425.4 L1452.4,425.2 L1453.9,424.9 L1455.4,424.6 L1456.9,424.6 L1458.4,424.8 L1459.9,424.9 L1461.4,424.7 L1462.8,424.5 L1464.3,424.1 L1465.8,423.7 L1467.2,423.4 L1468.7,423.2 L1470.2,423.2 L1471.7,423.1 L1473.2,423.2 L1474.8,423.1 L1476.3,422.8 L1477.7,422.3 L1479.1,421.8 L1480.6,421.5 L1482.1,421.2 L1483.6,421.1 L1485.1,420.9 L1486.6,420.8 L1488.2,420.7 L1489.7,420.6 L1491.2,420.3 L1492.6,419.8 L1494.0,419.0 L1495.5,418.5 L1496.9,418.0 L1498.4,417.7 L1499.9,417.6 L1501.4,417.4 L1502.9,417.3 L1504.4,417.0 L1505.9,416.7 L1507.4,416.5 L1508.9,416.5 L1510.4,416.4 L1511.8,416.0 L1513.3,415.5 L1514.8,415.4 L1516.3,415.6 L1517.8,416.0 L1519.3,416.0 L1520.8,415.9 L1522.2,415.6 L1523.7,415.4 L1525.2,415.3 L1526.7,415.1 L1528.1,415.1 L1529.6,415.1 L1531.1,415.2 L1532.6,415.4 L1534.0,415.8 L1535.5,416.0 L1537.0,416.2 L1538.5,416.3 L1540.0,416.6 L1541.4,416.9 L1542.9,417.1 L1544.4,417.3 L1545.9,417.5 L1547.4,417.9 L1548.8,418.4 L1550.3,418.8 L1551.7,419.2 L1553.3,419.2 L1554.9,419.1 L1556.4,419.2 L1557.8,419.7 L1559.3,420.1 L1560.8,420.3 L1562.3,420.4 L1563.8,420.6 L1565.3,421.1 L1566.7,421.6 L1568.2,421.9 L1569.7,422.2 L1571.2,422.4 L1572.6,422.8 L1574.1,423.1 L1575.6,423.3 L1577.1,423.4 L1578.6,423.5 L1580.1,423.7 L1581.6,423.8 L1583.0,424.2 L1584.5,424.6 L1586.0,424.9 L1587.5,424.9 L1589.0,424.8 L1590.5,424.8 L1592.0,424.9 L1593.4,425.0 L1594.9,425.1 L1596.4,425.2 L1597.9,424.9 L1599.4,424.8 L1600.8,424.7 L1602.3,425.0 L1603.8,425.0 L1605.3,425.0 L1606.8,424.8 L1608.3,424.9 L1609.7,424.9 L1611.2,424.9 L1612.7,424.7 L1614.2,424.5 L1615.7,424.3 L1617.2,424.2 L1618.6,424.1 L1620.1,424.0 L1621.6,423.8 L1623.1,423.7 L1624.6,423.8 L1626.1,423.7 L1627.5,423.5 L1629.0,423.4 L1630.5,423.6 L1632.0,423.8 L1633.5,424.1 L1634.9,424.2 L1636.4,424.1 L1637.9,423.9 L1639.4,423.8 L1640.9,423.9 L1642.4,424.0 L1643.9,424.4 L1645.3,424.5 L1646.8,424.8 L1648.3,425.0 L1649.7,425.4 L1651.2,425.5 L1652.7,425.5 L1654.2,425.5 L1655.7,425.6 L1657.2,425.5 L1658.7,425.6 L1660.2,425.6 L1661.7,426.0 L1663.2,426.1 L1664.7,426.4 L1666.1,426.6 L1667.6,426.9 L1669.1,426.9 L1670.6,427.1 L1672.1,427.1 L1673.6,427.2 L1675.1,427.4 L1676.5,427.9 L1678.0,428.4 L1679.4,428.8 L1680.9,429.1 L1682.4,429.3 L1683.9,429.3 L1685.4,429.4 L1686.9,429.7 L1688.3,430.0 L1689.8,430.2 L1691.3,430.2 L1692.8,430.3 L1694.3,430.4 L1695.8,430.5 L1697.3,430.5 L1698.8,430.5 L1700.2,430.4 L1701.7,430.7 L1703.2,431.1 L1704.6,431.4 L1706.1,431.5 L1707.6,431.4 L1709.1,431.4 L1710.6,431.4 L1712.1,431.5 L1713.6,431.6 L1715.0,431.9 L1716.5,432.1 L1718.0,432.1 L1719.5,431.8 L1721.0,431.6 L1722.5,431.6 L1724.0,431.5 L1725.5,431.6 L1727.0,431.5 L1728.4,431.6 L1729.9,431.8 L1731.4,432.3 L1732.8,432.8 L1734.3,433.0 L1735.8,433.1 L1737.3,433.2 L1738.7,433.5 L1740.2,433.5 L1741.7,433.5 L1743.2,433.2 L1744.7,433.2 L1746.2,433.3 L1747.7,433.6 L1749.2,433.7 L1750.6,433.9 L1752.1,434.2 L1753.6,434.6 L1755.0,434.8 L1756.5,434.7 L1758.1,434.5 L1759.6,434.6 L1761.1,434.9 L1762.5,435.4 L1763.9,435.8 L1765.4,436.0 L1766.9,436.0 L1768.4,436.0 L1769.9,436.1 L1771.5,436.1 L1773.0,436.1 L1774.5,436.2 L1775.9,436.7 L1777.3,437.3 L1778.8,437.8 L1780.3,437.8 L1781.8,438.0 L1783.3,438.1 L1784.7,438.5 L1786.2,438.7 L1787.7,439.1 L1789.1,439.3 L1790.6,439.6 L1792.1,439.6 L1793.6,439.6 L1795.1,439.7 L1796.6,439.8 L1798.0,440.1 L1799.5,440.3 L1801.0,440.4 L1802.5,440.3 L1804.0,440.2 L1805.5,440.0 L1807.0,440.1 L1808.4,440.2 L1809.9,440.2 L1811.4,440.1 L1812.9,440.0 L1814.4,439.9 L1815.9,439.9 L1817.3,439.8 L1818.8,439.8 L1820.3,439.7 L1821.8,439.5 L1823.3,439.1 L1824.7,439.2 L1826.2,439.5 L1827.7,439.8 L1829.2,439.8 L1830.7,439.8 L1832.2,439.6 L1833.6,439.7 L1835.1,439.8 L1836.6,440.2 L1838.1,440.5 L1839.5,440.8 L1841.0,440.9 L1842.5,441.0 L1844.0,441.1 L1845.5,441.4 L1846.9,441.9 L1848.4,442.1 L1849.9,442.3 L1851.4,442.3 L1852.9,442.5 L1854.4,442.8 L1855.9,443.1 L1857.4,443.5 L1858.8,443.9 L1860.3,444.4 L1861.7,444.8 L1863.2,445.1 L1864.7,445.3 L1866.2,445.3 L1867.8,445.4 L1869.2,445.8 L1870.6,446.4 L1872.1,446.9 L1873.6,447.0 L1875.2,446.9 L1876.7,446.8 L1878.2,446.9 L1879.6,447.2 L1881.1,447.5 L1882.6,447.9 L1884.0,448.2 L1885.5,448.7 L1886.9,449.1 L1888.4,449.3 L1889.9,449.0 L1891.4,448.7 L1892.9,448.4 L1894.4,448.5 L1895.9,448.6 L1897.4,448.7 L1898.9,448.5 L1900.3,448.3 L1901.8,447.9 L1903.3,447.7 L1904.8,447.7 L1906.3,447.7 L1907.8,447.5 L1909.3,447.2 L1910.8,446.9 L1912.3,446.7 L1913.8,446.7 L1915.3,446.6 L1916.8,446.3 L1918.2,445.7 L1919.6,444.9 L1921.0,444.2 L1922.5,443.7 L1924.0,443.4 L1925.5,443.4 L1927.1,443.4 L1928.6,443.3 L1930.0,442.8 L1931.5,442.3 L1932.9,441.7 L1934.3,441.2 L1935.8,440.9 L1937.3,440.7 L1938.8,440.7 L1940.3,440.6 L1941.8,440.4 L1943.3,440.1 L1944.8,439.9 L1946.2,439.9 L1947.7,439.9 L1949.2,439.9 L1950.7,439.9 L1952.2,440.2 L1953.7,440.5 L1955.1,440.8 L1956.6,440.7 L1958.1,440.4 L1959.6,440.1 L1961.1,440.2 L1962.6,440.8 L1964.0,441.2 L1965.5,441.2 L1967.1,440.9 L1968.6,440.9 L1970.0,441.1 L1971.5,441.5 L1973.0,441.9 L1974.4,442.2 L1975.9,442.3 L1977.4,442.3 L1979.0,442.3 L1980.4,442.6 L1981.9,442.9 L1983.3,443.3 L1984.8,443.4 L1986.3,443.8 L1987.7,444.2 L1989.2,444.4 L1990.7,444.6 L1992.2,444.6 L1993.6,445.0 L1995.1,445.4 L1996.6,445.7 L1998.1,445.7 L1999.6,445.5 L2001.1,445.3 L2002.6,445.3 L2004.1,445.4 L2005.6,445.4 L2007.0,445.5 L2008.5,445.6 L2010.0,445.6 L2011.5,445.4 L2013.0,445.0 L2014.4,444.9 L2015.9,444.6 L2017.4,444.5 L2018.9,444.2 L2020.3,444.0 L2021.8,443.7 L2023.3,443.7 L2024.8,443.9 L2026.2,444.4 L2027.7,444.7 L2029.2,444.9 L2030.7,444.7 L2032.2,444.6 L2033.7,444.6 L2035.2,445.0 L2036.6,445.5 L2038.1,445.9 L2039.5,446.1 L2041.1,445.9 L2042.6,445.8 L2044.1,445.7 L2045.5,446.1 L2047.0,446.3 L2048.5,446.5 L2050.0,446.5 L2051.4,446.6 L2052.9,446.9 L2054.4,447.3 L2055.9,447.4 L2057.4,447.3 L2058.9,447.1 L2060.4,447.1 L2061.8,447.0 L2063.3,446.9 L2064.8,446.6 L2066.3,446.3 L2067.7,445.7 L2069.2,445.2 L2070.6,444.9 L2072.1,445.1 L2073.7,445.6 L2075.1,445.9 L2076.6,445.8 L2078.1,445.5 L2079.6,445.6 L2081.0,445.6 L2082.5,445.8 L2084.1,445.4 L2085.6,445.5 L2087.1,445.6 L2088.5,446.4 L2089.9,446.8 L2091.3,447.3 L2092.9,447.3 L2094.4,447.5 L2095.8,448.0 L2097.2,448.7 L2098.6,449.4 L2100.1,449.8 L2101.6,450.0 L2103.1,450.1 L2104.6,450.4 L2106.1,450.8 L2107.6,451.1 L2109.1,451.3 L2110.6,451.5 L2112.1,451.7 L2113.6,452.1 L2115.1,452.5 L2116.6,452.8 L2118.1,453.0 L2119.6,453.2 L2121.1,453.3 L2122.6,453.4 L2124.1,453.4 L2125.6,453.7 L2127.1,453.9 L2128.5,454.4 L2130.0,454.7 L2131.5,455.0 L2132.9,455.2 L2134.4,455.4 L2135.9,455.9 L2137.3,456.0 L2138.8,456.1 L2140.3,456.1 L2141.8,456.4 L2143.3,456.5 L2144.7,456.7 L2146.2,456.8 L2147.7,457.1 L2149.2,457.2 L2150.6,457.4 L2152.1,457.5 L2153.6,457.7 L2155.1,457.6 L2156.6,457.5 L2158.0,457.3 L2159.5,457.3 L2161.0,457.4 L2162.5,457.6 L2164.0,457.8 L2165.5,457.9 L2167.0,457.7 L2168.4,457.5 L2169.9,457.2 L2171.4,457.1 L2172.8,456.7 L2174.3,456.3 L2175.8,456.2 L2177.3,456.2 L2178.8,456.1 L2180.2,455.8 L2181.7,455.8 L2183.2,455.8 L2184.7,455.8 L2186.2,455.5 L2187.6,455.4 L2189.1,455.4 L2190.6,455.3 L2192.1,455.1 L2193.6,454.9 L2195.1,455.0 L2196.5,455.1 L2198.0,455.3 L2199.5,455.4 L2201.0,455.7 L2202.4,456.1 L2203.9,456.3 L2205.4,456.5 L2206.9,456.6 L2208.3,456.9 L2209.8,457.1 L2211.3,457.4 L2212.8,457.3 L2214.3,457.4 L2215.9,457.5 L2217.3,457.8 L2218.8,458.2 L2220.3,458.6 L2221.7,459.2 L2223.1,459.7 L2224.6,460.2 L2226.1,460.5 L2227.6,460.7 L2229.2,460.7 L2230.7,460.9 L2232.2,461.2 L2233.6,461.6 L2235.1,462.0 L2236.5,462.6 L2237.9,463.5 L2239.3,464.1 L2240.8,464.3 L2242.4,464.3 L2243.9,464.6 L2245.4,464.9 L2246.9,465.1 L2248.4,465.0 L2249.9,465.1 L2251.4,465.5 L2252.8,466.2 L2254.2,466.8 L2255.7,466.9 L2257.2,466.8 L2258.8,466.8 L2260.2,467.2 L2261.7,467.5 L2263.1,467.7 L2264.6,467.7 L2266.1,467.8 L2267.6,467.7 L2269.1,467.4 L2270.5,467.2 L2272.0,467.3 L2273.5,467.5 L2275.0,467.8 L2276.4,467.9 L2277.9,467.9 L2279.4,467.9 L2280.9,468.0 L2282.4,468.2 L2283.9,468.2 L2285.4,468.0 L2286.9,467.8 L2288.3,467.6 L2289.8,467.3 L2291.3,467.0 L2292.7,466.5 L2294.2,466.1 L2295.7,466.1 L2297.2,466.1 L2298.7,466.0 L2300.1,465.7 L2301.6,465.5 L2303.1,465.2 L2304.5,465.0 L2306.0,464.6 L2307.5,464.3 L2308.9,464.1 L2310.5,464.3 L2312.0,464.6 L2313.5,464.8 L2315.0,464.6 L2316.4,464.4 L2317.9,464.3 L2319.4,464.5 L2320.9,464.4 L2322.3,464.0 L2323.8,463.5 L2325.3,463.2 L2326.0,463.3" fill="none" stroke="#0000ff" stroke-width="8.4" stroke-linejoin="round" stroke-linecap="round"/>
<path d="M244.5,1606.0 L244.9,1604.5 L245.3,1603.1 L245.6,1601.6 L246.0,1600.2 L246.4,1598.7 L246.8,1597.3 L247.2,1595.8 L247.6,1594.3 L248.0,1592.9 L248.3,1591.4 L248.7,1590.0 L249.1,1588.5 L249.5,1587.1 L249.9,1585.6 L250.3,1584.2 L250.7,1582.7 L251.0,1581.2 L251.4,1579.8 L251.8,1578.3 L252.2,1576.9 L252.6,1575.4 L253.0,1574.0 L253.4,1572.5 L253.8,1571.1 L254.1,1569.6 L254.5,1568.1 L254.9,1566.7 L255.3,1565.2 L255.6,1563.8 L256.0,1562.3 L256.4,1560.9 L256.9,1559.4 L257.3,1558.0 L257.7,1556.5 L258.1,1555.1 L258.5,1553.6 L258.8,1552.2 L259.2,1550.7 L259.6,1549.2 L260.0,1547.8 L260.4,1546.4 L260.8,1544.9 L261.1,1543.4 L261.5,1542.0 L261.9,1540.5 L262.4,1539.1 L262.8,1537.6 L263.2,1536.2 L263.6,1534.7 L263.9,1533.3 L264.3,1531.8 L264.7,1530.4 L265.1,1528.9 L265.5,1527.5 L265.9,1526.0 L266.3,1524.6 L266.7,1523.1 L267.1,1521.7 L267.6,1520.2 L268.0,1518.8 L268.4,1517.4 L268.8,1515.9 L269.2,1514.4 L269.5,1513.0 L269.9,1511.5 L270.3,1510.1 L270.7,1508.6 L271.1,1507.2 L271.5,1505.7 L271.9,1504.3 L272.3,1502.8 L272.7,1501.4 L273.2,1500.0 L273.6,1498.5 L274.0,1497.1 L274.2,1495.6 L274.5,1494.1 L274.8,1492.6 L275.2,1491.2 L275.7,1489.7 L276.3,1488.4 L276.8,1486.9 L277.3,1485.5 L277.6,1484.0 L278.0,1482.6 L278.3,1481.1 L278.6,1479.6 L278.9,1478.2 L279.2,1476.7 L279.7,1475.3 L280.1,1473.8 L280.7,1472.4 L281.1,1471.0 L281.7,1469.6 L282.1,1468.1 L282.5,1466.7 L282.9,1465.3 L283.3,1463.8 L283.7,1462.3 L284.1,1460.9 L284.5,1459.5 L285.0,1458.0 L285.4,1456.6 L285.8,1455.2 L286.2,1453.7 L286.5,1452.2 L286.9,1450.8 L287.3,1449.3 L287.8,1447.9 L288.2,1446.5 L288.6,1445.0 L289.0,1443.6 L289.4,1442.1 L289.8,1440.7 L290.3,1439.3 L290.6,1437.8 L290.9,1436.3 L291.4,1434.9 L291.8,1433.4 L292.3,1432.0 L292.8,1430.6 L293.4,1429.2 L293.9,1427.8 L294.3,1426.4 L294.6,1424.9 L295.0,1423.5 L295.4,1422.0 L295.8,1420.6 L296.2,1419.1 L296.6,1417.7 L297.0,1416.2 L297.4,1414.8 L297.8,1413.3 L298.1,1411.9 L298.3,1410.4 L298.6,1408.9 L299.0,1407.4 L299.6,1406.0 L300.2,1404.7 L300.7,1403.2 L301.2,1401.8 L301.6,1400.4 L302.0,1398.9 L302.3,1397.5 L302.7,1396.0 L303.1,1394.6 L303.5,1393.1 L304.0,1391.7 L304.5,1390.3 L305.0,1388.9 L305.3,1387.4 L305.7,1386.0 L306.1,1384.5 L306.6,1383.1 L307.0,1381.7 L307.4,1380.2 L307.8,1378.8 L308.2,1377.3 L308.6,1375.9 L309.1,1374.5 L309.5,1373.0 L310.1,1371.6 L310.6,1370.2 L311.0,1368.8 L311.2,1367.3 L311.5,1365.8 L312.0,1364.4 L312.6,1363.0 L313.1,1361.6 L313.4,1360.1 L313.9,1358.7 L314.5,1357.3 L315.0,1355.9 L315.4,1354.5 L315.9,1353.0 L316.3,1351.6 L316.6,1350.1 L317.0,1348.7 L317.4,1347.2 L317.8,1345.8 L318.3,1344.4 L318.7,1342.9 L319.0,1341.5 L319.4,1340.0 L320.0,1338.6 L320.5,1337.2 L321.0,1335.8 L321.3,1334.3 L321.7,1332.9 L322.1,1331.4 L322.6,1330.0 L323.0,1328.6 L323.4,1327.1 L323.8,1325.7 L324.4,1324.3 L325.0,1322.9 L325.5,1321.5 L325.9,1320.1 L326.2,1318.6 L326.6,1317.2 L327.1,1315.8 L327.6,1314.4 L327.9,1312.9 L328.3,1311.4 L328.6,1310.0 L329.1,1308.6 L329.5,1307.1 L330.0,1305.7 L330.5,1304.3 L331.0,1302.9 L331.6,1301.5 L332.1,1300.1 L332.6,1298.7 L333.0,1297.2 L333.5,1295.8 L333.9,1294.4 L334.4,1292.9 L334.9,1291.5 L335.4,1290.1 L336.0,1288.7 L336.4,1287.3 L336.7,1285.8 L337.0,1284.3 L337.3,1282.9 L337.7,1281.4 L338.2,1280.0 L338.8,1278.6 L339.3,1277.2 L339.7,1275.8 L340.1,1274.3 L340.5,1272.9 L341.0,1271.5 L341.6,1270.1 L342.1,1268.7 L342.6,1267.3 L343.0,1265.9 L343.3,1264.4 L343.7,1262.9 L344.1,1261.5 L344.8,1260.1 L345.3,1258.7 L345.9,1257.4 L346.3,1255.9 L346.8,1254.5 L347.2,1253.1 L347.7,1251.6 L348.1,1250.2 L348.5,1248.8 L349.0,1247.4 L349.6,1246.0 L350.2,1244.6 L350.7,1243.2 L351.0,1241.7 L351.5,1240.3 L351.8,1238.8 L352.4,1237.4 L352.9,1236.0 L353.4,1234.6 L353.8,1233.2 L354.2,1231.8 L354.7,1230.3 L355.1,1228.9 L355.5,1227.5 L356.0,1226.0 L356.6,1224.7 L357.2,1223.3 L357.6,1221.9 L358.0,1220.4 L358.3,1218.9 L358.7,1217.5 L359.2,1216.1 L359.8,1214.7 L360.3,1213.3 L360.8,1211.9 L361.4,1210.5 L361.9,1209.1 L362.3,1207.6 L362.7,1206.2 L363.2,1204.8 L363.8,1203.4 L364.3,1202.0 L364.8,1200.6 L365.2,1199.2 L365.7,1197.7 L366.1,1196.3 L366.5,1194.9 L366.9,1193.4 L367.4,1192.0 L368.0,1190.6 L368.7,1189.3 L369.3,1187.9 L370.0,1186.6 L370.4,1185.1 L370.8,1183.7 L371.1,1182.2 L371.4,1180.7 L371.8,1179.3 L372.3,1177.9 L372.9,1176.5 L373.3,1175.1 L373.8,1173.7 L374.4,1172.3 L375.0,1170.9 L375.6,1169.5 L376.0,1168.1 L376.4,1166.6 L376.8,1165.2 L377.3,1163.8 L377.8,1162.4 L378.3,1161.0 L378.8,1159.5 L379.3,1158.1 L379.7,1156.7 L380.2,1155.3 L380.7,1153.9 L381.2,1152.5 L381.7,1151.1 L382.3,1149.7 L382.8,1148.3 L383.4,1146.9 L383.9,1145.5 L384.4,1144.1 L384.9,1142.7 L385.4,1141.3 L385.9,1139.9 L386.4,1138.5 L386.9,1137.0 L387.4,1135.6 L388.0,1134.2 L388.5,1132.8 L389.0,1131.4 L389.5,1130.0 L389.9,1128.6 L390.3,1127.2 L390.9,1125.8 L391.5,1124.4 L392.0,1123.0 L392.6,1121.6 L393.0,1120.2 L393.6,1118.8 L394.2,1117.4 L394.8,1116.0 L395.3,1114.6 L395.9,1113.2 L396.3,1111.8 L396.8,1110.4 L397.4,1109.0 L397.9,1107.6 L398.4,1106.2 L398.8,1104.8 L399.3,1103.3 L399.8,1101.9 L400.4,1100.6 L400.9,1099.2 L401.3,1097.7 L401.8,1096.3 L402.2,1094.9 L402.9,1093.5 L403.4,1092.1 L404.0,1090.7 L404.5,1089.3 L404.9,1087.9 L405.4,1086.5 L406.0,1085.1 L406.6,1083.7 L407.2,1082.4 L407.8,1081.0 L408.2,1079.5 L408.6,1078.1 L409.0,1076.6 L409.6,1075.3 L410.2,1073.9 L410.7,1072.5 L411.3,1071.1 L411.8,1069.7 L412.3,1068.3 L412.8,1066.9 L413.3,1065.4 L413.8,1064.0 L414.4,1062.7 L415.1,1061.3 L415.6,1059.9 L416.2,1058.5 L416.7,1057.1 L417.1,1055.7 L417.6,1054.3 L418.0,1052.8 L418.5,1051.4 L419.1,1050.0 L419.9,1048.8 L420.6,1047.4 L421.2,1046.0 L421.6,1044.6 L422.1,1043.2 L422.7,1041.8 L423.3,1040.4 L423.9,1039.0 L424.3,1037.6 L424.7,1036.2 L425.2,1034.7 L425.9,1033.4 L426.7,1032.1 L427.4,1030.8 L427.9,1029.4 L428.3,1027.9 L428.8,1026.5 L429.3,1025.1 L429.9,1023.7 L430.6,1022.4 L431.2,1021.0 L431.8,1019.6 L432.2,1018.2 L432.7,1016.8 L433.2,1015.4 L433.9,1014.0 L434.4,1012.6 L435.0,1011.2 L435.6,1009.9 L436.2,1008.5 L436.7,1007.1 L437.2,1005.6 L437.6,1004.2 L438.2,1002.8 L438.8,1001.4 L439.4,1000.1 L440.0,998.7 L440.7,997.4 L441.3,996.0 L441.9,994.6 L442.5,993.2 L443.1,991.9 L443.7,990.5 L444.3,989.1 L444.8,987.7 L445.2,986.3 L445.7,984.8 L446.3,983.5 L446.9,982.1 L447.5,980.7 L448.0,979.3 L448.5,977.9 L449.1,976.5 L449.7,975.1 L450.3,973.8 L450.9,972.4 L451.5,971.0 L452.1,969.6 L452.6,968.2 L453.2,966.8 L453.8,965.5 L454.3,964.1 L454.9,962.7 L455.4,961.3 L456.1,959.9 L456.7,958.6 L457.4,957.2 L458.0,955.9 L458.7,954.5 L459.3,953.2 L460.0,951.8 L460.6,950.4 L461.2,949.1 L461.9,947.7 L462.5,946.4 L463.1,945.0 L463.6,943.6 L464.1,942.2 L464.7,940.8 L465.3,939.4 L465.9,938.1 L466.6,936.7 L467.3,935.4 L468.0,934.0 L468.6,932.7 L469.2,931.3 L469.8,929.9 L470.4,928.5 L471.0,927.2 L471.5,925.8 L471.9,924.3 L472.5,922.9 L473.2,921.6 L474.0,920.3 L474.7,919.0 L475.3,917.6 L475.8,916.2 L476.4,914.8 L477.0,913.4 L477.6,912.1 L478.2,910.7 L478.9,909.3 L479.4,907.9 L480.0,906.6 L480.6,905.2 L481.3,903.9 L482.0,902.6 L482.7,901.2 L483.3,899.8 L483.9,898.4 L484.4,897.1 L485.1,895.7 L485.8,894.4 L486.5,893.1 L487.3,891.8 L488.0,890.4 L488.6,889.1 L489.2,887.7 L489.8,886.3 L490.4,885.0 L491.0,883.6 L491.6,882.2 L492.2,880.8 L492.9,879.5 L493.6,878.2 L494.4,876.9 L495.2,875.6 L495.9,874.3 L496.5,872.9 L497.0,871.5 L497.6,870.1 L498.2,868.7 L498.8,867.4 L499.4,866.0 L500.1,864.7 L500.8,863.3 L501.5,862.0 L502.1,860.6 L502.8,859.3 L503.4,857.9 L504.0,856.5 L504.6,855.2 L505.3,853.9 L506.1,852.6 L506.9,851.3 L507.5,849.9 L508.1,848.6 L508.7,847.2 L509.4,845.9 L510.0,844.5 L510.7,843.1 L511.3,841.8 L512.1,840.5 L512.8,839.2 L513.6,837.9 L514.2,836.5 L514.9,835.2 L515.6,833.9 L516.4,832.6 L517.1,831.2 L517.7,829.9 L518.4,828.6 L519.1,827.2 L519.8,825.9 L520.5,824.6 L521.2,823.2 L521.9,821.9 L522.6,820.6 L523.3,819.3 L523.9,817.9 L524.6,816.6 L525.4,815.3 L526.3,814.1 L527.1,812.8 L527.6,811.4 L528.2,810.0 L529.0,808.7 L529.8,807.4 L530.5,806.1 L531.2,804.8 L531.8,803.4 L532.6,802.1 L533.4,800.8 L534.2,799.6 L534.9,798.3 L535.7,797.0 L536.3,795.6 L537.0,794.3 L537.6,792.9 L538.5,791.7 L539.2,790.3 L539.8,789.0 L540.4,787.6 L541.2,786.3 L542.1,785.1 L543.1,783.9 L543.8,782.6 L544.6,781.3 L545.2,780.0 L545.9,778.6 L546.4,777.2 L547.1,775.9 L547.8,774.5 L548.6,773.3 L549.4,772.0 L550.2,770.7 L550.9,769.4 L551.8,768.2 L552.6,766.9 L553.5,765.7 L554.3,764.4 L555.2,763.2 L555.8,761.9 L556.5,760.5 L557.2,759.2 L557.9,757.8 L558.6,756.5 L559.4,755.2 L560.2,754.0 L561.0,752.7 L561.7,751.4 L562.5,750.1 L563.3,748.8 L564.0,747.5 L564.8,746.2 L565.5,744.9 L566.3,743.6 L567.1,742.3 L567.9,741.0 L568.8,739.9 L569.7,738.6 L570.5,737.4 L571.3,736.1 L572.0,734.8 L572.9,733.5 L573.6,732.2 L574.5,731.0 L575.3,729.7 L576.1,728.5 L576.8,727.1 L577.4,725.8 L578.2,724.4 L578.9,723.1 L579.9,722.0 L580.8,720.8 L581.7,719.6 L582.4,718.3 L583.2,716.9 L583.9,715.6 L584.7,714.4 L585.6,713.1 L586.4,711.9 L587.2,710.6 L588.0,709.3 L588.8,708.0 L589.7,706.8 L590.5,705.6 L591.4,704.3 L592.2,703.1 L593.2,701.9 L594.1,700.7 L594.9,699.5 L595.7,698.1 L596.4,696.8 L597.3,695.6 L598.3,694.4 L599.3,693.3 L600.1,692.1 L600.9,690.8 L601.7,689.5 L602.5,688.2 L603.4,687.0 L604.2,685.7 L605.1,684.5 L606.0,683.3 L606.9,682.1 L607.8,680.8 L608.5,679.5 L609.2,678.2 L610.0,676.8 L610.9,675.6 L611.8,674.5 L612.8,673.3 L613.7,672.1 L614.5,670.8 L615.4,669.6 L616.2,668.3 L617.2,667.1 L618.1,665.9 L619.0,664.7 L620.0,663.6 L621.0,662.5 L622.0,661.3 L622.9,660.1 L623.7,658.8 L624.5,657.5 L625.3,656.3 L626.2,655.1 L627.1,653.8 L628.0,652.6 L628.9,651.4 L629.8,650.2 L630.8,649.1 L631.7,647.9 L632.7,646.7 L633.5,645.4 L634.4,644.2 L635.3,643.0 L636.2,641.7 L637.0,640.5 L637.9,639.2 L638.7,638.0 L639.7,636.8 L640.7,635.7 L641.8,634.6 L642.8,633.5 L643.9,632.4 L644.9,631.3 L645.8,630.1 L646.7,628.9 L647.6,627.6 L648.4,626.4 L649.3,625.1 L650.3,624.0 L651.3,622.8 L652.2,621.6 L653.1,620.4 L654.0,619.2 L655.1,618.1 L656.1,617.0 L657.0,615.7 L657.8,614.4 L658.7,613.2 L659.6,612.1 L660.7,611.0 L661.7,609.9 L662.7,608.7 L663.7,607.6 L664.7,606.5 L665.8,605.4 L666.7,604.2 L667.7,603.0 L668.6,601.8 L669.6,600.7 L670.6,599.6 L671.6,598.4 L672.5,597.2 L673.4,596.0 L674.4,594.9 L675.4,593.7 L676.4,592.6 L677.5,591.6 L678.5,590.5 L679.6,589.4 L680.6,588.3 L681.6,587.1 L682.4,585.8 L683.4,584.7 L684.4,583.5 L685.3,582.3 L686.3,581.2 L687.4,580.2 L688.5,579.2 L689.7,578.1 L690.6,577.0 L691.6,575.8 L692.6,574.7 L693.6,573.6 L694.7,572.5 L695.7,571.4 L696.7,570.3 L697.8,569.2 L698.9,568.2 L699.9,567.1 L700.9,565.9 L701.8,564.7 L702.8,563.6 L703.9,562.5 L704.9,561.5 L706.0,560.4 L707.1,559.4 L708.2,558.3 L709.3,557.3 L710.4,556.2 L711.4,555.2 L712.5,554.1 L713.5,553.0 L714.5,551.9 L715.6,550.9 L716.7,549.9 L717.8,548.8 L718.9,547.7 L720.0,546.7 L721.1,545.7 L722.1,544.6 L723.0,543.3 L723.9,542.2 L725.0,541.1 L726.2,540.1 L727.3,539.2 L728.4,538.1 L729.4,537.0 L730.4,535.9 L731.5,534.9 L732.6,533.9 L733.8,533.0 L734.9,531.9 L736.1,530.9 L737.2,529.9 L738.2,528.9 L739.3,527.9 L740.4,526.8 L741.4,525.7 L742.5,524.7 L743.7,523.7 L744.8,522.8 L745.9,521.7 L747.0,520.7 L748.1,519.7 L749.2,518.7 L750.4,517.7 L751.5,516.8 L752.7,515.8 L753.8,514.9 L755.0,513.9 L756.2,513.0 L757.2,511.9 L758.2,510.8 L759.3,509.7 L760.4,508.8 L761.6,507.9 L762.9,507.1 L764.1,506.2 L765.3,505.3 L766.3,504.2 L767.4,503.2 L768.5,502.2 L769.7,501.3 L770.9,500.4 L772.0,499.4 L773.1,498.4 L774.3,497.4 L775.5,496.5 L776.6,495.6 L777.7,494.6 L778.8,493.6 L780.0,492.6 L781.2,491.7 L782.4,490.8 L783.5,489.9 L784.7,489.0 L785.9,488.1 L787.2,487.3 L788.5,486.6 L789.7,485.8 L790.8,484.7 L791.9,483.7 L793.0,482.7 L794.2,481.8 L795.4,480.9 L796.6,480.0 L797.7,479.1 L798.9,478.2 L800.1,477.3 L801.3,476.5 L802.6,475.6 L803.8,474.7 L804.9,473.8 L806.0,472.8 L807.2,471.9 L808.4,471.0 L809.6,470.2 L810.9,469.4 L812.1,468.6 L813.4,467.8 L814.6,466.9 L815.8,466.0 L816.9,465.1 L818.1,464.2 L819.4,463.4 L820.6,462.6 L821.8,461.8 L823.0,460.8 L824.2,460.0 L825.4,459.1 L826.7,458.4 L828.0,457.7 L829.3,456.9 L830.5,456.1 L831.7,455.2 L832.9,454.3 L834.1,453.5 L835.4,452.7 L836.6,451.9 L837.9,451.2 L839.2,450.4 L840.5,449.7 L841.7,448.9 L842.9,448.0 L844.1,447.1 L845.3,446.3 L846.6,445.4 L847.8,444.7 L849.1,443.9 L850.4,443.2 L851.7,442.5 L853.0,441.7 L854.2,440.9 L855.5,440.2 L856.9,439.5 L858.2,438.8 L859.5,438.2 L860.9,437.4 L862.1,436.7 L863.3,435.7 L864.5,434.8 L865.7,433.9 L867.0,433.1 L868.3,432.4 L869.7,431.7 L871.0,431.0 L872.3,430.2 L873.7,429.5 L875.0,428.7 L876.3,427.9 L877.6,427.1 L878.8,426.2 L880.1,425.3 L881.3,424.4 L882.7,423.6 L884.0,422.9 L885.4,422.2 L886.7,421.3 L888.0,420.4 L889.3,419.6 L890.6,418.7 L891.9,417.9 L893.1,417.0 L894.4,416.2 L895.8,415.5 L897.2,414.8 L898.6,414.1 L899.8,413.3 L901.2,412.6 L902.5,411.8 L903.8,411.2 L905.2,410.6 L906.6,409.9 L907.9,409.2 L909.2,408.6 L910.6,407.9 L911.9,407.3 L913.2,406.6 L914.5,405.9 L915.8,405.2 L917.1,404.5 L918.5,403.9 L919.8,403.3 L921.2,402.8 L922.6,402.2 L923.9,401.7 L925.3,401.2 L926.7,400.7 L928.1,400.2 L929.4,399.6 L930.7,399.0 L932.1,398.4 L933.4,397.8 L934.8,397.4 L936.2,397.1 L937.7,396.6 L939.0,396.1 L940.3,395.3 L941.6,394.6 L942.9,394.0 L944.3,393.5 L945.7,393.1 L947.1,392.7 L948.5,392.2 L949.9,391.8 L951.3,391.4 L952.7,390.9 L954.1,390.3 L955.4,389.7 L956.7,389.0 L958.1,388.5 L959.5,388.0 L960.9,387.6 L962.3,387.2 L963.8,386.8 L965.2,386.4 L966.6,385.9 L967.9,385.2 L969.3,384.6 L970.7,384.1 L972.1,383.8 L973.5,383.3 L974.9,382.7 L976.2,382.0 L977.6,381.3 L979.0,380.8 L980.4,380.2 L981.8,379.8 L983.2,379.3 L984.7,378.9 L986.1,378.4 L987.5,377.9 L988.8,377.2 L990.2,376.7 L991.6,376.1 L993.1,375.7 L994.4,375.1 L995.8,374.5 L997.2,374.0 L998.7,373.5 L1000.2,373.1 L1001.6,372.7 L1003.1,372.3 L1004.5,371.8 L1005.9,371.3 L1007.4,370.9 L1008.8,370.4 L1010.2,369.7 L1011.5,369.1 L1012.9,368.5 L1014.3,367.9 L1015.8,367.5 L1017.2,367.1 L1018.7,366.7 L1020.1,366.2 L1021.5,365.7 L1022.9,365.1 L1024.3,364.4 L1025.7,363.8 L1027.1,363.2 L1028.6,362.9 L1030.1,362.6 L1031.6,362.3 L1033.0,361.7 L1034.4,361.2 L1035.8,360.6 L1037.2,360.2 L1038.7,359.7 L1040.1,359.2 L1041.5,358.6 L1042.9,358.1 L1044.4,357.7 L1045.9,357.4 L1047.4,357.1 L1048.8,356.7 L1050.3,356.4 L1051.8,356.0 L1053.2,355.7 L1054.7,355.3 L1056.1,354.8 L1057.5,354.2 L1058.9,353.6 L1060.4,353.1 L1061.8,352.8 L1063.3,352.5 L1064.8,352.3 L1066.3,352.0 L1067.7,351.6 L1069.2,351.1 L1070.6,350.6 L1072.1,350.2 L1073.5,350.0 L1075.0,349.7 L1076.5,349.3 L1077.9,348.8 L1079.4,348.5 L1080.8,348.1 L1082.3,347.9 L1083.7,347.5 L1085.2,347.3 L1086.7,346.9 L1088.1,346.6 L1089.6,346.3 L1091.1,346.1 L1092.6,345.8 L1094.0,345.6 L1095.5,345.3 L1096.9,344.9 L1098.4,344.5 L1099.8,344.1 L1101.3,343.9 L1102.8,343.7 L1104.3,343.6 L1105.7,343.4 L1107.2,343.2 L1108.7,343.0 L1110.2,342.8 L1111.6,342.6 L1113.1,342.3 L1114.6,342.0 L1116.0,341.8 L1117.5,341.6 L1119.0,341.4 L1120.4,341.1 L1121.9,340.8 L1123.4,340.7 L1124.9,340.6 L1126.4,340.5 L1127.8,340.2 L1129.3,340.0 L1130.8,339.9 L1132.3,339.9 L1133.7,339.8 L1135.2,339.6 L1136.7,339.3 L1138.2,339.1 L1139.6,338.9 L1141.1,338.5 L1142.6,338.4 L1144.1,338.4 L1145.6,338.6 L1147.1,338.7 L1148.6,338.6 L1150.0,338.5 L1151.5,338.3 L1153.0,338.2 L1154.5,338.0 L1156.0,337.9 L1157.4,337.8 L1158.9,337.7 L1160.4,337.6 L1161.9,337.5 L1163.4,337.5 L1164.9,337.5 L1166.4,337.4 L1167.8,337.1 L1169.3,337.0 L1170.8,336.8 L1172.3,336.8 L1173.8,336.7 L1175.3,336.6 L1176.8,336.6 L1178.2,336.5 L1179.7,336.4 L1181.2,336.2 L1182.7,336.1 L1184.2,335.9 L1185.7,335.7 L1187.1,335.5 L1188.6,335.5 L1190.1,335.5 L1191.6,335.6 L1193.1,335.6 L1194.6,335.6 L1196.1,335.4 L1197.6,335.1 L1199.1,334.8 L1200.5,334.5 L1202.0,334.4 L1203.5,334.1 L1205.0,333.9 L1206.5,333.7 L1208.0,333.5 L1209.5,333.6 L1211.0,333.5 L1212.4,333.4 L1213.9,333.2 L1215.4,333.0 L1216.9,332.9 L1218.4,332.8 L1219.9,332.7 L1221.4,332.5 L1222.9,332.2 L1224.3,331.9 L1225.8,331.8 L1227.3,331.6 L1228.8,331.5 L1230.3,331.4 L1231.8,331.4 L1233.3,331.4 L1234.8,331.3 L1236.3,331.1 L1237.8,330.8 L1239.3,330.7 L1240.8,330.6 L1242.2,330.4 L1243.7,330.1 L1245.2,329.9 L1246.7,329.9 L1248.2,329.7 L1249.7,329.7 L1251.2,329.5 L1252.7,329.4 L1254.2,329.1 L1255.7,328.8 L1257.1,328.7 L1258.6,328.7 L1260.1,328.6 L1261.6,328.3 L1263.1,328.1 L1264.6,327.8 L1266.1,327.7 L1267.6,327.6 L1269.1,327.6 L1270.6,327.5 L1272.1,327.3 L1273.5,327.1 L1275.0,327.0 L1276.5,326.9 L1278.0,326.9 L1279.5,326.7 L1281.0,326.6 L1282.5,326.3 L1284.0,326.1 L1285.5,326.0 L1287.0,326.0 L1288.5,326.2 L1290.0,326.2 L1291.5,326.1 L1292.9,325.9 L1294.4,325.7 L1295.9,325.8 L1297.4,325.8 L1298.9,326.0 L1300.4,326.0 L1301.9,325.9 L1303.4,325.7 L1304.9,325.5 L1306.4,325.3 L1307.9,325.2 L1309.4,325.3 L1310.9,325.4 L1312.4,325.5 L1313.9,325.5 L1315.3,325.4 L1316.8,325.2 L1318.3,325.1 L1319.8,325.1 L1321.3,325.1 L1322.8,325.1 L1324.3,325.1 L1325.8,325.1 L1327.3,325.0 L1328.8,325.1 L1330.3,325.1 L1331.8,325.2 L1333.3,325.2 L1334.8,325.2 L1336.3,325.1 L1337.7,325.0 L1339.2,325.1 L1340.7,325.2 L1342.2,325.3 L1343.7,325.3 L1345.2,325.3 L1346.7,325.3 L1348.2,325.2 L1349.7,325.1 L1351.2,325.0 L1352.7,325.0 L1354.2,325.0 L1355.7,324.9 L1357.2,325.0 L1358.7,325.0 L1360.2,325.0 L1361.7,325.0 L1363.2,325.1 L1364.7,325.1 L1366.2,324.9 L1367.6,324.6 L1369.1,324.4 L1370.6,324.3 L1372.1,324.4 L1373.6,324.4 L1375.1,324.6 L1376.6,324.6 L1378.1,324.6 L1379.6,324.3 L1381.1,324.1 L1382.6,324.0 L1384.1,324.0 L1385.6,323.9 L1387.1,323.8 L1388.6,323.7 L1390.1,323.6 L1391.6,323.7 L1393.1,323.7 L1394.6,323.5 L1396.1,323.2 L1397.6,323.0 L1399.1,323.0 L1400.6,323.0 L1402.1,322.8 L1403.5,322.5 L1405.0,322.4 L1406.6,322.5 L1408.1,322.5 L1409.6,322.4 L1411.0,322.1 L1412.5,321.9 L1414.0,321.6 L1415.5,321.3 L1417.0,321.2 L1418.5,321.2 L1420.0,321.1 L1421.5,320.9 L1423.0,320.7 L1424.5,320.5 L1426.0,320.3 L1427.5,320.2 L1429.0,320.1 L1430.5,319.9 L1432.0,319.8 L1433.5,319.6 L1435.0,319.4 L1436.5,319.2 L1438.0,319.1 L1439.5,319.0 L1441.0,318.9 L1442.5,318.8 L1444.0,318.6 L1445.5,318.5 L1447.0,318.5 L1448.5,318.4 L1450.0,318.2 L1451.5,318.0 L1452.9,317.8 L1454.4,317.6 L1455.9,317.5 L1457.4,317.4 L1458.9,317.5 L1460.4,317.4 L1461.9,317.3 L1463.4,317.2 L1464.9,317.0 L1466.4,316.9 L1467.9,316.7 L1469.4,316.6 L1470.9,316.6 L1472.4,316.5 L1473.9,316.4 L1475.4,316.4 L1476.9,316.3 L1478.4,316.2 L1479.9,316.1 L1481.4,316.0 L1482.9,315.9 L1484.4,315.8 L1485.9,315.8 L1487.4,315.7 L1488.9,315.8 L1490.4,315.8 L1491.9,315.8 L1493.4,315.8 L1494.9,315.7 L1496.4,315.7 L1497.9,315.7 L1499.4,315.7 L1500.9,315.7 L1502.4,315.8 L1503.9,315.7 L1505.4,315.7 L1506.9,315.6 L1508.4,315.7 L1509.9,315.8 L1511.4,316.0 L1512.9,316.2 L1514.4,316.2 L1515.9,316.3 L1517.4,316.4 L1518.9,316.5 L1520.4,316.6 L1521.9,316.8 L1523.4,317.0 L1524.9,317.3 L1526.4,317.4 L1527.9,317.5 L1529.4,317.6 L1530.9,317.7 L1532.4,317.9 L1533.9,318.1 L1535.4,318.2 L1536.9,318.4 L1538.4,318.5 L1539.9,318.9 L1541.4,319.2 L1542.9,319.5 L1544.4,319.6 L1545.9,319.8 L1547.4,319.9 L1548.9,320.1 L1550.4,320.4 L1551.9,320.6 L1553.4,320.9 L1554.9,321.1 L1556.4,321.3 L1557.9,321.5 L1559.4,321.6 L1560.9,321.6 L1562.4,321.7 L1563.9,321.8 L1565.4,321.9 L1566.9,321.9 L1568.4,322.0 L1569.9,322.2 L1571.4,322.3 L1572.9,322.3 L1574.4,322.1 L1575.9,322.1 L1577.4,322.0 L1578.9,322.0 L1580.4,321.9 L1581.9,321.9 L1583.4,321.8 L1584.9,321.6 L1586.3,321.3 L1587.8,321.2 L1589.3,321.0 L1590.9,321.0 L1592.4,320.9 L1593.9,320.8 L1595.4,320.6 L1596.9,320.4 L1598.4,320.3 L1599.9,320.1 L1601.4,319.9 L1602.9,319.7 L1604.4,319.5 L1605.9,319.4 L1607.4,319.2 L1608.9,318.9 L1610.4,318.7 L1611.9,318.6 L1613.4,318.4 L1614.9,318.2 L1616.3,318.0 L1617.9,317.9 L1619.4,317.8 L1620.9,317.7 L1622.4,317.6 L1623.9,317.6 L1625.4,317.6 L1626.9,317.5 L1628.4,317.3 L1629.9,317.1 L1631.4,317.0 L1632.9,317.0 L1634.4,317.1 L1635.9,317.2 L1637.4,317.4 L1638.8,317.5 L1640.3,317.6 L1641.8,317.5 L1643.3,317.5 L1644.8,317.6 L1646.4,317.6 L1647.9,317.5 L1649.4,317.5 L1650.9,317.5 L1652.4,317.7 L1653.9,317.9 L1655.4,318.2 L1656.9,318.3 L1658.4,318.5 L1659.9,318.6 L1661.3,318.9 L1662.8,319.0 L1664.4,319.1 L1665.9,319.1 L1667.4,319.3 L1668.9,319.5 L1670.3,319.8 L1671.8,319.9 L1673.4,320.1 L1674.9,320.2 L1676.4,320.3 L1677.9,320.4 L1679.4,320.5 L1680.9,320.6 L1682.4,320.8 L1683.9,320.9 L1685.4,321.2 L1686.9,321.4 L1688.4,321.6 L1689.9,321.6 L1691.4,321.6 L1692.9,321.6 L1694.4,321.8 L1695.9,322.1 L1697.4,322.4 L1698.9,322.6 L1700.4,322.7 L1701.9,322.8 L1703.4,322.9 L1704.9,323.2 L1706.3,323.4 L1707.8,323.6 L1709.3,323.6 L1710.9,323.7 L1712.4,323.7 L1713.9,323.8 L1715.4,323.9 L1716.9,324.0 L1718.4,324.0 L1719.9,324.0 L1721.4,324.1 L1722.9,324.2 L1724.4,324.3 L1725.9,324.5 L1727.4,324.7 L1728.9,324.8 L1730.4,324.7 L1731.9,324.6 L1733.4,324.6 L1734.9,324.7 L1736.4,324.7 L1737.9,324.7 L1739.4,324.7 L1740.9,324.7 L1742.4,324.7 L1743.9,324.8 L1745.4,324.8 L1746.9,324.9 L1748.4,324.9 L1749.9,324.8 L1751.4,324.7 L1752.9,324.5 L1754.4,324.5 L1755.9,324.4 L1757.4,324.4 L1758.9,324.4 L1760.4,324.3 L1761.9,324.4 L1763.4,324.5 L1764.9,324.5 L1766.4,324.3 L1767.9,324.2 L1769.4,324.0 L1770.9,324.0 L1772.4,323.9 L1773.9,323.7 L1775.4,323.4 L1776.9,323.2 L1778.4,323.0 L1779.9,323.0 L1781.4,322.9 L1782.9,322.7 L1784.4,322.5 L1785.8,322.3 L1787.3,322.2 L1788.9,322.1 L1790.4,322.1 L1791.9,322.0 L1793.4,321.8 L1794.9,321.7 L1796.4,321.6 L1797.9,321.6 L1799.4,321.5 L1800.9,321.3 L1802.4,321.2 L1803.9,321.2 L1805.4,321.1 L1806.9,321.0 L1808.4,320.8 L1809.9,320.7 L1811.4,320.6 L1812.9,320.6 L1814.4,320.5 L1815.9,320.5 L1817.4,320.4 L1818.9,320.4 L1820.4,320.3 L1821.9,320.1 L1823.4,320.1 L1824.9,320.0 L1826.4,320.0 L1827.9,319.9 L1829.4,319.9 L1830.9,319.8 L1832.4,319.8 L1833.9,319.6 L1835.3,319.5 L1836.8,319.4 L1838.3,319.3 L1839.8,319.3 L1841.3,319.3 L1842.8,319.4 L1844.3,319.5 L1845.8,319.4 L1847.3,319.2 L1848.8,319.2 L1850.3,319.1 L1851.8,319.2 L1853.3,319.2 L1854.8,319.4 L1856.3,319.5 L1857.8,319.5 L1859.3,319.5 L1860.8,319.5 L1862.3,319.4 L1863.8,319.3 L1865.3,319.3 L1866.8,319.3 L1868.3,319.3 L1869.8,319.2 L1871.3,319.3 L1872.8,319.3 L1874.3,319.4 L1875.8,319.5 L1877.3,319.5 L1878.8,319.5 L1880.3,319.5 L1881.8,319.6 L1883.3,319.6 L1884.8,319.6 L1886.3,319.6 L1887.8,319.5 L1889.3,319.5 L1890.8,319.5 L1892.3,319.7 L1893.8,319.8 L1895.3,319.9 L1896.8,320.0 L1898.3,320.1 L1899.8,320.1 L1901.3,320.1 L1902.8,320.0 L1904.3,320.0 L1905.8,320.1 L1907.3,320.2 L1908.8,320.1 L1910.3,320.1 L1911.8,320.1 L1913.3,320.2 L1914.8,320.5 L1916.2,320.6 L1917.7,320.7 L1919.2,320.8 L1920.7,320.9 L1922.2,320.9 L1923.7,321.0 L1925.2,321.1 L1926.7,321.3 L1928.2,321.4 L1929.7,321.3 L1931.2,321.2 L1932.7,321.1 L1934.2,321.2 L1935.7,321.3 L1937.2,321.5 L1938.7,321.6 L1940.2,321.6 L1941.7,321.6 L1943.2,321.6 L1944.7,321.8 L1946.2,321.9 L1947.7,322.1 L1949.2,322.0 L1950.7,322.2 L1952.2,322.3 L1953.7,322.5 L1955.1,322.6 L1956.7,322.6 L1958.2,322.5 L1959.7,322.5 L1961.1,322.7 L1962.6,322.7 L1964.1,322.8 L1965.6,322.9 L1967.1,323.0 L1968.6,323.2 L1970.1,323.4 L1971.6,323.4 L1973.1,323.5 L1974.6,323.4 L1976.1,323.5 L1977.6,323.6 L1979.1,323.7 L1980.6,323.9 L1982.1,324.1 L1983.6,324.3 L1985.1,324.3 L1986.6,324.4 L1988.1,324.6 L1989.5,324.9 L1991.0,324.9 L1992.6,324.9 L1994.1,325.0 L1995.5,325.0 L1997.0,325.1 L1998.6,325.1 L2000.0,325.2 L2001.5,325.4 L2003.0,325.5 L2004.5,325.8 L2006.0,326.0 L2007.5,326.3 L2009.0,326.4 L2010.5,326.5 L2012.0,326.6 L2013.5,326.8 L2015.0,326.9 L2016.5,326.9 L2018.0,327.0 L2019.4,327.2 L2020.9,327.4 L2022.4,327.5 L2023.9,327.7 L2025.4,327.8 L2026.9,327.7 L2028.4,327.7 L2029.9,327.9 L2031.4,328.1 L2032.9,328.3 L2034.4,328.5 L2035.9,328.6 L2037.4,328.7 L2038.9,328.8 L2040.4,328.9 L2041.8,329.1 L2043.3,329.2 L2044.8,329.3 L2046.3,329.3 L2047.8,329.3 L2049.3,329.5 L2050.8,329.7 L2052.3,329.9 L2053.8,330.1 L2055.3,330.2 L2056.8,330.4 L2058.3,330.4 L2059.8,330.3 L2061.3,330.3 L2062.8,330.5 L2064.2,330.8 L2065.7,330.9 L2067.2,331.0 L2068.7,331.0 L2070.2,331.2 L2071.7,331.3 L2073.2,331.5 L2074.7,331.6 L2076.2,331.7 L2077.7,331.7 L2079.2,331.8 L2080.7,331.8 L2082.2,331.8 L2083.7,332.0 L2085.1,332.1 L2086.6,332.3 L2088.1,332.4 L2089.6,332.6 L2091.1,332.7 L2092.6,332.8 L2094.1,332.9 L2095.6,332.9 L2097.1,333.0 L2098.6,333.1 L2100.0,333.1 L2101.5,333.0 L2103.0,333.0 L2104.5,333.2 L2106.0,333.5 L2107.5,333.7 L2109.0,333.7 L2110.5,333.8 L2112.0,333.9 L2113.5,334.1 L2114.9,334.2 L2116.4,334.3 L2117.9,334.4 L2119.4,334.3 L2120.9,334.3 L2122.4,334.3 L2123.9,334.5 L2125.4,334.7 L2126.9,334.8 L2128.3,334.8 L2129.8,334.8 L2131.3,334.8 L2132.8,334.9 L2134.3,334.9 L2135.8,335.0 L2137.3,335.1 L2138.8,335.2 L2140.3,335.2 L2141.8,335.3 L2143.2,335.4 L2144.7,335.5 L2146.2,335.6 L2147.7,335.6 L2149.2,335.6 L2150.7,335.6 L2152.2,335.6 L2153.7,335.8 L2155.1,336.0 L2156.6,336.1 L2158.1,336.1 L2159.6,336.1 L2161.1,336.0 L2162.6,336.1 L2164.1,336.2 L2165.6,336.3 L2167.1,336.4 L2168.5,336.4 L2170.0,336.5 L2171.5,336.6 L2173.0,336.7 L2174.5,336.8 L2176.0,336.8 L2177.5,336.8 L2179.0,336.9 L2180.4,337.0 L2181.9,337.0 L2183.4,337.1 L2184.9,337.3 L2186.4,337.5 L2187.9,337.7 L2189.3,337.7 L2190.8,337.7 L2192.3,337.7 L2193.8,337.6 L2195.3,337.7 L2196.8,337.7 L2198.3,337.8 L2199.8,337.9 L2201.3,338.0 L2202.7,338.1 L2204.2,338.2 L2205.7,338.4 L2207.2,338.5 L2208.7,338.6 L2210.2,338.7 L2211.6,338.8 L2213.1,338.9 L2214.6,339.0 L2216.1,339.1 L2217.6,339.2 L2219.1,339.3 L2220.6,339.2 L2222.0,339.2 L2223.5,339.4 L2225.0,339.7 L2226.5,340.0 L2227.9,340.2 L2229.4,340.2 L2230.9,340.2 L2232.4,340.1 L2233.9,340.3 L2235.4,340.4 L2236.9,340.6 L2238.4,340.7 L2239.8,340.7 L2241.3,340.7 L2242.8,340.8 L2244.3,341.0 L2245.8,341.1 L2247.3,341.2 L2248.8,341.3 L2250.3,341.3 L2251.7,341.4 L2253.2,341.6 L2254.7,341.9 L2256.2,342.1 L2257.6,342.3 L2259.1,342.5 L2260.6,342.8 L2262.1,343.1 L2263.5,343.3 L2265.0,343.4 L2266.5,343.5 L2268.0,343.8 L2269.5,344.2 L2270.9,344.5 L2272.4,344.6 L2273.9,344.7 L2275.4,344.9 L2276.9,345.2 L2278.4,345.4 L2279.8,345.7 L2281.3,345.9 L2282.8,346.1 L2284.3,346.3 L2285.8,346.6 L2287.3,346.9 L2288.7,347.3 L2290.2,347.6 L2291.7,348.0 L2293.1,348.5 L2294.6,348.9 L2296.1,349.1 L2297.6,349.3 L2299.1,349.5 L2300.6,349.8 L2302.1,350.1 L2303.6,350.5 L2305.1,350.8 L2306.5,351.2 L2308.0,351.6 L2309.4,351.9 L2310.9,352.2 L2312.4,352.4 L2313.9,352.6 L2315.4,352.7 L2316.9,352.9 L2318.3,353.1 L2319.8,353.3 L2321.3,353.4 L2322.8,353.6 L2324.2,353.7 L2325.7,353.7 L2325.9,353.7" fill="none" stroke="#ff00ff" stroke-width="8.4" stroke-linejoin="round" stroke-linecap="round"/>
<path d="M245.0,1606.0 L245.3,1604.5 L245.7,1603.1 L246.0,1601.6 L246.3,1600.2 L246.7,1598.7 L247.0,1597.3 L247.3,1595.8 L247.7,1594.3 L248.0,1592.9 L248.3,1591.4 L248.7,1590.0 L249.0,1588.5 L249.3,1587.1 L249.7,1585.6 L250.0,1584.2 L250.3,1582.7 L250.7,1581.2 L251.0,1579.8 L251.4,1578.3 L251.7,1576.9 L252.1,1575.4 L252.4,1574.0 L252.8,1572.5 L253.1,1571.1 L253.4,1569.6 L253.8,1568.1 L254.1,1566.7 L254.4,1565.2 L254.8,1563.8 L255.2,1562.3 L255.5,1560.9 L255.9,1559.4 L256.2,1557.9 L256.6,1556.5 L256.9,1555.0 L257.2,1553.6 L257.6,1552.1 L258.0,1550.7 L258.4,1549.2 L258.7,1547.8 L259.1,1546.3 L259.4,1544.8 L259.8,1543.4 L260.1,1541.9 L260.5,1540.5 L260.8,1539.0 L261.2,1537.6 L261.6,1536.1 L261.9,1534.7 L262.3,1533.2 L262.7,1531.8 L263.0,1530.3 L263.4,1528.8 L263.8,1527.4 L264.2,1525.9 L264.6,1524.5 L265.0,1523.1 L265.4,1521.6 L265.8,1520.2 L266.1,1518.7 L266.4,1517.2 L266.8,1515.8 L267.1,1514.3 L267.5,1512.9 L267.9,1511.4 L268.3,1510.0 L268.6,1508.5 L269.0,1507.1 L269.4,1505.6 L269.7,1504.1 L270.1,1502.7 L270.5,1501.2 L270.8,1499.8 L271.2,1498.3 L271.5,1496.9 L271.9,1495.4 L272.3,1493.9 L272.7,1492.5 L273.1,1491.1 L273.4,1489.6 L273.8,1488.1 L274.2,1486.7 L274.6,1485.2 L274.9,1483.8 L275.3,1482.3 L275.7,1480.9 L276.1,1479.4 L276.5,1478.0 L277.0,1476.5 L277.4,1475.1 L277.8,1473.7 L278.1,1472.2 L278.4,1470.7 L278.7,1469.2 L279.2,1467.8 L279.6,1466.4 L280.0,1464.9 L280.4,1463.5 L280.8,1462.0 L281.1,1460.6 L281.6,1459.1 L282.0,1457.7 L282.4,1456.2 L282.9,1454.8 L283.3,1453.4 L283.7,1451.9 L284.0,1450.4 L284.4,1449.0 L284.8,1447.5 L285.2,1446.1 L285.6,1444.6 L285.9,1443.2 L286.3,1441.7 L286.6,1440.3 L287.1,1438.8 L287.5,1437.4 L288.0,1436.0 L288.4,1434.5 L288.8,1433.1 L289.2,1431.6 L289.6,1430.1 L289.9,1428.7 L290.2,1427.2 L290.6,1425.8 L291.0,1424.3 L291.5,1422.9 L291.9,1421.4 L292.4,1420.0 L292.8,1418.6 L293.2,1417.1 L293.7,1415.7 L294.1,1414.2 L294.5,1412.8 L294.9,1411.4 L295.4,1409.9 L295.7,1408.5 L296.1,1407.0 L296.4,1405.5 L296.8,1404.1 L297.2,1402.6 L297.7,1401.2 L298.2,1399.8 L298.5,1398.3 L298.9,1396.9 L299.3,1395.4 L299.7,1394.0 L300.2,1392.5 L300.5,1391.1 L300.9,1389.6 L301.2,1388.2 L301.6,1386.7 L302.0,1385.3 L302.5,1383.8 L303.0,1382.4 L303.3,1380.9 L303.7,1379.5 L304.1,1378.0 L304.5,1376.6 L304.9,1375.2 L305.4,1373.7 L305.9,1372.3 L306.2,1370.8 L306.6,1369.4 L306.9,1367.9 L307.3,1366.5 L307.7,1365.0 L308.2,1363.6 L308.6,1362.2 L309.2,1360.7 L309.6,1359.3 L310.0,1357.9 L310.4,1356.4 L310.8,1355.0 L311.1,1353.5 L311.5,1352.0 L311.9,1350.6 L312.4,1349.2 L312.8,1347.7 L313.3,1346.3 L313.8,1344.9 L314.3,1343.5 L314.7,1342.0 L315.0,1340.6 L315.4,1339.1 L315.8,1337.7 L316.2,1336.2 L316.6,1334.8 L317.0,1333.3 L317.5,1331.9 L317.9,1330.5 L318.3,1329.0 L318.7,1327.6 L319.2,1326.1 L319.6,1324.7 L320.1,1323.3 L320.4,1321.8 L320.7,1320.3 L321.1,1318.9 L321.6,1317.5 L321.9,1316.0 L322.3,1314.6 L322.8,1313.1 L323.3,1311.7 L323.8,1310.3 L324.2,1308.9 L324.6,1307.4 L325.0,1306.0 L325.4,1304.5 L325.9,1303.1 L326.4,1301.7 L326.9,1300.3 L327.3,1298.9 L327.6,1297.4 L328.0,1295.9 L328.4,1294.5 L328.7,1293.0 L329.1,1291.6 L329.6,1290.2 L330.1,1288.8 L330.6,1287.4 L331.1,1285.9 L331.5,1284.5 L331.9,1283.0 L332.2,1281.6 L332.6,1280.1 L332.9,1278.7 L333.3,1277.2 L333.7,1275.8 L334.1,1274.3 L334.5,1272.9 L335.0,1271.5 L335.5,1270.1 L335.9,1268.6 L336.3,1267.2 L336.8,1265.8 L337.3,1264.3 L337.7,1262.9 L338.1,1261.5 L338.5,1260.0 L339.0,1258.6 L339.5,1257.2 L339.9,1255.8 L340.3,1254.3 L340.6,1252.9 L341.0,1251.4 L341.4,1250.0 L341.9,1248.6 L342.3,1247.1 L342.7,1245.7 L343.1,1244.2 L343.6,1242.8 L344.0,1241.4 L344.5,1240.0 L345.0,1238.6 L345.5,1237.1 L345.9,1235.7 L346.4,1234.3 L346.9,1232.9 L347.4,1231.5 L347.7,1230.0 L348.1,1228.6 L348.5,1227.1 L349.0,1225.7 L349.4,1224.3 L349.9,1222.9 L350.3,1221.4 L350.7,1220.0 L351.1,1218.5 L351.6,1217.1 L352.1,1215.7 L352.6,1214.3 L353.0,1212.9 L353.5,1211.4 L353.9,1210.0 L354.4,1208.6 L354.8,1207.1 L355.2,1205.7 L355.6,1204.3 L356.1,1202.8 L356.6,1201.4 L357.1,1200.0 L357.6,1198.6 L358.0,1197.2 L358.4,1195.7 L358.8,1194.3 L359.3,1192.9 L359.8,1191.4 L360.3,1190.0 L360.7,1188.6 L361.2,1187.2 L361.7,1185.8 L362.1,1184.3 L362.6,1182.9 L363.0,1181.5 L363.6,1180.1 L364.1,1178.6 L364.5,1177.2 L365.0,1175.8 L365.5,1174.4 L366.0,1173.0 L366.5,1171.6 L367.0,1170.1 L367.4,1168.7 L367.9,1167.3 L368.5,1165.9 L369.0,1164.5 L369.5,1163.1 L370.1,1161.6 L370.5,1160.2 L370.9,1158.8 L371.3,1157.3 L371.7,1155.8 L372.2,1154.4 L372.7,1153.0 L373.2,1151.6 L373.7,1150.2 L374.2,1148.8 L374.7,1147.3 L375.3,1146.0 L376.0,1144.6 L376.6,1143.2 L377.1,1141.8 L377.6,1140.4 L378.2,1139.0 L378.6,1137.5 L379.0,1136.1 L379.5,1134.6 L380.0,1133.2 L380.5,1131.8 L381.0,1130.4 L381.5,1129.0 L382.1,1127.6 L382.7,1126.1 L383.2,1124.7 L383.7,1123.3 L384.3,1121.9 L384.9,1120.5 L385.5,1119.1 L386.1,1117.8 L386.6,1116.3 L387.1,1114.9 L387.6,1113.5 L388.0,1112.0 L388.5,1110.6 L389.0,1109.1 L389.5,1107.7 L390.0,1106.3 L390.5,1104.9 L391.1,1103.5 L391.7,1102.1 L392.3,1100.7 L392.8,1099.3 L393.3,1097.9 L393.9,1096.5 L394.4,1095.1 L395.0,1093.7 L395.6,1092.3 L396.1,1090.9 L396.7,1089.5 L397.3,1088.1 L397.8,1086.6 L398.3,1085.2 L398.9,1083.8 L399.4,1082.4 L399.9,1081.0 L400.4,1079.5 L400.8,1078.1 L401.4,1076.7 L402.1,1075.3 L402.8,1074.0 L403.4,1072.6 L404.0,1071.2 L404.4,1069.8 L404.9,1068.3 L405.4,1066.9 L406.0,1065.5 L406.6,1064.1 L407.2,1062.8 L407.7,1061.4 L408.3,1060.0 L408.8,1058.5 L409.3,1057.1 L409.8,1055.7 L410.4,1054.3 L411.0,1052.9 L411.6,1051.5 L412.2,1050.2 L412.7,1048.8 L413.3,1047.4 L413.8,1046.0 L414.3,1044.5 L414.8,1043.1 L415.4,1041.7 L415.9,1040.3 L416.4,1038.9 L416.9,1037.5 L417.4,1036.1 L418.0,1034.7 L418.6,1033.3 L419.1,1031.9 L419.6,1030.5 L420.2,1029.1 L420.8,1027.7 L421.4,1026.4 L421.9,1025.0 L422.4,1023.5 L422.9,1022.1 L423.4,1020.7 L424.0,1019.4 L424.6,1018.0 L425.1,1016.6 L425.6,1015.2 L426.1,1013.8 L426.6,1012.4 L427.2,1011.0 L427.7,1009.6 L428.2,1008.2 L428.7,1006.8 L429.3,1005.4 L429.8,1004.0 L430.3,1002.6 L430.7,1001.2 L431.2,999.8 L431.7,998.4 L432.3,997.0 L432.8,995.6 L433.4,994.3 L434.0,992.9 L434.5,991.5 L435.0,990.1 L435.5,988.7 L436.0,987.3 L436.6,985.9 L437.1,984.5 L437.6,983.1 L438.2,981.7 L438.7,980.4 L439.3,979.0 L439.8,977.6 L440.4,976.2 L441.0,974.9 L441.5,973.5 L442.0,972.1 L442.5,970.7 L442.9,969.2 L443.4,967.9 L444.0,966.5 L444.6,965.1 L445.1,963.7 L445.6,962.3 L446.1,960.9 L446.6,959.5 L447.1,958.1 L447.7,956.8 L448.2,955.4 L448.8,954.0 L449.4,952.6 L449.9,951.3 L450.4,949.9 L451.0,948.5 L451.6,947.1 L452.1,945.8 L452.7,944.4 L453.2,943.0 L453.8,941.6 L454.4,940.3 L455.0,938.9 L455.5,937.5 L456.0,936.1 L456.4,934.7 L456.9,933.3 L457.6,931.9 L458.2,930.6 L458.8,929.2 L459.4,927.8 L459.9,926.5 L460.4,925.0 L461.0,923.7 L461.5,922.3 L462.1,920.9 L462.6,919.5 L463.2,918.2 L463.8,916.8 L464.4,915.4 L465.1,914.1 L465.7,912.7 L466.2,911.3 L466.8,909.9 L467.2,908.5 L467.8,907.1 L468.5,905.8 L469.2,904.5 L469.9,903.2 L470.4,901.8 L471.0,900.4 L471.5,899.0 L472.1,897.6 L472.6,896.2 L473.2,894.8 L473.8,893.4 L474.3,892.0 L474.9,890.7 L475.5,889.3 L476.2,887.9 L476.8,886.6 L477.5,885.3 L478.1,883.9 L478.7,882.5 L479.3,881.1 L479.9,879.8 L480.5,878.4 L481.1,877.0 L481.8,875.7 L482.4,874.3 L482.9,872.9 L483.5,871.5 L484.1,870.2 L484.9,868.9 L485.5,867.5 L486.1,866.1 L486.6,864.7 L487.2,863.3 L487.8,862.0 L488.5,860.6 L489.2,859.3 L489.7,857.9 L490.4,856.5 L491.0,855.2 L491.8,853.9 L492.5,852.6 L493.2,851.2 L493.9,849.9 L494.5,848.5 L495.1,847.1 L495.7,845.7 L496.3,844.4 L497.0,843.0 L497.6,841.7 L498.2,840.3 L498.7,838.9 L499.4,837.5 L500.1,836.2 L500.8,834.9 L501.5,833.5 L502.1,832.1 L502.7,830.8 L503.5,829.5 L504.2,828.2 L504.9,826.8 L505.5,825.4 L506.1,824.1 L506.8,822.7 L507.5,821.4 L508.2,820.1 L508.8,818.7 L509.4,817.3 L510.0,815.9 L510.6,814.5 L511.2,813.2 L511.9,811.8 L512.6,810.5 L513.2,809.1 L513.9,807.8 L514.6,806.4 L515.4,805.1 L516.1,803.8 L516.8,802.5 L517.4,801.1 L518.1,799.7 L518.8,798.4 L519.4,797.1 L520.1,795.7 L520.9,794.4 L521.6,793.1 L522.3,791.7 L522.9,790.3 L523.5,789.0 L524.1,787.6 L524.8,786.2 L525.4,784.9 L526.2,783.6 L526.9,782.3 L527.6,780.9 L528.3,779.6 L529.0,778.3 L529.7,776.9 L530.5,775.6 L531.2,774.3 L531.9,773.0 L532.6,771.6 L533.3,770.3 L533.9,768.9 L534.6,767.6 L535.3,766.2 L536.0,764.9 L536.7,763.6 L537.4,762.2 L538.2,760.9 L538.9,759.6 L539.6,758.3 L540.2,756.9 L540.9,755.6 L541.5,754.2 L542.2,752.8 L542.9,751.5 L543.6,750.2 L544.4,748.9 L545.1,747.6 L545.9,746.3 L546.6,745.0 L547.3,743.6 L548.0,742.3 L548.8,741.0 L549.6,739.7 L550.3,738.4 L551.0,737.1 L551.6,735.7 L552.3,734.3 L552.9,732.9 L553.7,731.6 L554.4,730.3 L555.2,729.0 L556.0,727.8 L556.8,726.5 L557.6,725.2 L558.3,723.9 L559.0,722.5 L559.6,721.2 L560.3,719.8 L561.0,718.5 L561.7,717.2 L562.5,715.9 L563.2,714.5 L564.0,713.3 L564.8,712.0 L565.5,710.7 L566.3,709.4 L567.0,708.1 L567.7,706.8 L568.4,705.4 L569.1,704.1 L569.8,702.8 L570.7,701.5 L571.5,700.3 L572.3,699.0 L573.0,697.6 L573.7,696.3 L574.3,694.9 L575.0,693.6 L575.8,692.3 L576.6,691.0 L577.4,689.8 L578.2,688.5 L579.0,687.2 L579.7,685.9 L580.5,684.6 L581.3,683.3 L582.0,682.0 L582.7,680.7 L583.6,679.5 L584.4,678.2 L585.1,676.9 L585.8,675.5 L586.4,674.2 L587.2,672.9 L588.1,671.7 L588.9,670.4 L589.7,669.1 L590.4,667.8 L591.2,666.5 L592.0,665.3 L592.8,664.0 L593.6,662.7 L594.4,661.5 L595.3,660.2 L596.1,659.0 L596.8,657.7 L597.6,656.4 L598.4,655.1 L599.1,653.8 L599.9,652.5 L600.7,651.3 L601.5,650.0 L602.3,648.8 L603.1,647.5 L603.9,646.2 L604.6,644.9 L605.4,643.6 L606.2,642.4 L607.1,641.2 L608.0,639.9 L608.9,638.7 L609.8,637.5 L610.6,636.3 L611.4,635.0 L612.1,633.7 L612.9,632.4 L613.8,631.2 L614.6,630.0 L615.5,628.8 L616.4,627.5 L617.3,626.3 L618.1,625.1 L618.9,623.8 L619.7,622.6 L620.5,621.3 L621.3,620.0 L622.1,618.8 L622.9,617.5 L623.9,616.4 L624.7,615.2 L625.6,613.9 L626.4,612.7 L627.3,611.5 L628.2,610.3 L629.1,609.1 L629.9,607.9 L630.7,606.6 L631.6,605.4 L632.5,604.2 L633.5,603.0 L634.4,601.8 L635.2,600.6 L636.0,599.3 L636.8,598.1 L637.8,597.0 L638.7,595.8 L639.6,594.6 L640.4,593.3 L641.3,592.1 L642.2,590.9 L643.1,589.8 L644.0,588.6 L644.8,587.3 L645.7,586.1 L646.6,584.9 L647.6,583.8 L648.6,582.7 L649.5,581.5 L650.3,580.3 L651.2,579.0 L652.1,577.8 L653.0,576.7 L653.9,575.5 L654.8,574.3 L655.7,573.1 L656.6,571.9 L657.5,570.8 L658.5,569.6 L659.4,568.4 L660.4,567.3 L661.3,566.2 L662.3,565.0 L663.2,563.9 L664.1,562.7 L665.0,561.5 L665.9,560.3 L666.9,559.2 L667.8,558.0 L668.8,556.8 L669.7,555.6 L670.7,554.5 L671.7,553.4 L672.7,552.3 L673.6,551.1 L674.5,549.9 L675.4,548.8 L676.4,547.6 L677.4,546.5 L678.4,545.4 L679.4,544.3 L680.3,543.1 L681.2,541.9 L682.1,540.7 L683.0,539.5 L683.9,538.3 L684.8,537.1 L685.8,536.0 L686.9,534.9 L687.9,533.8 L688.9,532.7 L689.9,531.6 L690.9,530.5 L691.9,529.4 L692.9,528.2 L693.9,527.1 L694.8,525.9 L695.8,524.7 L696.7,523.6 L697.7,522.4 L698.7,521.3 L699.8,520.2 L700.8,519.1 L701.8,518.0 L702.7,516.8 L703.6,515.6 L704.6,514.4 L705.5,513.3 L706.6,512.1 L707.6,511.0 L708.6,509.9 L709.6,508.8 L710.7,507.7 L711.6,506.5 L712.6,505.4 L713.6,504.2 L714.6,503.0 L715.5,501.9 L716.5,500.7 L717.5,499.5 L718.4,498.4 L719.4,497.2 L720.4,496.1 L721.5,495.0 L722.5,493.8 L723.5,492.7 L724.4,491.5 L725.4,490.3 L726.4,489.1 L727.4,488.0 L728.3,486.8 L729.3,485.6 L730.2,484.4 L731.3,483.3 L732.4,482.3 L733.5,481.2 L734.5,480.1 L735.4,478.9 L736.4,477.8 L737.5,476.7 L738.6,475.7 L739.6,474.6 L740.7,473.6 L741.7,472.5 L742.7,471.4 L743.7,470.3 L744.8,469.2 L745.9,468.2 L747.0,467.3 L748.1,466.3 L749.2,465.3 L750.4,464.3 L751.5,463.4 L752.7,462.5 L753.7,461.5 L754.8,460.5 L756.0,459.5 L757.1,458.6 L758.2,457.6 L759.4,456.7 L760.6,455.8 L761.7,454.9 L762.8,453.9 L763.9,452.9 L765.0,452.0 L766.2,451.0 L767.3,450.1 L768.5,449.2 L769.7,448.4 L771.0,447.6 L772.2,446.8 L773.4,445.9 L774.5,444.9 L775.6,443.9 L776.7,442.9 L777.9,442.1 L779.2,441.3 L780.4,440.5 L781.7,439.7 L783.0,439.0 L784.2,438.2 L785.4,437.3 L786.6,436.4 L787.7,435.4 L788.9,434.5 L790.2,433.7 L791.4,432.9 L792.6,432.0 L793.8,431.1 L795.0,430.2 L796.2,429.3 L797.4,428.5 L798.7,427.8 L800.0,427.0 L801.3,426.2 L802.5,425.4 L803.7,424.5 L805.0,423.7 L806.2,422.8 L807.4,421.9 L808.6,421.0 L809.8,420.2 L811.0,419.3 L812.3,418.5 L813.6,417.7 L814.9,416.9 L816.1,416.1 L817.3,415.2 L818.5,414.3 L819.8,413.4 L821.1,412.7 L822.4,411.9 L823.6,411.1 L824.8,410.2 L826.0,409.3 L827.2,408.4 L828.5,407.5 L829.7,406.6 L830.9,405.8 L832.2,404.9 L833.5,404.1 L834.7,403.2 L835.9,402.3 L837.1,401.4 L838.4,400.6 L839.6,399.8 L840.9,398.9 L842.1,398.0 L843.4,397.3 L844.7,396.6 L846.0,395.8 L847.3,394.9 L848.6,394.1 L849.8,393.3 L851.0,392.4 L852.2,391.5 L853.5,390.7 L854.8,389.9 L856.1,389.2 L857.4,388.4 L858.7,387.7 L860.0,387.0 L861.3,386.2 L862.6,385.3 L863.8,384.5 L865.1,383.7 L866.4,382.9 L867.7,382.2 L869.0,381.4 L870.3,380.7 L871.6,379.9 L872.9,379.2 L874.3,378.5 L875.5,377.7 L876.8,376.9 L878.0,376.0 L879.3,375.3 L880.6,374.5 L882.0,373.8 L883.3,373.1 L884.6,372.4 L886.0,371.7 L887.3,371.0 L888.6,370.3 L889.9,369.6 L891.2,368.8 L892.5,368.0 L893.8,367.3 L895.1,366.6 L896.5,365.8 L897.8,365.1 L899.1,364.5 L900.5,363.8 L901.8,363.2 L903.2,362.5 L904.5,361.7 L905.8,361.0 L907.1,360.3 L908.5,359.6 L909.8,358.9 L911.2,358.3 L912.5,357.6 L913.9,357.0 L915.2,356.3 L916.6,355.7 L917.9,354.9 L919.2,354.2 L920.6,353.5 L921.9,352.8 L923.2,352.1 L924.5,351.4 L925.9,350.7 L927.3,350.2 L928.7,349.6 L930.0,348.9 L931.4,348.2 L932.7,347.6 L934.1,347.0 L935.5,346.4 L936.9,345.8 L938.2,345.1 L939.6,344.4 L940.9,343.8 L942.3,343.1 L943.7,342.5 L945.0,341.8 L946.4,341.2 L947.8,340.6 L949.2,340.1 L950.6,339.5 L952.0,338.9 L953.4,338.3 L954.7,337.7 L956.1,337.0 L957.4,336.4 L958.8,335.6 L960.1,335.0 L961.5,334.4 L963.0,333.9 L964.4,333.4 L965.8,332.9 L967.2,332.3 L968.6,331.7 L970.0,331.1 L971.4,330.5 L972.7,329.9 L974.1,329.3 L975.5,328.7 L976.9,328.2 L978.3,327.7 L979.7,327.1 L981.1,326.5 L982.5,325.9 L983.9,325.3 L985.3,324.8 L986.7,324.2 L988.1,323.7 L989.5,323.1 L990.9,322.5 L992.3,321.9 L993.7,321.4 L995.1,320.9 L996.5,320.4 L997.9,319.9 L999.3,319.3 L1000.7,318.8 L1002.1,318.2 L1003.5,317.8 L1005.0,317.3 L1006.4,316.7 L1007.8,316.2 L1009.2,315.7 L1010.6,315.2 L1012.0,314.7 L1013.4,314.3 L1014.9,313.9 L1016.3,313.6 L1017.7,313.0 L1019.1,312.5 L1020.5,312.0 L1021.9,311.6 L1023.3,311.2 L1024.7,310.7 L1026.2,310.2 L1027.6,309.9 L1029.0,309.6 L1030.5,309.3 L1031.9,308.9 L1033.3,308.5 L1034.8,308.1 L1036.2,307.6 L1037.6,307.3 L1039.0,306.9 L1040.5,306.6 L1041.9,306.3 L1043.4,306.0 L1044.8,305.7 L1046.2,305.4 L1047.7,305.0 L1049.1,304.6 L1050.5,304.3 L1052.0,304.0 L1053.4,303.7 L1054.8,303.3 L1056.2,302.9 L1057.7,302.6 L1059.1,302.3 L1060.6,302.0 L1062.0,301.7 L1063.5,301.4 L1064.9,301.1 L1066.3,300.7 L1067.8,300.4 L1069.2,300.1 L1070.7,299.9 L1072.1,299.7 L1073.6,299.4 L1075.0,299.0 L1076.4,298.6 L1077.9,298.2 L1079.3,298.0 L1080.8,297.8 L1082.3,297.6 L1083.7,297.3 L1085.2,297.0 L1086.6,296.7 L1088.1,296.4 L1089.5,296.0 L1090.9,295.6 L1092.4,295.2 L1093.8,294.9 L1095.3,294.7 L1096.8,294.4 L1098.2,294.1 L1099.7,293.8 L1101.2,293.6 L1102.6,293.3 L1104.1,293.0 L1105.5,292.6 L1107.0,292.2 L1108.4,291.9 L1109.9,291.6 L1111.4,291.4 L1112.9,291.1 L1114.3,290.9 L1115.8,290.5 L1117.3,290.2 L1118.7,289.8 L1120.2,289.5 L1121.7,289.2 L1123.1,288.9 L1124.6,288.5 L1126.0,288.1 L1127.5,287.7 L1128.9,287.3 L1130.4,286.9 L1131.9,286.6 L1133.4,286.3 L1134.8,286.0 L1136.3,285.7 L1137.8,285.4 L1139.3,285.1 L1140.7,284.7 L1142.2,284.4 L1143.7,284.0 L1145.1,283.7 L1146.6,283.4 L1148.1,283.1 L1149.6,282.7 L1151.0,282.4 L1152.5,282.1 L1154.0,281.8 L1155.5,281.6 L1157.0,281.2 L1158.4,280.9 L1159.9,280.5 L1161.3,280.1 L1162.8,279.7 L1164.3,279.4 L1165.8,279.2 L1167.3,279.0 L1168.8,278.8 L1170.3,278.4 L1171.7,278.1 L1173.2,277.7 L1174.7,277.5 L1176.2,277.2 L1177.6,276.9 L1179.1,276.6 L1180.6,276.3 L1182.1,276.0 L1183.6,275.7 L1185.0,275.4 L1186.5,275.1 L1188.0,274.9 L1189.5,274.8 L1191.0,274.6 L1192.5,274.4 L1194.0,274.1 L1195.5,273.8 L1196.9,273.6 L1198.4,273.4 L1199.9,273.1 L1201.4,272.8 L1202.9,272.6 L1204.4,272.4 L1205.9,272.2 L1207.4,272.1 L1208.8,272.0 L1210.3,271.9 L1211.8,271.6 L1213.3,271.4 L1214.8,271.3 L1216.3,271.2 L1217.8,271.1 L1219.3,270.9 L1220.8,270.6 L1222.3,270.4 L1223.8,270.3 L1225.2,270.2 L1226.7,270.0 L1228.2,269.9 L1229.7,269.8 L1231.2,269.7 L1232.7,269.5 L1234.2,269.2 L1235.7,268.9 L1237.2,268.8 L1238.7,268.6 L1240.2,268.5 L1241.6,268.3 L1243.2,268.3 L1244.7,268.2 L1246.2,268.2 L1247.6,268.0 L1249.1,267.8 L1250.6,267.7 L1252.1,267.6 L1253.6,267.5 L1255.1,267.3 L1256.6,267.0 L1258.1,266.8 L1259.6,266.6 L1261.1,266.5 L1262.6,266.5 L1264.1,266.5 L1265.6,266.3 L1267.1,266.1 L1268.6,265.9 L1270.1,265.7 L1271.6,265.6 L1273.1,265.3 L1274.6,265.1 L1276.1,264.8 L1277.6,264.6 L1279.1,264.5 L1280.6,264.3 L1282.1,264.2 L1283.6,264.0 L1285.1,263.8 L1286.6,263.6 L1288.1,263.4 L1289.6,263.2 L1291.1,263.0 L1292.6,262.8 L1294.1,262.5 L1295.6,262.3 L1297.1,262.0 L1298.6,261.7 L1300.1,261.6 L1301.6,261.4 L1303.1,261.2 L1304.6,260.9 L1306.1,260.6 L1307.6,260.3 L1309.1,260.0 L1310.6,259.8 L1312.1,259.6 L1313.6,259.3 L1315.1,259.0 L1316.5,258.7 L1318.0,258.4 L1319.5,258.1 L1321.0,257.9 L1322.5,257.7 L1324.0,257.4 L1325.5,257.1 L1327.1,256.9 L1328.6,256.8 L1330.1,256.6 L1331.6,256.3 L1333.1,256.1 L1334.6,255.8 L1336.1,255.6 L1337.6,255.4 L1339.1,255.3 L1340.6,255.1 L1342.1,254.9 L1343.6,254.7 L1345.1,254.5 L1346.5,254.3 L1348.1,254.1 L1349.6,254.0 L1351.1,253.9 L1352.6,253.8 L1354.1,253.7 L1355.5,253.5 L1357.0,253.4 L1358.5,253.3 L1360.0,253.2 L1361.5,253.1 L1363.0,253.0 L1364.5,252.9 L1366.0,252.8 L1367.5,252.8 L1369.0,252.7 L1370.5,252.6 L1372.0,252.6 L1373.5,252.7 L1375.0,252.8 L1376.5,252.9 L1378.0,253.0 L1379.5,253.0 L1381.0,253.0 L1382.5,252.9 L1384.0,252.8 L1385.5,252.8 L1387.0,252.8 L1388.5,252.8 L1390.0,252.9 L1391.5,253.0 L1393.0,253.0 L1394.5,252.9 L1396.0,252.9 L1397.5,253.0 L1399.0,253.1 L1400.5,253.2 L1402.0,253.3 L1403.5,253.4 L1405.0,253.4 L1406.5,253.4 L1408.0,253.4 L1409.5,253.4 L1411.0,253.4 L1412.5,253.4 L1414.0,253.4 L1415.5,253.5 L1416.9,253.6 L1418.4,253.7 L1419.9,253.8 L1421.4,253.8 L1422.9,253.8 L1424.4,253.8 L1425.9,253.8 L1427.4,253.8 L1428.9,253.9 L1430.4,253.8 L1431.9,253.9 L1433.4,253.9 L1434.9,253.9 L1436.4,253.9 L1437.9,253.9 L1439.4,253.9 L1440.9,253.9 L1442.4,253.8 L1443.9,253.8 L1445.4,253.8 L1446.9,253.7 L1448.4,253.8 L1449.9,253.8 L1451.4,253.8 L1452.9,253.7 L1454.3,253.7 L1455.8,253.7 L1457.3,253.7 L1458.8,253.8 L1460.3,253.9 L1461.8,253.9 L1463.3,253.9 L1464.8,253.9 L1466.3,253.9 L1467.8,253.9 L1469.3,253.9 L1470.8,253.9 L1472.3,253.8 L1473.8,253.8 L1475.3,253.8 L1476.8,253.8 L1478.3,253.9 L1479.8,254.0 L1481.3,254.1 L1482.7,254.1 L1484.2,254.2 L1485.7,254.1 L1487.2,254.1 L1488.7,254.0 L1490.2,254.1 L1491.7,254.1 L1493.2,254.2 L1494.7,254.2 L1496.2,254.2 L1497.7,254.2 L1499.2,254.2 L1500.7,254.2 L1502.2,254.4 L1503.7,254.6 L1505.2,254.7 L1506.7,254.8 L1508.2,254.8 L1509.7,255.0 L1511.1,255.1 L1512.6,255.2 L1514.1,255.2 L1515.6,255.1 L1517.1,255.2 L1518.6,255.3 L1520.1,255.4 L1521.6,255.5 L1523.1,255.7 L1524.6,255.8 L1526.1,256.0 L1527.6,256.1 L1529.1,256.3 L1530.6,256.3 L1532.1,256.3 L1533.6,256.3 L1535.1,256.4 L1536.6,256.6 L1538.1,256.7 L1539.6,256.9 L1541.0,257.1 L1542.5,257.3 L1544.0,257.4 L1545.5,257.5 L1547.0,257.6 L1548.5,257.7 L1550.0,257.8 L1551.5,257.9 L1553.0,258.0 L1554.5,258.0 L1556.0,258.2 L1557.5,258.2 L1559.0,258.3 L1560.5,258.3 L1562.0,258.4 L1563.5,258.5 L1564.9,258.6 L1566.4,258.8 L1567.9,258.9 L1569.4,259.0 L1570.9,259.1 L1572.4,259.2 L1573.9,259.2 L1575.4,259.3 L1576.9,259.4 L1578.4,259.5 L1579.9,259.6 L1581.4,259.8 L1582.9,259.9 L1584.4,260.1 L1585.9,260.1 L1587.4,260.1 L1588.8,260.1 L1590.3,260.1 L1591.8,260.2 L1593.3,260.2 L1594.8,260.3 L1596.3,260.3 L1597.8,260.3 L1599.3,260.3 L1600.8,260.4 L1602.3,260.6 L1603.8,260.7 L1605.3,260.7 L1606.8,260.7 L1608.3,260.7 L1609.8,260.7 L1611.3,260.7 L1612.8,260.6 L1614.3,260.7 L1615.8,260.7 L1617.3,260.7 L1618.7,260.7 L1620.2,260.7 L1621.7,260.8 L1623.2,260.8 L1624.7,260.7 L1626.2,260.6 L1627.7,260.7 L1629.2,260.7 L1630.7,260.8 L1632.2,260.7 L1633.7,260.6 L1635.2,260.6 L1636.7,260.4 L1638.2,260.4 L1639.7,260.4 L1641.2,260.5 L1642.7,260.4 L1644.2,260.3 L1645.7,260.2 L1647.2,260.2 L1648.6,260.1 L1650.1,260.0 L1651.6,259.9 L1653.1,260.0 L1654.6,260.0 L1656.1,259.9 L1657.6,259.7 L1659.1,259.6 L1660.6,259.6 L1662.1,259.6 L1663.6,259.6 L1665.1,259.5 L1666.6,259.4 L1668.1,259.3 L1669.6,259.2 L1671.1,259.1 L1672.6,259.1 L1674.1,259.1 L1675.6,259.1 L1677.1,259.0 L1678.6,258.9 L1680.1,258.8 L1681.6,258.8 L1683.1,258.9 L1684.5,258.9 L1686.0,259.0 L1687.5,259.0 L1689.0,259.0 L1690.5,259.0 L1692.0,259.0 L1693.5,259.1 L1695.0,259.1 L1696.5,259.1 L1698.0,259.1 L1699.5,259.1 L1701.0,259.1 L1702.5,259.2 L1704.0,259.2 L1705.5,259.3 L1707.0,259.4 L1708.5,259.6 L1710.0,259.7 L1711.5,259.9 L1713.0,259.9 L1714.5,259.8 L1716.0,259.8 L1717.5,259.8 L1719.0,260.0 L1720.5,260.2 L1722.0,260.4 L1723.5,260.5 L1725.0,260.6 L1726.5,260.7 L1728.0,260.8 L1729.4,261.0 L1730.9,261.1 L1732.4,261.3 L1733.9,261.3 L1735.4,261.4 L1736.9,261.4 L1738.4,261.6 L1739.9,261.8 L1741.4,262.0 L1742.9,262.2 L1744.4,262.3 L1745.9,262.3 L1747.4,262.4 L1748.9,262.5 L1750.4,262.7 L1751.9,262.8 L1753.4,263.0 L1754.9,263.0 L1756.4,262.9 L1757.9,262.9 L1759.4,263.1 L1760.9,263.3 L1762.4,263.5 L1763.9,263.5 L1765.4,263.6 L1766.9,263.6 L1768.4,263.7 L1769.9,263.7 L1771.4,263.8 L1772.9,264.0 L1774.4,264.2 L1775.9,264.2 L1777.4,264.3 L1778.9,264.3 L1780.4,264.4 L1781.9,264.4 L1783.4,264.5 L1784.9,264.5 L1786.3,264.7 L1787.8,264.7 L1789.3,264.8 L1790.8,264.9 L1792.3,265.0 L1793.8,265.1 L1795.3,265.1 L1796.8,265.2 L1798.3,265.2 L1799.8,265.3 L1801.3,265.3 L1802.8,265.4 L1804.3,265.5 L1805.8,265.6 L1807.3,265.7 L1808.8,265.8 L1810.3,265.7 L1811.8,265.8 L1813.3,265.9 L1814.8,266.0 L1816.3,265.9 L1817.8,266.0 L1819.3,266.0 L1820.8,266.2 L1822.3,266.2 L1823.8,266.2 L1825.3,266.2 L1826.8,266.2 L1828.3,266.3 L1829.8,266.3 L1831.3,266.3 L1832.8,266.4 L1834.3,266.6 L1835.8,266.7 L1837.3,266.8 L1838.8,266.8 L1840.3,266.9 L1841.8,266.9 L1843.3,266.9 L1844.8,266.9 L1846.3,266.9 L1847.8,266.9 L1849.3,267.0 L1850.8,267.1 L1852.3,267.2 L1853.8,267.3 L1855.3,267.4 L1856.8,267.4 L1858.3,267.4 L1859.8,267.3 L1861.3,267.3 L1862.8,267.4 L1864.3,267.6 L1865.7,267.7 L1867.2,267.7 L1868.7,267.8 L1870.2,267.9 L1871.7,268.0 L1873.2,268.0 L1874.7,267.9 L1876.2,268.0 L1877.7,268.1 L1879.2,268.2 L1880.7,268.2 L1882.2,268.2 L1883.7,268.3 L1885.2,268.3 L1886.7,268.4 L1888.2,268.5 L1889.7,268.5 L1891.2,268.7 L1892.7,268.7 L1894.2,268.7 L1895.7,268.7 L1897.2,268.8 L1898.7,268.9 L1900.2,269.0 L1901.7,269.0 L1903.2,269.0 L1904.7,269.1 L1906.2,269.3 L1907.7,269.4 L1909.2,269.5 L1910.7,269.5 L1912.2,269.6 L1913.7,269.7 L1915.2,269.7 L1916.7,269.7 L1918.2,269.7 L1919.7,269.8 L1921.2,269.8 L1922.7,269.8 L1924.2,269.9 L1925.7,270.0 L1927.2,270.2 L1928.7,270.2 L1930.2,270.1 L1931.7,270.1 L1933.2,270.2 L1934.7,270.4 L1936.2,270.5 L1937.7,270.6 L1939.2,270.6 L1940.7,270.7 L1942.2,270.7 L1943.7,270.8 L1945.2,270.9 L1946.7,271.1 L1948.2,271.2 L1949.7,271.3 L1951.2,271.3 L1952.7,271.4 L1954.2,271.5 L1955.7,271.5 L1957.2,271.5 L1958.7,271.6 L1960.2,271.7 L1961.7,271.7 L1963.2,271.8 L1964.7,271.9 L1966.2,272.0 L1967.7,272.1 L1969.2,272.2 L1970.7,272.3 L1972.2,272.4 L1973.7,272.4 L1975.2,272.5 L1976.7,272.5 L1978.2,272.6 L1979.7,272.7 L1981.2,272.7 L1982.7,272.8 L1984.2,272.9 L1985.7,273.1 L1987.2,273.1 L1988.7,273.1 L1990.2,273.2 L1991.7,273.3 L1993.2,273.5 L1994.7,273.5 L1996.2,273.6 L1997.7,273.7 L1999.1,273.9 L2000.6,274.0 L2002.1,274.1 L2003.6,274.2 L2005.1,274.2 L2006.6,274.3 L2008.2,274.3 L2009.7,274.3 L2011.1,274.5 L2012.6,274.6 L2014.1,274.7 L2015.6,274.8 L2017.1,274.9 L2018.6,274.9 L2020.1,274.9 L2021.7,274.9 L2023.1,275.1 L2024.6,275.2 L2026.1,275.4 L2027.6,275.5 L2029.1,275.6 L2030.6,275.7 L2032.1,275.8 L2033.6,275.8 L2035.1,275.9 L2036.6,276.0 L2038.1,276.1 L2039.6,276.1 L2041.1,276.2 L2042.6,276.3 L2044.1,276.4 L2045.6,276.5 L2047.1,276.6 L2048.6,276.8 L2050.1,277.0 L2051.6,277.1 L2053.1,277.1 L2054.6,277.1 L2056.1,277.2 L2057.6,277.3 L2059.1,277.5 L2060.6,277.7 L2062.1,277.9 L2063.6,277.9 L2065.1,278.0 L2066.6,278.0 L2068.1,278.1 L2069.6,278.1 L2071.1,278.2 L2072.6,278.2 L2074.1,278.3 L2075.6,278.4 L2077.1,278.5 L2078.6,278.7 L2080.1,278.9 L2081.6,279.1 L2083.1,279.2 L2084.6,279.3 L2086.1,279.3 L2087.6,279.4 L2089.1,279.4 L2090.6,279.5 L2092.1,279.5 L2093.6,279.6 L2095.1,279.8 L2096.6,280.0 L2098.1,280.1 L2099.6,280.2 L2101.1,280.2 L2102.6,280.3 L2104.1,280.4 L2105.6,280.4 L2107.1,280.5 L2108.6,280.6 L2110.1,280.8 L2111.6,280.9 L2113.1,281.0 L2114.6,281.2 L2116.1,281.3 L2117.6,281.3 L2119.1,281.4 L2120.6,281.4 L2122.1,281.4 L2123.6,281.4 L2125.1,281.5 L2126.6,281.7 L2128.1,281.9 L2129.6,282.0 L2131.1,282.1 L2132.6,282.2 L2134.1,282.3 L2135.6,282.4 L2137.1,282.5 L2138.6,282.6 L2140.1,282.6 L2141.6,282.6 L2143.1,282.7 L2144.6,282.9 L2146.0,283.0 L2147.6,283.0 L2149.1,283.1 L2150.6,283.1 L2152.1,283.2 L2153.6,283.2 L2155.1,283.3 L2156.6,283.4 L2158.1,283.4 L2159.6,283.5 L2161.0,283.7 L2162.5,284.0 L2164.0,284.1 L2165.5,284.2 L2167.0,284.3 L2168.5,284.4 L2170.0,284.4 L2171.5,284.6 L2173.0,284.7 L2174.5,284.8 L2176.0,284.8 L2177.5,284.8 L2179.0,284.8 L2180.5,284.9 L2182.0,284.9 L2183.5,285.0 L2185.0,285.1 L2186.5,285.2 L2188.0,285.4 L2189.5,285.5 L2191.0,285.6 L2192.5,285.7 L2194.0,285.8 L2195.5,285.9 L2197.0,285.9 L2198.5,285.9 L2200.0,286.0 L2201.5,286.1 L2203.0,286.2 L2204.5,286.2 L2206.0,286.1 L2207.5,286.1 L2209.0,286.2 L2210.5,286.3 L2212.0,286.4 L2213.5,286.5 L2215.0,286.6 L2216.5,286.7 L2218.0,286.8 L2219.5,286.8 L2221.0,286.8 L2222.5,286.8 L2224.0,286.9 L2225.4,287.1 L2226.9,287.2 L2228.4,287.3 L2229.9,287.2 L2231.4,287.2 L2232.9,287.2 L2234.4,287.3 L2235.9,287.3 L2237.4,287.5 L2238.9,287.6 L2240.4,287.7 L2241.9,287.7 L2243.4,287.7 L2244.9,287.8 L2246.4,287.8 L2247.9,287.9 L2249.4,288.0 L2250.9,288.1 L2252.4,288.2 L2253.9,288.1 L2255.4,288.1 L2256.9,288.1 L2258.4,288.2 L2259.9,288.2 L2261.4,288.3 L2262.9,288.3 L2264.4,288.4 L2265.9,288.5 L2267.4,288.5 L2268.9,288.5 L2270.4,288.4 L2271.9,288.4 L2273.4,288.4 L2274.9,288.5 L2276.4,288.5 L2277.9,288.6 L2279.4,288.5 L2280.9,288.5 L2282.4,288.5 L2283.8,288.5 L2285.3,288.6 L2286.8,288.7 L2288.3,288.7 L2289.8,288.8 L2291.3,288.8 L2292.8,288.9 L2294.3,289.0 L2295.8,289.0 L2297.3,289.0 L2298.8,288.9 L2300.3,288.9 L2301.8,288.9 L2303.3,288.9 L2304.8,288.9 L2306.3,289.0 L2307.8,289.0 L2309.3,289.0 L2310.8,288.9 L2312.3,288.8 L2313.8,288.8 L2315.3,288.9 L2316.8,288.9 L2318.3,289.0 L2319.8,288.9 L2321.3,288.9 L2322.8,288.9 L2324.3,288.9 L2325.7,289.0 L2326.0,289.0" fill="none" stroke="#008000" stroke-width="8.4" stroke-linejoin="round" stroke-linecap="round"/>
<rect x="244.2" y="66.6" width="2084.0" height="1541.4" fill="none" stroke="#000" stroke-width="8.6" stroke-linejoin="round"/>
<path d="M417.9,1608.0 V1592.5 M591.5,1608.0 V1578.0 M765.2,1608.0 V1592.5 M938.9,1608.0 V1578.0 M1112.5,1608.0 V1592.5 M1286.2,1608.0 V1578.0 M1459.9,1608.0 V1592.5 M1633.5,1608.0 V1578.0 M1807.2,1608.0 V1592.5 M1980.9,1608.0 V1578.0 M2154.5,1608.0 V1592.5 M244.2,1511.7 H260.2 M244.2,1415.3 H275.2 M244.2,1319.0 H260.2 M244.2,1222.7 H275.2 M244.2,1126.3 H260.2 M244.2,1030.0 H275.2 M244.2,933.6 H260.2 M244.2,837.3 H275.2 M244.2,741.0 H260.2 M244.2,644.6 H275.2 M244.2,548.3 H260.2 M244.2,451.9 H275.2 M244.2,355.6 H260.2 M244.2,259.3 H275.2 M244.2,162.9 H260.2" stroke="#000" stroke-width="8.6" stroke-linecap="round" fill="none"/>
<text x="161.5" y="1637.8" font-size="104" font-weight="bold" font-style="normal" fill="#000" >0</text>
<text x="162.5" y="1445.1" font-size="104" font-weight="bold" font-style="normal" fill="#000" >1</text>
<text x="161.5" y="1252.5" font-size="104" font-weight="bold" font-style="normal" fill="#000" >2</text>
<text x="160.5" y="1059.8" font-size="104" font-weight="bold" font-style="normal" fill="#000" >3</text>
<text x="159.5" y="867.1" font-size="104" font-weight="bold" font-style="normal" fill="#000" >4</text>
<text x="161.5" y="674.4" font-size="104" font-weight="bold" font-style="normal" fill="#000" >5</text>
<text x="160.5" y="481.7" font-size="104" font-weight="bold" font-style="normal" fill="#000" >6</text>
<text x="159.5" y="289.1" font-size="104" font-weight="bold" font-style="normal" fill="#000" >7</text>
<text x="160.5" y="96.4" font-size="104" font-weight="bold" font-style="normal" fill="#000" >8</text>
<text x="153.2" y="1723.5" font-size="104" font-weight="bold" font-style="normal" fill="#000" >0.00</text>
<text x="500.5" y="1723.5" font-size="104" font-weight="bold" font-style="normal" fill="#000" >0.05</text>
<text x="847.9" y="1723.5" font-size="104" font-weight="bold" font-style="normal" fill="#000" >0.10</text>
<text x="1195.2" y="1723.5" font-size="104" font-weight="bold" font-style="normal" fill="#000" >0.15</text>
<text x="1542.5" y="1723.5" font-size="104" font-weight="bold" font-style="normal" fill="#000" >0.20</text>
<text x="1889.9" y="1723.5" font-size="104" font-weight="bold" font-style="normal" fill="#000" >0.25</text>
<text x="2237.2" y="1723.5" font-size="104" font-weight="bold" font-style="normal" fill="#000" >0.30</text>
<text transform="translate(104.5,995.7) rotate(-90)" font-size="106" font-weight="bold" fill="#000">σ/GPa</text>
<text x="1265.2" y="1850.0" font-size="104" font-weight="bold" font-style="normal" fill="#000" >ε</text>
<line x1="1674.8" y1="810.9" x2="1855.8" y2="810.9" stroke="#000000" stroke-width="9" stroke-linecap="round"/>
<line x1="1674.8" y1="956.3" x2="1855.8" y2="956.3" stroke="#ff0000" stroke-width="9" stroke-linecap="round"/>
<line x1="1674.8" y1="1102.6" x2="1855.8" y2="1102.6" stroke="#0000ff" stroke-width="9" stroke-linecap="round"/>
<line x1="1674.8" y1="1248.5" x2="1855.8" y2="1248.5" stroke="#ff00ff" stroke-width="9" stroke-linecap="round"/>
<line x1="1674.8" y1="1393.9" x2="1855.8" y2="1393.9" stroke="#008000" stroke-width="9" stroke-linecap="round"/>
<text x="1878.0" y="839.7" font-size="104" font-weight="bold" font-style="normal" fill="#000" >10</text>
<text x="1982.7" y="786.7" font-size="62" font-weight="bold" font-style="normal" fill="#000" >8</text>
<text x="2016.0" y="839.7" font-size="104" font-weight="bold" font-style="normal" fill="#000" >s</text>
<text x="2054.0" y="785.7" font-size="62" font-weight="bold" font-style="normal" fill="#000" >-1</text>
<text x="1882.0" y="985.1" font-size="104" font-weight="bold" font-style="normal" fill="#000" >5</text>
<text x="1936.0" y="985.1" font-size="104" font-weight="normal" font-style="normal" fill="#000" >×</text>
<text x="1993.0" y="985.1" font-size="104" font-weight="bold" font-style="normal" fill="#000" >10</text>
<text x="2098.0" y="932.1" font-size="62" font-weight="bold" font-style="normal" fill="#000" >8</text>
<text x="2129.9" y="985.1" font-size="104" font-weight="bold" font-style="normal" fill="#000" >s</text>
<text x="2169.0" y="931.1" font-size="62" font-weight="bold" font-style="normal" fill="#000" >-1</text>
<text x="1880.7" y="1131.4" font-size="104" font-weight="bold" font-style="normal" fill="#000" >10</text>
<text x="1988.0" y="1078.4" font-size="62" font-weight="bold" font-style="normal" fill="#000" >9</text>
<text x="2018.7" y="1131.4" font-size="104" font-weight="bold" font-style="normal" fill="#000" >s</text>
<text x="2058.0" y="1077.4" font-size="62" font-weight="bold" font-style="normal" fill="#000" >-1</text>
<text x="1882.0" y="1277.3" font-size="104" font-weight="bold" font-style="normal" fill="#000" >5</text>
<text x="1936.0" y="1277.3" font-size="104" font-weight="normal" font-style="normal" fill="#000" >×</text>
<text x="1993.0" y="1277.3" font-size="104" font-weight="bold" font-style="normal" fill="#000" >10</text>
<text x="2098.0" y="1224.3" font-size="62" font-weight="bold" font-style="normal" fill="#000" >9</text>
<text x="2130.0" y="1277.3" font-size="104" font-weight="bold" font-style="normal" fill="#000" >s</text>
<text x="2169.0" y="1223.3" font-size="62" font-weight="bold" font-style="normal" fill="#000" >-1</text>
<text x="1880.7" y="1422.7" font-size="104" font-weight="bold" font-style="normal" fill="#000" >10</text>
<text x="1988.0" y="1369.7" font-size="62" font-weight="bold" font-style="normal" fill="#000" >10</text>
<text x="2050.0" y="1422.7" font-size="104" font-weight="bold" font-style="normal" fill="#000" >s</text>
<text x="2089.7" y="1368.7" font-size="62" font-weight="bold" font-style="normal" fill="#000" >-1</text>
</svg>
</body></html>
